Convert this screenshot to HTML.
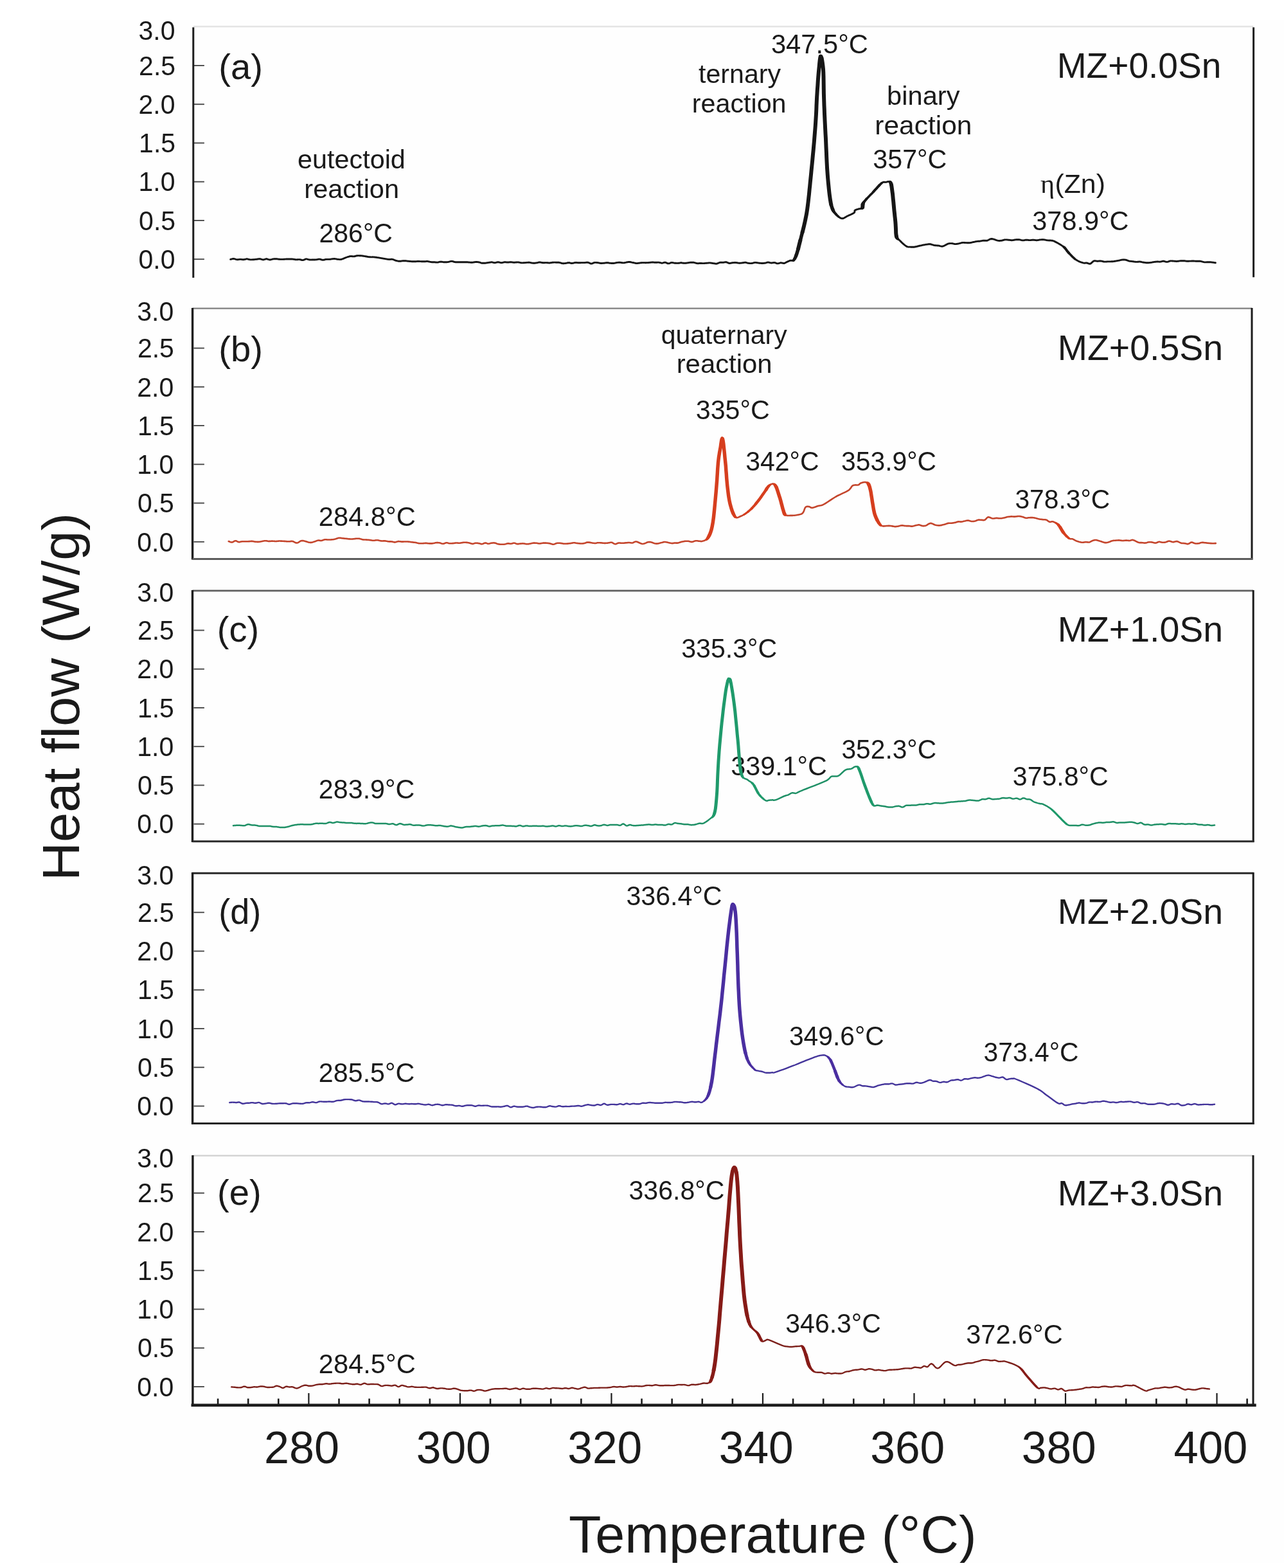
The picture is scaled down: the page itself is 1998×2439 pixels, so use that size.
<!DOCTYPE html>
<html><head><meta charset="utf-8"><title>DSC heat flow curves</title>
<style>html,body{margin:0;padding:0;background:#fff;}svg{display:block;}</style></head>
<body><svg width="1998" height="2439" viewBox="0 0 1998 2439">
<defs><clipPath id="cp"><rect x="62" y="0" width="1936" height="2431"/></clipPath></defs>
<rect width="1998" height="2439" fill="#fff"/>
<rect x="62" y="31" width="1936" height="2401" fill="#fefefe"/>
<g clip-path="url(#cp)">
<text transform="translate(215.44,417.90) scale(0.9550,1)" font-size="43" fill="#1a1a1a" font-family='"Liberation Sans", Arial, sans-serif'>0.0</text>
<line x1="301.4" y1="403.2" x2="317.9" y2="403.2" stroke="#4a4a4a" stroke-width="1.9"/>
<text transform="translate(216.08,357.65) scale(0.9550,1)" font-size="43" fill="#1a1a1a" font-family='"Liberation Sans", Arial, sans-serif'>0.5</text>
<line x1="301.4" y1="342.95" x2="317.9" y2="342.95" stroke="#4a4a4a" stroke-width="1.9"/>
<text transform="translate(215.44,297.40) scale(0.9550,1)" font-size="43" fill="#1a1a1a" font-family='"Liberation Sans", Arial, sans-serif'>1.0</text>
<line x1="301.4" y1="282.7" x2="317.9" y2="282.7" stroke="#4a4a4a" stroke-width="1.9"/>
<text transform="translate(216.08,237.15) scale(0.9550,1)" font-size="43" fill="#1a1a1a" font-family='"Liberation Sans", Arial, sans-serif'>1.5</text>
<line x1="301.4" y1="222.45" x2="317.9" y2="222.45" stroke="#4a4a4a" stroke-width="1.9"/>
<text transform="translate(215.44,176.90) scale(0.9550,1)" font-size="43" fill="#1a1a1a" font-family='"Liberation Sans", Arial, sans-serif'>2.0</text>
<line x1="301.4" y1="162.2" x2="317.9" y2="162.2" stroke="#4a4a4a" stroke-width="1.9"/>
<text transform="translate(216.08,116.65) scale(0.9550,1)" font-size="43" fill="#1a1a1a" font-family='"Liberation Sans", Arial, sans-serif'>2.5</text>
<line x1="301.4" y1="101.94999999999999" x2="317.9" y2="101.94999999999999" stroke="#4a4a4a" stroke-width="1.9"/>
<text transform="translate(215.44,61.50) scale(0.9550,1)" font-size="43" fill="#1a1a1a" font-family='"Liberation Sans", Arial, sans-serif'>3.0</text>
<text transform="translate(213.24,857.50) scale(0.9550,1)" font-size="43" fill="#1a1a1a" font-family='"Liberation Sans", Arial, sans-serif'>0.0</text>
<line x1="301.4" y1="842.8" x2="317.9" y2="842.8" stroke="#4a4a4a" stroke-width="1.9"/>
<text transform="translate(213.88,797.25) scale(0.9550,1)" font-size="43" fill="#1a1a1a" font-family='"Liberation Sans", Arial, sans-serif'>0.5</text>
<line x1="301.4" y1="782.55" x2="317.9" y2="782.55" stroke="#4a4a4a" stroke-width="1.9"/>
<text transform="translate(213.24,737.00) scale(0.9550,1)" font-size="43" fill="#1a1a1a" font-family='"Liberation Sans", Arial, sans-serif'>1.0</text>
<line x1="301.4" y1="722.3" x2="317.9" y2="722.3" stroke="#4a4a4a" stroke-width="1.9"/>
<text transform="translate(213.88,676.75) scale(0.9550,1)" font-size="43" fill="#1a1a1a" font-family='"Liberation Sans", Arial, sans-serif'>1.5</text>
<line x1="301.4" y1="662.05" x2="317.9" y2="662.05" stroke="#4a4a4a" stroke-width="1.9"/>
<text transform="translate(213.24,616.50) scale(0.9550,1)" font-size="43" fill="#1a1a1a" font-family='"Liberation Sans", Arial, sans-serif'>2.0</text>
<line x1="301.4" y1="601.8" x2="317.9" y2="601.8" stroke="#4a4a4a" stroke-width="1.9"/>
<text transform="translate(213.88,556.25) scale(0.9550,1)" font-size="43" fill="#1a1a1a" font-family='"Liberation Sans", Arial, sans-serif'>2.5</text>
<line x1="301.4" y1="541.55" x2="317.9" y2="541.55" stroke="#4a4a4a" stroke-width="1.9"/>
<text transform="translate(213.24,498.60) scale(0.9550,1)" font-size="43" fill="#1a1a1a" font-family='"Liberation Sans", Arial, sans-serif'>3.0</text>
<text transform="translate(213.24,1296.40) scale(0.9550,1)" font-size="43" fill="#1a1a1a" font-family='"Liberation Sans", Arial, sans-serif'>0.0</text>
<line x1="301.4" y1="1281.7" x2="317.9" y2="1281.7" stroke="#4a4a4a" stroke-width="1.9"/>
<text transform="translate(213.88,1236.15) scale(0.9550,1)" font-size="43" fill="#1a1a1a" font-family='"Liberation Sans", Arial, sans-serif'>0.5</text>
<line x1="301.4" y1="1221.45" x2="317.9" y2="1221.45" stroke="#4a4a4a" stroke-width="1.9"/>
<text transform="translate(213.24,1175.90) scale(0.9550,1)" font-size="43" fill="#1a1a1a" font-family='"Liberation Sans", Arial, sans-serif'>1.0</text>
<line x1="301.4" y1="1161.2" x2="317.9" y2="1161.2" stroke="#4a4a4a" stroke-width="1.9"/>
<text transform="translate(213.88,1115.65) scale(0.9550,1)" font-size="43" fill="#1a1a1a" font-family='"Liberation Sans", Arial, sans-serif'>1.5</text>
<line x1="301.4" y1="1100.95" x2="317.9" y2="1100.95" stroke="#4a4a4a" stroke-width="1.9"/>
<text transform="translate(213.24,1055.40) scale(0.9550,1)" font-size="43" fill="#1a1a1a" font-family='"Liberation Sans", Arial, sans-serif'>2.0</text>
<line x1="301.4" y1="1040.7" x2="317.9" y2="1040.7" stroke="#4a4a4a" stroke-width="1.9"/>
<text transform="translate(213.88,995.15) scale(0.9550,1)" font-size="43" fill="#1a1a1a" font-family='"Liberation Sans", Arial, sans-serif'>2.5</text>
<line x1="301.4" y1="980.45" x2="317.9" y2="980.45" stroke="#4a4a4a" stroke-width="1.9"/>
<text transform="translate(213.24,936.30) scale(0.9550,1)" font-size="43" fill="#1a1a1a" font-family='"Liberation Sans", Arial, sans-serif'>3.0</text>
<text transform="translate(213.24,1735.20) scale(0.9550,1)" font-size="43" fill="#1a1a1a" font-family='"Liberation Sans", Arial, sans-serif'>0.0</text>
<line x1="301.4" y1="1720.5" x2="317.9" y2="1720.5" stroke="#4a4a4a" stroke-width="1.9"/>
<text transform="translate(213.88,1674.95) scale(0.9550,1)" font-size="43" fill="#1a1a1a" font-family='"Liberation Sans", Arial, sans-serif'>0.5</text>
<line x1="301.4" y1="1660.25" x2="317.9" y2="1660.25" stroke="#4a4a4a" stroke-width="1.9"/>
<text transform="translate(213.24,1614.70) scale(0.9550,1)" font-size="43" fill="#1a1a1a" font-family='"Liberation Sans", Arial, sans-serif'>1.0</text>
<line x1="301.4" y1="1600.0" x2="317.9" y2="1600.0" stroke="#4a4a4a" stroke-width="1.9"/>
<text transform="translate(213.88,1554.45) scale(0.9550,1)" font-size="43" fill="#1a1a1a" font-family='"Liberation Sans", Arial, sans-serif'>1.5</text>
<line x1="301.4" y1="1539.75" x2="317.9" y2="1539.75" stroke="#4a4a4a" stroke-width="1.9"/>
<text transform="translate(213.24,1494.20) scale(0.9550,1)" font-size="43" fill="#1a1a1a" font-family='"Liberation Sans", Arial, sans-serif'>2.0</text>
<line x1="301.4" y1="1479.5" x2="317.9" y2="1479.5" stroke="#4a4a4a" stroke-width="1.9"/>
<text transform="translate(213.88,1433.95) scale(0.9550,1)" font-size="43" fill="#1a1a1a" font-family='"Liberation Sans", Arial, sans-serif'>2.5</text>
<line x1="301.4" y1="1419.25" x2="317.9" y2="1419.25" stroke="#4a4a4a" stroke-width="1.9"/>
<text transform="translate(213.24,1375.90) scale(0.9550,1)" font-size="43" fill="#1a1a1a" font-family='"Liberation Sans", Arial, sans-serif'>3.0</text>
<text transform="translate(213.24,2171.70) scale(0.9550,1)" font-size="43" fill="#1a1a1a" font-family='"Liberation Sans", Arial, sans-serif'>0.0</text>
<line x1="301.4" y1="2157.0" x2="317.9" y2="2157.0" stroke="#4a4a4a" stroke-width="1.9"/>
<text transform="translate(213.88,2111.45) scale(0.9550,1)" font-size="43" fill="#1a1a1a" font-family='"Liberation Sans", Arial, sans-serif'>0.5</text>
<line x1="301.4" y1="2096.75" x2="317.9" y2="2096.75" stroke="#4a4a4a" stroke-width="1.9"/>
<text transform="translate(213.24,2051.20) scale(0.9550,1)" font-size="43" fill="#1a1a1a" font-family='"Liberation Sans", Arial, sans-serif'>1.0</text>
<line x1="301.4" y1="2036.5" x2="317.9" y2="2036.5" stroke="#4a4a4a" stroke-width="1.9"/>
<text transform="translate(213.88,1990.95) scale(0.9550,1)" font-size="43" fill="#1a1a1a" font-family='"Liberation Sans", Arial, sans-serif'>1.5</text>
<line x1="301.4" y1="1976.25" x2="317.9" y2="1976.25" stroke="#4a4a4a" stroke-width="1.9"/>
<text transform="translate(213.24,1930.70) scale(0.9550,1)" font-size="43" fill="#1a1a1a" font-family='"Liberation Sans", Arial, sans-serif'>2.0</text>
<line x1="301.4" y1="1916.0" x2="317.9" y2="1916.0" stroke="#4a4a4a" stroke-width="1.9"/>
<text transform="translate(213.88,1870.45) scale(0.9550,1)" font-size="43" fill="#1a1a1a" font-family='"Liberation Sans", Arial, sans-serif'>2.5</text>
<line x1="301.4" y1="1855.75" x2="317.9" y2="1855.75" stroke="#4a4a4a" stroke-width="1.9"/>
<text transform="translate(213.24,1815.50) scale(0.9550,1)" font-size="43" fill="#1a1a1a" font-family='"Liberation Sans", Arial, sans-serif'>3.0</text>
<line x1="300.8" y1="41.2" x2="1950.3" y2="41.2" stroke="#e4e4e4" stroke-width="2.6"/>
<line x1="300.8" y1="42.6" x2="300.8" y2="432" stroke="#1c1c1c" stroke-width="3"/>
<line x1="1950.6" y1="42.6" x2="1950.6" y2="431.2" stroke="#1c1c1c" stroke-width="3"/>
<line x1="299.6" y1="479.7" x2="1948" y2="479.7" stroke="#8c8c8c" stroke-width="2.6"/>
<line x1="299.6" y1="479" x2="299.6" y2="870.5" stroke="#1c1c1c" stroke-width="3.4"/>
<line x1="1948" y1="479" x2="1948" y2="870.5" stroke="#1c1c1c" stroke-width="3"/>
<line x1="299.6" y1="869.6" x2="1949.5" y2="869.6" stroke="#5c5c5c" stroke-width="3"/>
<line x1="299.5" y1="918.9" x2="1950.2" y2="918.9" stroke="#606060" stroke-width="2.6"/>
<line x1="299.5" y1="918" x2="299.5" y2="1310" stroke="#1c1c1c" stroke-width="3.4"/>
<line x1="1950.2" y1="918" x2="1950.2" y2="1310" stroke="#1c1c1c" stroke-width="3"/>
<line x1="299.5" y1="1308.8" x2="1951.5" y2="1308.8" stroke="#2a2a2a" stroke-width="3"/>
<line x1="299.6" y1="1358.3" x2="1950.2" y2="1358.3" stroke="#2a2a2a" stroke-width="3"/>
<line x1="299.6" y1="1357" x2="299.6" y2="1749" stroke="#1c1c1c" stroke-width="3.4"/>
<line x1="1950.2" y1="1357" x2="1950.2" y2="1749" stroke="#1c1c1c" stroke-width="3"/>
<line x1="299.6" y1="1747.6" x2="1951.5" y2="1747.6" stroke="#222" stroke-width="3"/>
<line x1="299.9" y1="1797.7" x2="1950" y2="1797.7" stroke="#d0d0d0" stroke-width="2.2"/>
<line x1="299.9" y1="1797" x2="299.9" y2="2188" stroke="#1c1c1c" stroke-width="3.4"/>
<line x1="1950" y1="1797" x2="1950" y2="2188" stroke="#1c1c1c" stroke-width="3"/>
<line x1="297.5" y1="2185.8" x2="1954.7" y2="2185.8" stroke="#1c1c1c" stroke-width="4.4"/>
<line x1="339.08799999999997" y1="2184" x2="339.08799999999997" y2="2175.5" stroke="#1c1c1c" stroke-width="2.6"/>
<line x1="386.192" y1="2184" x2="386.192" y2="2175.5" stroke="#1c1c1c" stroke-width="2.6"/>
<line x1="433.296" y1="2184" x2="433.296" y2="2175.5" stroke="#1c1c1c" stroke-width="2.6"/>
<line x1="480.4" y1="2184" x2="480.4" y2="2167" stroke="#1c1c1c" stroke-width="2.2"/>
<line x1="527.504" y1="2184" x2="527.504" y2="2175.5" stroke="#1c1c1c" stroke-width="2.6"/>
<line x1="574.608" y1="2184" x2="574.608" y2="2175.5" stroke="#1c1c1c" stroke-width="2.6"/>
<line x1="621.712" y1="2184" x2="621.712" y2="2175.5" stroke="#1c1c1c" stroke-width="2.6"/>
<line x1="668.816" y1="2184" x2="668.816" y2="2175.5" stroke="#1c1c1c" stroke-width="2.6"/>
<line x1="715.92" y1="2184" x2="715.92" y2="2167" stroke="#1c1c1c" stroke-width="2.2"/>
<line x1="763.024" y1="2184" x2="763.024" y2="2175.5" stroke="#1c1c1c" stroke-width="2.6"/>
<line x1="810.1279999999999" y1="2184" x2="810.1279999999999" y2="2175.5" stroke="#1c1c1c" stroke-width="2.6"/>
<line x1="857.232" y1="2184" x2="857.232" y2="2175.5" stroke="#1c1c1c" stroke-width="2.6"/>
<line x1="904.336" y1="2184" x2="904.336" y2="2175.5" stroke="#1c1c1c" stroke-width="2.6"/>
<line x1="951.4399999999999" y1="2184" x2="951.4399999999999" y2="2167" stroke="#1c1c1c" stroke-width="2.2"/>
<line x1="998.544" y1="2184" x2="998.544" y2="2175.5" stroke="#1c1c1c" stroke-width="2.6"/>
<line x1="1045.6480000000001" y1="2184" x2="1045.6480000000001" y2="2175.5" stroke="#1c1c1c" stroke-width="2.6"/>
<line x1="1092.752" y1="2184" x2="1092.752" y2="2175.5" stroke="#1c1c1c" stroke-width="2.6"/>
<line x1="1139.856" y1="2184" x2="1139.856" y2="2175.5" stroke="#1c1c1c" stroke-width="2.6"/>
<line x1="1186.96" y1="2184" x2="1186.96" y2="2167" stroke="#1c1c1c" stroke-width="2.2"/>
<line x1="1234.0639999999999" y1="2184" x2="1234.0639999999999" y2="2175.5" stroke="#1c1c1c" stroke-width="2.6"/>
<line x1="1281.1680000000001" y1="2184" x2="1281.1680000000001" y2="2175.5" stroke="#1c1c1c" stroke-width="2.6"/>
<line x1="1328.272" y1="2184" x2="1328.272" y2="2175.5" stroke="#1c1c1c" stroke-width="2.6"/>
<line x1="1375.376" y1="2184" x2="1375.376" y2="2175.5" stroke="#1c1c1c" stroke-width="2.6"/>
<line x1="1422.48" y1="2184" x2="1422.48" y2="2167" stroke="#1c1c1c" stroke-width="2.2"/>
<line x1="1469.5839999999998" y1="2184" x2="1469.5839999999998" y2="2175.5" stroke="#1c1c1c" stroke-width="2.6"/>
<line x1="1516.688" y1="2184" x2="1516.688" y2="2175.5" stroke="#1c1c1c" stroke-width="2.6"/>
<line x1="1563.792" y1="2184" x2="1563.792" y2="2175.5" stroke="#1c1c1c" stroke-width="2.6"/>
<line x1="1610.8960000000002" y1="2184" x2="1610.8960000000002" y2="2175.5" stroke="#1c1c1c" stroke-width="2.6"/>
<line x1="1658.0" y1="2184" x2="1658.0" y2="2167" stroke="#1c1c1c" stroke-width="2.2"/>
<line x1="1705.1039999999998" y1="2184" x2="1705.1039999999998" y2="2175.5" stroke="#1c1c1c" stroke-width="2.6"/>
<line x1="1752.208" y1="2184" x2="1752.208" y2="2175.5" stroke="#1c1c1c" stroke-width="2.6"/>
<line x1="1799.312" y1="2184" x2="1799.312" y2="2175.5" stroke="#1c1c1c" stroke-width="2.6"/>
<line x1="1846.4160000000002" y1="2184" x2="1846.4160000000002" y2="2175.5" stroke="#1c1c1c" stroke-width="2.6"/>
<line x1="1893.52" y1="2184" x2="1893.52" y2="2167" stroke="#1c1c1c" stroke-width="2.2"/>
<line x1="1940.6239999999998" y1="2184" x2="1940.6239999999998" y2="2175.5" stroke="#1c1c1c" stroke-width="2.6"/>
<text transform="translate(411.11,2276.00) scale(1.0021,1)" font-size="70" fill="#1a1a1a" font-family='"Liberation Sans", Arial, sans-serif'>280</text>
<text transform="translate(647.75,2276.00) scale(0.9924,1)" font-size="70" fill="#1a1a1a" font-family='"Liberation Sans", Arial, sans-serif'>300</text>
<text transform="translate(883.27,2276.00) scale(0.9924,1)" font-size="70" fill="#1a1a1a" font-family='"Liberation Sans", Arial, sans-serif'>320</text>
<text transform="translate(1118.79,2276.00) scale(0.9924,1)" font-size="70" fill="#1a1a1a" font-family='"Liberation Sans", Arial, sans-serif'>340</text>
<text transform="translate(1354.31,2276.00) scale(0.9924,1)" font-size="70" fill="#1a1a1a" font-family='"Liberation Sans", Arial, sans-serif'>360</text>
<text transform="translate(1589.83,2276.00) scale(0.9924,1)" font-size="70" fill="#1a1a1a" font-family='"Liberation Sans", Arial, sans-serif'>380</text>
<text transform="translate(1826.45,2276.00) scale(0.9828,1)" font-size="70" fill="#1a1a1a" font-family='"Liberation Sans", Arial, sans-serif'>400</text>
<text transform="translate(885.01,2415.00) scale(1.0077,1)" font-size="82" fill="#1a1a1a" font-family='"Liberation Sans", Arial, sans-serif'>Temperature (°C)</text>
<g transform="translate(122.7,1363.5) rotate(-90)"><text transform="translate(-6.49,0) scale(1.0129,1)" font-size="82" fill="#1a1a1a" font-family='"Liberation Sans", Arial, sans-serif'>Heat flow (W/g)</text></g>
<text transform="translate(340.16,122.50) scale(1.0227,1)" font-size="55" fill="#1a1a1a" font-family='"Liberation Sans", Arial, sans-serif'>(a)</text>
<text transform="translate(340.16,561.50) scale(1.0227,1)" font-size="55" fill="#1a1a1a" font-family='"Liberation Sans", Arial, sans-serif'>(b)</text>
<text transform="translate(337.77,998.00) scale(1.0186,1)" font-size="55" fill="#1a1a1a" font-family='"Liberation Sans", Arial, sans-serif'>(c)</text>
<text transform="translate(340.26,1437.40) scale(0.9839,1)" font-size="55" fill="#1a1a1a" font-family='"Liberation Sans", Arial, sans-serif'>(d)</text>
<text transform="translate(338.07,1874.00) scale(1.0211,1)" font-size="55" fill="#1a1a1a" font-family='"Liberation Sans", Arial, sans-serif'>(e)</text>
<text transform="translate(1644.70,121.10) scale(1.0017,1)" font-size="55" fill="#1a1a1a" font-family='"Liberation Sans", Arial, sans-serif'>MZ+0.0Sn</text>
<text transform="translate(1645.87,559.60) scale(1.0074,1)" font-size="55" fill="#1a1a1a" font-family='"Liberation Sans", Arial, sans-serif'>MZ+0.5Sn</text>
<text transform="translate(1645.87,997.80) scale(1.0074,1)" font-size="55" fill="#1a1a1a" font-family='"Liberation Sans", Arial, sans-serif'>MZ+1.0Sn</text>
<text transform="translate(1645.87,1436.80) scale(1.0074,1)" font-size="55" fill="#1a1a1a" font-family='"Liberation Sans", Arial, sans-serif'>MZ+2.0Sn</text>
<text transform="translate(1645.87,1874.80) scale(1.0074,1)" font-size="55" fill="#1a1a1a" font-family='"Liberation Sans", Arial, sans-serif'>MZ+3.0Sn</text>
<text transform="translate(1199.90,82.70) scale(0.9692,1)" font-size="43" fill="#1a1a1a" font-family='"Liberation Sans", Arial, sans-serif'>347.5°C</text>
<text transform="translate(1087.10,128.70) scale(1.0274,1)" font-size="40" fill="#1a1a1a" font-family='"Liberation Sans", Arial, sans-serif'>ternary</text>
<text transform="translate(1076.72,174.70) scale(1.0323,1)" font-size="40" fill="#1a1a1a" font-family='"Liberation Sans", Arial, sans-serif'>reaction</text>
<text transform="translate(1380.10,162.50) scale(1.0409,1)" font-size="40" fill="#1a1a1a" font-family='"Liberation Sans", Arial, sans-serif'>binary</text>
<text transform="translate(1361.35,208.60) scale(1.0614,1)" font-size="40" fill="#1a1a1a" font-family='"Liberation Sans", Arial, sans-serif'>reaction</text>
<text transform="translate(1358.31,261.90) scale(0.9594,1)" font-size="43" fill="#1a1a1a" font-family='"Liberation Sans", Arial, sans-serif'>357°C</text>
<text transform="translate(463.11,262.00) scale(1.0337,1)" font-size="40" fill="#1a1a1a" font-family='"Liberation Sans", Arial, sans-serif'>eutectoid</text>
<text transform="translate(473.30,308.10) scale(1.0388,1)" font-size="40" fill="#1a1a1a" font-family='"Liberation Sans", Arial, sans-serif'>reaction</text>
<text transform="translate(496.48,376.70) scale(0.9546,1)" font-size="43" fill="#1a1a1a" font-family='"Liberation Sans", Arial, sans-serif'>286°C</text>
<text transform="translate(1606.30,357.70) scale(0.9639,1)" font-size="43" fill="#1a1a1a" font-family='"Liberation Sans", Arial, sans-serif'>378.9°C</text>
<text transform="translate(1028.72,534.90) scale(1.0248,1)" font-size="40" fill="#1a1a1a" font-family='"Liberation Sans", Arial, sans-serif'>quaternary</text>
<text transform="translate(1052.68,579.90) scale(1.0468,1)" font-size="40" fill="#1a1a1a" font-family='"Liberation Sans", Arial, sans-serif'>reaction</text>
<text transform="translate(1082.81,652.40) scale(0.9577,1)" font-size="43" fill="#1a1a1a" font-family='"Liberation Sans", Arial, sans-serif'>335°C</text>
<text transform="translate(1160.22,732.10) scale(0.9534,1)" font-size="43" fill="#1a1a1a" font-family='"Liberation Sans", Arial, sans-serif'>342°C</text>
<text transform="translate(1309.12,732.10) scale(0.9496,1)" font-size="43" fill="#1a1a1a" font-family='"Liberation Sans", Arial, sans-serif'>353.9°C</text>
<text transform="translate(495.85,817.50) scale(0.9682,1)" font-size="43" fill="#1a1a1a" font-family='"Liberation Sans", Arial, sans-serif'>284.8°C</text>
<text transform="translate(1579.42,790.80) scale(0.9489,1)" font-size="43" fill="#1a1a1a" font-family='"Liberation Sans", Arial, sans-serif'>378.3°C</text>
<text transform="translate(1060.22,1023.10) scale(0.9561,1)" font-size="43" fill="#1a1a1a" font-family='"Liberation Sans", Arial, sans-serif'>335.3°C</text>
<text transform="translate(1137.31,1206.30) scale(0.9600,1)" font-size="43" fill="#1a1a1a" font-family='"Liberation Sans", Arial, sans-serif'>339.1°C</text>
<text transform="translate(1309.43,1180.30) scale(0.9476,1)" font-size="43" fill="#1a1a1a" font-family='"Liberation Sans", Arial, sans-serif'>352.3°C</text>
<text transform="translate(495.87,1241.90) scale(0.9590,1)" font-size="43" fill="#1a1a1a" font-family='"Liberation Sans", Arial, sans-serif'>283.9°C</text>
<text transform="translate(1575.82,1222.30) scale(0.9548,1)" font-size="43" fill="#1a1a1a" font-family='"Liberation Sans", Arial, sans-serif'>375.8°C</text>
<text transform="translate(974.41,1408.20) scale(0.9574,1)" font-size="43" fill="#1a1a1a" font-family='"Liberation Sans", Arial, sans-serif'>336.4°C</text>
<text transform="translate(1227.92,1626.20) scale(0.9489,1)" font-size="43" fill="#1a1a1a" font-family='"Liberation Sans", Arial, sans-serif'>349.6°C</text>
<text transform="translate(495.87,1683.30) scale(0.9590,1)" font-size="43" fill="#1a1a1a" font-family='"Liberation Sans", Arial, sans-serif'>285.5°C</text>
<text transform="translate(1530.62,1651.00) scale(0.9489,1)" font-size="43" fill="#1a1a1a" font-family='"Liberation Sans", Arial, sans-serif'>373.4°C</text>
<text transform="translate(978.52,1865.90) scale(0.9554,1)" font-size="43" fill="#1a1a1a" font-family='"Liberation Sans", Arial, sans-serif'>336.8°C</text>
<text transform="translate(1222.32,2072.50) scale(0.9528,1)" font-size="43" fill="#1a1a1a" font-family='"Liberation Sans", Arial, sans-serif'>346.3°C</text>
<text transform="translate(495.85,2136.30) scale(0.9682,1)" font-size="43" fill="#1a1a1a" font-family='"Liberation Sans", Arial, sans-serif'>284.5°C</text>
<text transform="translate(1503.20,2089.70) scale(0.9659,1)" font-size="43" fill="#1a1a1a" font-family='"Liberation Sans", Arial, sans-serif'>372.6°C</text>
<text transform="translate(1619.04,300.10) scale(1.0302,1)" font-size="41" fill="#1a1a1a" font-family='"Liberation Serif", serif'>η</text>
<text transform="translate(1641.49,300.10) scale(1.0435,1)" font-size="41" fill="#1a1a1a" font-family='"Liberation Sans", Arial, sans-serif'>(Zn)</text>
<path d="M358.7,403.4 L359.3,403.3 L360.0,403.1 L360.9,402.9 L361.9,402.7 L362.9,402.5 L363.8,402.5 L364.6,402.6 L365.5,402.8 L366.3,403.1 L367.2,403.4 L368.0,403.6 L368.9,403.8 L369.7,403.8 L370.6,403.7 L371.4,403.6 L372.2,403.5 L373.1,403.4 L373.9,403.4 L374.8,403.4 L375.6,403.5 L376.5,403.6 L377.3,403.7 L378.2,403.8 L379.0,403.8 L379.9,403.7 L380.7,403.5 L381.6,403.3 L382.4,403.1 L383.3,402.9 L384.1,402.8 L385.0,402.9 L385.8,403.1 L386.6,403.3 L387.5,403.5 L388.3,403.7 L389.2,403.9 L390.0,403.9 L390.9,403.9 L391.7,403.9 L392.6,403.9 L393.4,403.8 L394.3,403.8 L395.1,403.7 L396.0,403.6 L396.8,403.5 L397.7,403.4 L398.5,403.4 L399.4,403.3 L400.2,403.2 L401.0,403.0 L401.9,402.9 L402.7,402.8 L403.6,402.7 L404.4,402.7 L405.3,402.8 L406.1,403.1 L407.0,403.4 L407.8,403.7 L408.7,403.9 L409.5,404.0 L410.4,403.9 L411.2,403.6 L412.1,403.3 L412.9,403.1 L413.7,402.8 L414.6,402.7 L415.4,402.8 L416.3,403.1 L417.1,403.4 L418.0,403.7 L418.8,403.9 L419.7,404.0 L420.5,404.0 L421.4,403.8 L422.2,403.6 L423.1,403.4 L423.9,403.2 L424.8,403.0 L425.6,402.9 L426.5,402.8 L427.3,402.8 L428.1,402.7 L429.0,402.7 L429.8,402.7 L430.7,402.8 L431.5,402.9 L432.4,403.0 L433.2,403.1 L434.1,403.2 L434.9,403.3 L435.8,403.4 L436.6,403.4 L437.5,403.4 L438.3,403.4 L439.1,403.4 L440.0,403.4 L440.9,403.4 L441.7,403.3 L442.6,403.2 L443.5,403.1 L444.3,403.1 L445.2,403.0 L446.1,403.0 L446.9,403.0 L447.8,403.0 L448.7,403.0 L449.5,403.0 L450.4,403.0 L451.3,403.0 L452.1,403.0 L453.0,403.0 L453.9,403.0 L454.7,403.0 L455.6,403.1 L456.5,403.2 L457.3,403.4 L458.2,403.5 L459.1,403.7 L459.9,403.8 L460.8,403.9 L461.7,403.9 L462.5,403.8 L463.4,403.7 L464.3,403.6 L465.1,403.6 L466.0,403.6 L466.9,403.7 L467.7,404.0 L468.6,404.2 L469.5,404.5 L470.3,404.6 L471.2,404.6 L472.1,404.5 L472.9,404.2 L473.8,403.8 L474.7,403.4 L475.5,403.0 L476.4,402.9 L477.3,402.9 L478.1,403.1 L479.0,403.3 L479.9,403.6 L480.7,403.8 L481.6,404.0 L482.5,404.0 L483.3,404.1 L484.2,404.1 L485.1,404.0 L485.9,404.0 L486.8,404.0 L487.7,404.0 L488.5,404.0 L489.4,404.0 L490.3,404.0 L491.1,403.9 L492.0,403.9 L492.9,403.8 L493.7,403.6 L494.6,403.4 L495.5,403.2 L496.3,403.1 L497.2,403.1 L498.1,403.2 L498.9,403.5 L499.8,403.8 L500.7,404.0 L501.5,404.3 L502.4,404.4 L503.3,404.3 L504.1,404.2 L505.0,404.0 L505.9,403.7 L506.7,403.5 L507.6,403.4 L508.4,403.4 L509.3,403.4 L510.1,403.4 L510.9,403.4 L511.8,403.4 L512.8,403.4 L513.9,403.3 L514.9,403.1 L516.1,402.9 L517.3,402.7 L518.6,402.6 L520.0,402.5 L521.5,402.6 L523.1,402.9 L524.8,403.2 L526.6,403.4 L528.3,403.6 L530.0,403.5 L531.7,403.2 L533.5,402.6 L535.3,401.9 L537.0,401.2 L538.6,400.5 L540.0,400.0 L541.2,399.6 L542.1,399.3 L543.0,399.1 L543.7,398.8 L544.5,398.7 L545.3,398.6 L546.2,398.5 L547.1,398.6 L548.0,398.7 L548.9,398.8 L549.8,398.9 L550.7,398.9 L551.5,398.8 L552.4,398.5 L553.2,398.3 L554.1,398.0 L555.0,397.8 L556.0,397.7 L557.1,397.6 L558.2,397.6 L559.4,397.7 L560.6,397.7 L561.8,397.8 L563.0,397.9 L564.2,398.0 L565.4,398.2 L566.6,398.4 L567.7,398.6 L568.9,398.8 L570.0,399.0 L571.0,399.2 L572.0,399.3 L573.0,399.5 L574.0,399.6 L574.9,399.7 L575.9,399.8 L576.9,399.9 L577.9,399.9 L578.9,399.9 L579.8,399.8 L580.8,399.9 L581.8,399.9 L582.8,400.0 L583.8,400.1 L584.8,400.2 L585.7,400.3 L586.7,400.5 L587.7,400.6 L588.7,400.8 L589.6,400.9 L590.6,401.1 L591.5,401.3 L592.5,401.4 L593.5,401.6 L594.4,401.8 L595.4,401.9 L596.3,402.1 L597.3,402.3 L598.3,402.4 L599.2,402.6 L600.2,402.8 L601.1,402.9 L602.1,403.1 L603.1,403.3 L604.0,403.4 L605.0,403.5 L605.9,403.5 L606.9,403.5 L607.9,403.4 L608.8,403.3 L609.8,403.3 L610.7,403.4 L611.7,403.6 L612.7,404.0 L613.6,404.4 L614.6,404.8 L615.6,405.2 L616.5,405.5 L617.4,405.7 L618.4,405.9 L619.3,406.1 L620.2,406.2 L621.2,406.3 L622.1,406.3 L623.0,406.3 L623.9,406.2 L624.9,406.0 L625.8,405.9 L626.7,405.8 L627.7,405.7 L628.6,405.7 L629.5,405.7 L630.5,405.8 L631.4,405.8 L632.3,405.9 L633.2,406.0 L634.2,406.1 L635.1,406.2 L636.0,406.3 L637.0,406.4 L637.9,406.5 L638.8,406.5 L639.8,406.6 L640.7,406.7 L641.6,406.7 L642.6,406.8 L643.5,406.8 L644.4,406.8 L645.4,406.8 L646.3,406.8 L647.2,406.7 L648.2,406.6 L649.1,406.5 L650.0,406.5 L650.9,406.5 L651.7,406.5 L652.6,406.5 L653.4,406.6 L654.2,406.6 L655.1,406.6 L655.9,406.7 L656.8,406.7 L657.6,406.8 L658.5,406.8 L659.3,406.8 L660.2,406.8 L661.0,406.8 L661.9,406.7 L662.7,406.6 L663.6,406.5 L664.4,406.5 L665.3,406.5 L666.1,406.6 L667.0,406.8 L667.8,407.0 L668.6,407.2 L669.5,407.4 L670.3,407.5 L671.2,407.6 L672.0,407.7 L672.9,407.7 L673.7,407.7 L674.6,407.7 L675.4,407.7 L676.3,407.8 L677.1,407.9 L678.0,408.0 L678.8,408.0 L679.7,408.1 L680.5,408.1 L681.4,408.0 L682.2,407.8 L683.0,407.6 L683.9,407.4 L684.7,407.3 L685.6,407.2 L686.5,407.2 L687.5,407.3 L688.4,407.4 L689.4,407.6 L690.4,407.7 L691.3,407.7 L692.3,407.7 L693.2,407.7 L694.2,407.7 L695.2,407.7 L696.1,407.6 L697.1,407.5 L698.0,407.3 L699.0,407.1 L699.9,406.8 L700.9,406.6 L701.8,406.4 L702.8,406.4 L703.8,406.5 L704.7,406.7 L705.7,407.0 L706.6,407.3 L707.6,407.5 L708.5,407.7 L709.5,407.8 L710.4,407.8 L711.4,407.8 L712.4,407.7 L713.3,407.7 L714.3,407.7 L715.2,407.7 L716.2,407.7 L717.2,407.8 L718.1,407.8 L719.1,407.8 L720.0,407.8 L720.9,407.8 L721.7,407.8 L722.5,407.7 L723.4,407.7 L724.2,407.7 L725.0,407.7 L725.8,407.7 L726.7,407.8 L727.5,407.8 L728.3,407.9 L729.2,408.0 L730.0,408.0 L730.8,408.1 L731.7,408.1 L732.5,408.2 L733.3,408.2 L734.2,408.2 L735.0,408.2 L735.8,408.1 L736.7,408.0 L737.5,407.8 L738.3,407.7 L739.2,407.6 L740.0,407.5 L740.8,407.5 L741.7,407.5 L742.5,407.5 L743.3,407.6 L744.2,407.7 L745.0,407.8 L745.8,408.0 L746.7,408.2 L747.5,408.5 L748.3,408.8 L749.2,409.1 L750.0,409.2 L750.8,409.3 L751.7,409.3 L752.5,409.3 L753.3,409.3 L754.2,409.2 L755.0,409.2 L755.8,409.1 L756.7,409.0 L757.5,408.9 L758.3,408.7 L759.2,408.6 L760.0,408.5 L760.8,408.4 L761.7,408.2 L762.5,408.1 L763.3,408.0 L764.2,407.9 L765.0,407.8 L765.8,407.9 L766.7,408.1 L767.5,408.3 L768.3,408.5 L769.2,408.6 L770.0,408.7 L770.8,408.6 L771.7,408.4 L772.5,408.2 L773.3,408.0 L774.2,407.8 L775.0,407.7 L775.8,407.8 L776.7,408.0 L777.5,408.2 L778.3,408.4 L779.2,408.6 L780.0,408.7 L780.8,408.6 L781.7,408.5 L782.5,408.3 L783.3,408.1 L784.2,407.9 L785.0,407.8 L785.8,407.7 L786.7,407.8 L787.5,407.9 L788.3,408.0 L789.2,408.0 L790.0,408.1 L790.8,408.0 L791.7,408.0 L792.5,407.9 L793.3,407.8 L794.2,407.8 L795.0,407.8 L795.8,407.8 L796.6,407.9 L797.4,408.0 L798.3,408.1 L799.1,408.2 L800.0,408.2 L800.9,408.2 L801.9,408.1 L802.9,408.0 L803.9,408.0 L804.9,407.9 L805.9,407.9 L806.9,408.0 L807.9,408.2 L808.9,408.4 L809.9,408.6 L810.9,408.8 L811.8,408.9 L812.8,408.9 L813.8,408.9 L814.8,408.8 L815.8,408.7 L816.8,408.6 L817.8,408.6 L818.7,408.5 L819.7,408.4 L820.7,408.4 L821.7,408.3 L822.7,408.3 L823.7,408.3 L824.7,408.4 L825.7,408.6 L826.7,408.8 L827.7,409.0 L828.7,409.1 L829.6,409.2 L830.5,409.2 L831.4,409.2 L832.2,409.2 L833.0,409.1 L833.9,409.0 L834.7,408.9 L835.6,408.8 L836.4,408.6 L837.2,408.4 L838.1,408.1 L839.0,408.0 L839.8,407.9 L840.6,408.0 L841.5,408.1 L842.3,408.3 L843.2,408.5 L844.0,408.7 L844.9,408.8 L845.8,408.8 L846.6,408.8 L847.5,408.7 L848.3,408.6 L849.2,408.6 L850.0,408.6 L850.8,408.6 L851.7,408.7 L852.5,408.8 L853.3,408.9 L854.2,409.0 L855.0,409.0 L855.8,408.9 L856.7,408.8 L857.5,408.7 L858.3,408.5 L859.2,408.3 L860.0,408.2 L860.8,408.2 L861.7,408.1 L862.5,408.1 L863.3,408.1 L864.2,408.1 L865.0,408.2 L865.8,408.2 L866.7,408.2 L867.5,408.2 L868.3,408.2 L869.2,408.2 L870.0,408.3 L870.8,408.5 L871.7,408.7 L872.5,409.0 L873.3,409.2 L874.2,409.5 L875.0,409.6 L875.8,409.7 L876.7,409.7 L877.5,409.7 L878.3,409.6 L879.2,409.6 L880.0,409.5 L880.8,409.4 L881.7,409.2 L882.5,409.0 L883.3,408.8 L884.2,408.7 L885.0,408.6 L885.8,408.7 L886.7,408.8 L887.5,409.1 L888.3,409.3 L889.2,409.5 L890.0,409.5 L890.8,409.4 L891.7,409.3 L892.5,409.1 L893.3,408.8 L894.2,408.6 L895.0,408.5 L895.8,408.5 L896.7,408.5 L897.5,408.5 L898.3,408.6 L899.2,408.7 L900.0,408.7 L900.8,408.7 L901.7,408.7 L902.5,408.7 L903.3,408.7 L904.2,408.6 L905.0,408.6 L905.8,408.6 L906.7,408.6 L907.5,408.6 L908.3,408.6 L909.2,408.6 L910.0,408.6 L910.8,408.5 L911.7,408.4 L912.5,408.3 L913.3,408.2 L914.2,408.2 L915.0,408.3 L915.8,408.5 L916.7,408.9 L917.5,409.3 L918.3,409.7 L919.2,410.0 L920.0,410.1 L920.8,410.0 L921.7,409.8 L922.5,409.4 L923.3,409.1 L924.2,408.7 L925.0,408.5 L925.8,408.4 L926.7,408.4 L927.5,408.4 L928.3,408.5 L929.2,408.5 L930.0,408.6 L930.8,408.7 L931.7,408.9 L932.5,409.1 L933.3,409.2 L934.2,409.4 L935.0,409.5 L935.8,409.5 L936.7,409.5 L937.5,409.4 L938.3,409.4 L939.2,409.3 L940.0,409.2 L940.8,409.1 L941.7,409.0 L942.5,408.9 L943.3,408.8 L944.2,408.7 L945.0,408.7 L945.8,408.7 L946.7,408.8 L947.5,409.0 L948.3,409.1 L949.2,409.3 L950.0,409.4 L950.8,409.4 L951.7,409.5 L952.5,409.5 L953.3,409.5 L954.2,409.5 L955.0,409.5 L955.8,409.4 L956.7,409.2 L957.5,409.0 L958.3,408.8 L959.2,408.6 L960.0,408.5 L960.8,408.4 L961.7,408.4 L962.5,408.3 L963.3,408.3 L964.2,408.3 L965.0,408.3 L965.8,408.4 L966.7,408.5 L967.5,408.7 L968.3,408.8 L969.2,408.9 L970.0,408.9 L970.8,408.9 L971.7,408.7 L972.5,408.6 L973.3,408.4 L974.2,408.2 L975.0,408.0 L975.8,407.9 L976.5,407.7 L977.2,407.6 L978.0,407.5 L978.9,407.4 L980.0,407.5 L981.4,407.7 L983.1,408.1 L985.0,408.5 L986.9,408.9 L988.6,409.3 L990.0,409.5 L991.1,409.6 L992.0,409.5 L992.8,409.4 L993.5,409.3 L994.2,409.2 L995.0,409.1 L995.8,409.0 L996.7,408.9 L997.5,408.8 L998.3,408.7 L999.2,408.6 L1000.0,408.6 L1000.8,408.6 L1001.7,408.6 L1002.5,408.6 L1003.3,408.6 L1004.2,408.7 L1005.0,408.7 L1005.8,408.6 L1006.7,408.6 L1007.5,408.6 L1008.3,408.6 L1009.2,408.5 L1010.0,408.5 L1010.8,408.4 L1011.7,408.3 L1012.5,408.2 L1013.3,408.1 L1014.2,408.0 L1015.0,408.0 L1015.8,408.0 L1016.7,408.0 L1017.5,408.1 L1018.3,408.2 L1019.2,408.2 L1020.0,408.3 L1020.8,408.3 L1021.7,408.2 L1022.5,408.2 L1023.3,408.1 L1024.2,408.1 L1025.0,408.1 L1025.8,408.3 L1026.7,408.5 L1027.5,408.7 L1028.3,408.9 L1029.2,409.1 L1030.0,409.2 L1030.8,409.1 L1031.7,408.9 L1032.5,408.7 L1033.3,408.4 L1034.2,408.3 L1035.0,408.2 L1035.8,408.4 L1036.7,408.7 L1037.5,409.1 L1038.3,409.5 L1039.2,409.8 L1040.0,409.9 L1040.8,409.8 L1041.7,409.6 L1042.5,409.3 L1043.3,408.9 L1044.2,408.6 L1045.0,408.5 L1045.8,408.5 L1046.7,408.6 L1047.5,408.7 L1048.3,408.9 L1049.2,409.1 L1050.0,409.2 L1050.8,409.3 L1051.7,409.3 L1052.5,409.4 L1053.3,409.4 L1054.2,409.4 L1055.0,409.4 L1055.8,409.3 L1056.7,409.2 L1057.5,409.1 L1058.3,408.9 L1059.2,408.8 L1060.0,408.8 L1060.8,408.8 L1061.7,409.0 L1062.5,409.1 L1063.3,409.2 L1064.2,409.3 L1065.0,409.4 L1065.8,409.4 L1066.7,409.3 L1067.5,409.2 L1068.3,409.1 L1069.2,409.0 L1070.0,408.9 L1070.8,408.8 L1071.7,408.6 L1072.5,408.5 L1073.3,408.4 L1074.2,408.3 L1075.0,408.3 L1075.8,408.3 L1076.7,408.2 L1077.5,408.2 L1078.3,408.3 L1079.2,408.3 L1080.0,408.4 L1080.8,408.6 L1081.7,408.8 L1082.5,409.0 L1083.3,409.3 L1084.2,409.5 L1085.0,409.6 L1085.8,409.7 L1086.7,409.7 L1087.5,409.6 L1088.3,409.5 L1089.2,409.5 L1090.0,409.5 L1090.8,409.5 L1091.7,409.5 L1092.5,409.6 L1093.3,409.6 L1094.2,409.6 L1095.0,409.6 L1095.8,409.6 L1096.7,409.5 L1097.5,409.4 L1098.3,409.4 L1099.2,409.3 L1100.0,409.2 L1100.8,409.1 L1101.7,409.1 L1102.5,409.0 L1103.3,408.9 L1104.2,408.9 L1105.0,408.9 L1105.8,409.0 L1106.7,409.1 L1107.5,409.2 L1108.3,409.3 L1109.2,409.5 L1110.0,409.6 L1110.8,409.7 L1111.7,409.9 L1112.5,410.0 L1113.3,410.1 L1114.2,410.2 L1115.0,410.2 L1115.8,410.0 L1116.7,409.7 L1117.5,409.3 L1118.3,409.0 L1119.2,408.7 L1120.0,408.4 L1120.8,408.3 L1121.7,408.3 L1122.5,408.3 L1123.3,408.3 L1124.2,408.4 L1125.0,408.3 L1125.8,408.2 L1126.7,408.1 L1127.5,407.9 L1128.3,407.8 L1129.2,407.7 L1130.0,407.7 L1130.8,407.9 L1131.7,408.3 L1132.5,408.6 L1133.3,409.0 L1134.2,409.3 L1135.0,409.5 L1135.8,409.5 L1136.7,409.4 L1137.5,409.2 L1138.3,409.0 L1139.2,408.8 L1140.0,408.7 L1140.8,408.6 L1141.7,408.6 L1142.5,408.5 L1143.3,408.5 L1144.2,408.5 L1145.0,408.5 L1145.8,408.6 L1146.7,408.7 L1147.5,408.8 L1148.3,409.0 L1149.2,409.1 L1150.0,409.2 L1150.8,409.2 L1151.7,409.2 L1152.5,409.1 L1153.3,409.1 L1154.2,409.0 L1155.0,408.9 L1155.8,408.8 L1156.7,408.7 L1157.5,408.5 L1158.3,408.4 L1159.2,408.3 L1160.0,408.3 L1160.8,408.4 L1161.7,408.6 L1162.5,408.8 L1163.3,409.1 L1164.2,409.3 L1165.0,409.4 L1165.8,409.5 L1166.7,409.6 L1167.5,409.6 L1168.3,409.6 L1169.2,409.6 L1170.0,409.5 L1170.8,409.4 L1171.7,409.2 L1172.5,408.9 L1173.3,408.7 L1174.2,408.5 L1175.0,408.4 L1175.8,408.4 L1176.7,408.5 L1177.5,408.6 L1178.3,408.7 L1179.2,408.9 L1180.0,409.0 L1180.8,409.1 L1181.7,409.2 L1182.5,409.3 L1183.3,409.4 L1184.2,409.4 L1185.0,409.5 L1185.8,409.5 L1186.7,409.5 L1187.5,409.5 L1188.3,409.4 L1189.2,409.3 L1190.0,409.2 L1190.8,409.1 L1191.7,408.8 L1192.5,408.6 L1193.3,408.3 L1194.2,408.1 L1195.0,408.0 L1195.8,408.1 L1196.7,408.2 L1197.5,408.5 L1198.3,408.7 L1199.2,408.9 L1200.0,409.0 L1200.8,409.0 L1201.7,408.9 L1202.5,408.7 L1203.3,408.6 L1204.2,408.5 L1205.0,408.5 L1205.8,408.6 L1206.7,408.9 L1207.5,409.2 L1208.3,409.6 L1209.2,409.8 L1210.0,409.9 L1210.8,409.9 L1211.7,409.7 L1212.5,409.4 L1213.3,409.2 L1214.2,408.9 L1215.0,408.8 L1215.8,408.9 L1216.7,409.0 L1217.5,409.2 L1218.3,409.4 L1219.2,409.5 L1220.0,409.5 L1220.8,409.3 L1221.7,408.9 L1222.5,408.5 L1223.4,408.0 L1224.2,407.6 L1225.1,407.2 L1225.9,406.8 L1226.8,406.4 L1227.6,406.1 L1228.4,405.7 L1229.3,405.4 L1230.1,405.2 L1231.0,405.1 L1231.8,405.2 L1232.7,405.4 L1233.5,405.5 L1234.4,405.2 L1235.2,404.5 L1236.0,403.3 L1236.9,401.8 L1237.8,400.0 L1238.6,397.9 L1239.5,395.6 L1240.3,393.1 L1241.1,390.4 L1241.9,387.5 L1242.7,384.4 L1243.5,381.1 L1244.4,377.6 L1245.3,374.0 L1246.3,370.1 L1247.4,365.8 L1248.6,361.3 L1249.7,356.9 L1250.8,352.6 L1251.7,348.7 L1252.5,345.2 L1253.2,341.9 L1253.8,338.8 L1254.4,335.8 L1255.0,332.8 L1255.5,329.7 L1256.0,326.6 L1256.4,323.6 L1256.8,320.6 L1257.2,317.5 L1257.6,314.2 L1258.0,310.7 L1258.4,306.8 L1258.9,302.7 L1259.3,298.4 L1259.7,294.0 L1260.2,289.6 L1260.6,285.3 L1261.0,281.2 L1261.4,277.4 L1261.8,273.5 L1262.2,269.4 L1262.6,265.0 L1263.1,260.0 L1263.7,254.3 L1264.3,248.0 L1264.9,241.3 L1265.6,234.4 L1266.2,227.6 L1266.8,221.0 L1267.3,214.6 L1267.8,208.3 L1268.3,202.0 L1268.8,195.7 L1269.2,189.5 L1269.6,183.2 L1270.0,176.9 L1270.3,170.6 L1270.5,164.3 L1270.8,158.1 L1271.1,151.8 L1271.5,145.5 L1271.9,139.0 L1272.4,132.3 L1272.8,125.5 L1273.3,119.0 L1273.8,113.0 L1274.3,107.7 L1274.8,102.8 L1275.2,98.0 L1275.7,93.7 L1276.2,90.2 L1276.7,87.9 L1277.2,87.0 L1277.8,87.9 L1278.5,90.2 L1279.2,93.7 L1279.9,98.0 L1280.5,102.8 L1281.0,107.7 L1281.3,113.0 L1281.5,119.0 L1281.6,125.5 L1281.7,132.3 L1281.8,139.0 L1281.9,145.5 L1282.1,151.8 L1282.3,158.1 L1282.5,164.3 L1282.8,170.6 L1283.0,176.9 L1283.3,183.2 L1283.6,189.4 L1283.9,195.5 L1284.2,201.5 L1284.5,207.7 L1284.9,214.2 L1285.2,221.0 L1285.5,228.4 L1285.9,236.4 L1286.2,244.6 L1286.6,252.8 L1287.0,260.7 L1287.5,268.0 L1288.0,274.9 L1288.6,281.6 L1289.2,287.9 L1289.8,293.9 L1290.4,299.5 L1291.0,304.4 L1291.6,308.7 L1292.2,312.4 L1292.7,315.5 L1293.3,318.4 L1294.0,320.9 L1294.8,323.4 L1295.7,325.6 L1296.6,327.6 L1297.6,329.2 L1298.7,330.7 L1299.9,332.1 L1301.1,333.5 L1302.4,334.9 L1303.9,336.3 L1305.4,337.5 L1306.9,338.6 L1308.5,339.4 L1310.0,339.8 L1311.5,339.8 L1312.9,339.3 L1314.3,338.6 L1315.8,337.7 L1317.3,336.8 L1318.8,336.0 L1320.5,335.2 L1322.4,334.4 L1324.4,333.5 L1326.2,332.6 L1327.8,331.8 L1329.0,331.0 L1329.7,330.3 L1329.9,329.6 L1329.9,328.9 L1329.9,328.3 L1329.9,327.7 L1330.3,327.2 L1331.0,326.7 L1331.9,326.3 L1332.9,326.0 L1333.9,325.6 L1335.0,325.3 L1336.0,325.0 L1337.0,324.8 L1338.0,324.7 L1339.0,324.6 L1340.0,324.4 L1340.9,324.1 L1341.7,323.4 L1342.2,322.4 L1342.3,321.3 L1342.4,319.9 L1342.5,318.3 L1343.1,316.5 L1344.2,314.5 L1346.0,312.2 L1348.4,309.4 L1351.2,306.5 L1354.0,303.6 L1356.9,300.7 L1359.4,298.0 L1361.7,295.4 L1364.1,292.9 L1366.3,290.3 L1368.5,288.0 L1370.4,286.1 L1372.1,284.6 L1373.5,283.7 L1374.5,283.2 L1375.4,283.2 L1376.2,283.2 L1377.0,283.4 L1378.0,283.4 L1379.2,283.2 L1380.5,282.8 L1381.9,282.5 L1383.3,282.4 L1384.5,282.7 L1385.5,283.6 L1386.3,285.1 L1386.8,286.9 L1387.3,289.2 L1387.7,291.9 L1388.1,294.8 L1388.5,298.0 L1389.0,301.6 L1389.4,305.7 L1389.8,310.0 L1390.3,314.5 L1390.7,319.0 L1391.1,323.4 L1391.5,327.7 L1392.0,332.1 L1392.4,336.4 L1392.9,340.7 L1393.3,344.8 L1393.6,348.7 L1393.8,352.4 L1394.0,356.0 L1394.1,359.4 L1394.2,362.5 L1394.5,365.3 L1394.9,367.7 L1395.5,369.5 L1396.1,370.6 L1396.9,371.5 L1397.8,372.2 L1398.8,372.9 L1400.0,374.0 L1401.4,375.4 L1403.1,377.1 L1405.0,378.8 L1406.8,380.4 L1408.6,381.8 L1410.1,382.9 L1411.4,383.6 L1412.5,383.9 L1413.5,384.1 L1414.5,384.1 L1415.4,384.1 L1416.4,384.1 L1417.5,384.2 L1418.6,384.3 L1419.6,384.3 L1420.7,384.3 L1421.8,384.3 L1422.8,384.2 L1423.8,384.0 L1424.9,383.8 L1425.9,383.6 L1426.9,383.3 L1428.0,383.0 L1429.0,382.8 L1430.0,382.5 L1431.1,382.3 L1432.1,382.1 L1433.1,381.9 L1434.2,381.7 L1435.2,381.4 L1436.2,381.2 L1437.3,381.0 L1438.3,380.8 L1439.3,380.6 L1440.4,380.4 L1441.4,380.3 L1442.4,380.1 L1443.5,380.0 L1444.5,379.8 L1445.5,379.8 L1446.6,379.7 L1447.6,379.8 L1448.7,380.0 L1449.7,380.3 L1450.8,380.6 L1451.9,381.0 L1453.0,381.3 L1454.1,381.6 L1455.1,381.7 L1456.2,381.8 L1457.3,381.9 L1458.4,382.0 L1459.5,382.0 L1460.5,382.1 L1461.6,382.3 L1462.6,382.6 L1463.7,382.9 L1464.7,383.1 L1465.8,383.2 L1467.0,383.1 L1468.3,382.7 L1469.7,382.0 L1471.2,381.2 L1472.7,380.4 L1474.1,379.7 L1475.3,379.2 L1476.4,378.9 L1477.4,378.7 L1478.2,378.6 L1479.1,378.6 L1479.9,378.6 L1480.8,378.6 L1481.8,378.7 L1482.7,378.9 L1483.6,379.1 L1484.5,379.3 L1485.5,379.5 L1486.4,379.6 L1487.3,379.6 L1488.2,379.5 L1489.2,379.4 L1490.1,379.2 L1491.0,379.1 L1491.9,378.9 L1492.8,378.7 L1493.8,378.4 L1494.7,378.2 L1495.6,377.9 L1496.5,377.7 L1497.5,377.5 L1498.4,377.4 L1499.3,377.4 L1500.2,377.5 L1501.2,377.5 L1502.1,377.6 L1503.0,377.6 L1503.9,377.6 L1504.8,377.7 L1505.8,377.7 L1506.7,377.7 L1507.6,377.7 L1508.5,377.7 L1509.4,377.6 L1510.4,377.5 L1511.3,377.3 L1512.2,377.1 L1513.1,376.9 L1514.0,376.7 L1515.0,376.5 L1515.9,376.3 L1516.8,376.1 L1517.7,375.9 L1518.6,375.7 L1519.5,375.6 L1520.5,375.4 L1521.4,375.4 L1522.3,375.3 L1523.2,375.2 L1524.1,375.2 L1525.1,375.1 L1526.0,374.9 L1526.9,374.8 L1527.8,374.6 L1528.7,374.4 L1529.7,374.3 L1530.6,374.2 L1531.5,374.2 L1532.4,374.2 L1533.3,374.3 L1534.2,374.4 L1535.1,374.3 L1536.1,374.2 L1537.1,373.8 L1538.2,373.3 L1539.3,372.7 L1540.4,372.1 L1541.7,371.7 L1543.0,371.5 L1544.5,371.7 L1546.2,372.1 L1547.9,372.7 L1549.7,373.3 L1551.3,373.8 L1552.7,374.2 L1553.9,374.4 L1554.9,374.5 L1555.7,374.5 L1556.6,374.4 L1557.4,374.3 L1558.2,374.2 L1559.2,374.1 L1560.1,373.8 L1561.0,373.5 L1562.0,373.3 L1562.9,373.0 L1563.8,372.9 L1564.7,372.9 L1565.6,372.9 L1566.6,372.9 L1567.5,373.0 L1568.4,373.1 L1569.3,373.2 L1570.2,373.3 L1571.2,373.4 L1572.1,373.5 L1573.0,373.6 L1573.9,373.7 L1574.8,373.7 L1575.8,373.6 L1576.7,373.5 L1577.6,373.3 L1578.5,373.2 L1579.4,373.0 L1580.4,372.9 L1581.3,372.8 L1582.2,372.8 L1583.1,372.7 L1584.0,372.7 L1585.0,372.7 L1585.9,372.8 L1586.8,372.9 L1587.7,373.1 L1588.7,373.4 L1589.6,373.6 L1590.5,373.8 L1591.4,373.9 L1592.3,373.9 L1593.3,373.8 L1594.2,373.6 L1595.1,373.4 L1596.0,373.3 L1596.9,373.2 L1597.9,373.2 L1598.8,373.3 L1599.7,373.4 L1600.6,373.5 L1601.5,373.6 L1602.5,373.6 L1603.4,373.6 L1604.3,373.5 L1605.2,373.4 L1606.1,373.3 L1607.1,373.3 L1608.0,373.3 L1608.9,373.3 L1609.8,373.4 L1610.7,373.5 L1611.7,373.6 L1612.6,373.7 L1613.5,373.7 L1614.4,373.6 L1615.3,373.5 L1616.3,373.4 L1617.2,373.2 L1618.1,373.0 L1619.0,372.9 L1620.0,372.9 L1620.9,372.8 L1621.8,372.8 L1622.8,372.8 L1623.7,372.8 L1624.6,372.9 L1625.5,373.0 L1626.4,373.2 L1627.4,373.4 L1628.3,373.6 L1629.2,373.7 L1630.1,373.9 L1631.1,373.9 L1632.0,374.0 L1632.9,374.0 L1633.8,374.0 L1634.7,374.0 L1635.7,374.1 L1636.5,374.2 L1637.2,374.3 L1637.9,374.3 L1638.7,374.6 L1639.8,374.9 L1641.2,375.6 L1643.1,376.6 L1645.4,377.8 L1647.9,379.2 L1650.5,380.8 L1652.9,382.4 L1655.0,383.9 L1656.7,385.4 L1658.1,387.0 L1659.3,388.6 L1660.5,390.3 L1661.8,391.9 L1663.3,393.6 L1665.0,395.4 L1666.8,397.3 L1668.7,399.2 L1670.6,401.0 L1672.5,402.7 L1674.4,404.1 L1676.3,405.3 L1678.3,406.3 L1680.2,407.1 L1682.1,407.8 L1683.9,408.3 L1685.4,408.8 L1686.6,409.1 L1687.7,409.2 L1688.5,409.1 L1689.3,409.0 L1690.1,408.9 L1691.0,409.0 L1691.9,409.2 L1692.8,409.5 L1693.7,409.9 L1694.7,410.2 L1695.6,410.3 L1696.5,410.2 L1697.4,409.8 L1698.3,409.0 L1699.3,408.2 L1700.2,407.3 L1701.1,406.5 L1702.0,406.0 L1702.9,405.8 L1703.8,405.8 L1704.8,405.9 L1705.7,406.0 L1706.6,406.1 L1707.5,406.2 L1708.4,406.2 L1709.4,406.1 L1710.3,406.0 L1711.2,406.0 L1712.1,405.9 L1713.0,406.0 L1714.0,406.1 L1714.9,406.3 L1715.8,406.5 L1716.7,406.8 L1717.7,407.0 L1718.6,407.1 L1719.5,407.1 L1720.4,407.1 L1721.3,407.1 L1722.3,407.0 L1723.2,406.9 L1724.1,406.9 L1725.0,406.9 L1725.9,406.9 L1726.9,406.9 L1727.8,406.9 L1728.7,406.9 L1729.6,406.8 L1730.5,406.8 L1731.5,406.7 L1732.4,406.6 L1733.3,406.5 L1734.2,406.3 L1735.2,406.2 L1736.1,406.1 L1737.0,405.9 L1737.9,405.8 L1738.8,405.6 L1739.8,405.4 L1740.7,405.3 L1741.6,405.1 L1742.5,404.8 L1743.4,404.6 L1744.4,404.4 L1745.3,404.2 L1746.2,404.1 L1747.1,404.0 L1748.0,404.0 L1749.0,404.0 L1749.9,404.0 L1750.8,404.1 L1751.7,404.2 L1752.7,404.5 L1753.6,404.8 L1754.5,405.1 L1755.4,405.5 L1756.3,405.8 L1757.3,406.1 L1758.2,406.2 L1759.1,406.4 L1760.0,406.4 L1761.0,406.5 L1761.9,406.6 L1762.8,406.7 L1763.7,406.8 L1764.6,407.0 L1765.6,407.1 L1766.5,407.2 L1767.4,407.4 L1768.3,407.4 L1769.3,407.4 L1770.2,407.3 L1771.1,407.2 L1772.0,407.1 L1772.9,407.0 L1773.9,407.1 L1774.8,407.2 L1775.7,407.3 L1776.7,407.6 L1777.6,407.8 L1778.5,408.0 L1779.4,408.2 L1780.3,408.3 L1781.2,408.4 L1782.0,408.5 L1782.9,408.6 L1783.7,408.7 L1784.6,408.7 L1785.5,408.7 L1786.3,408.7 L1787.2,408.7 L1788.0,408.6 L1788.9,408.6 L1789.8,408.5 L1790.6,408.4 L1791.5,408.3 L1792.4,408.1 L1793.2,407.9 L1794.1,407.8 L1795.0,407.6 L1795.8,407.5 L1796.7,407.4 L1797.6,407.3 L1798.4,407.2 L1799.3,407.1 L1800.2,407.0 L1801.0,407.0 L1801.9,407.0 L1802.7,407.1 L1803.6,407.1 L1804.5,407.2 L1805.3,407.1 L1806.2,407.0 L1807.1,406.8 L1807.9,406.6 L1808.8,406.4 L1809.7,406.2 L1810.5,406.2 L1811.4,406.3 L1812.3,406.6 L1813.1,406.9 L1814.0,407.1 L1814.8,407.4 L1815.7,407.4 L1816.6,407.3 L1817.4,407.1 L1818.3,406.8 L1819.2,406.5 L1820.0,406.2 L1820.9,406.0 L1821.8,405.9 L1822.6,405.9 L1823.5,405.9 L1824.3,406.0 L1825.2,406.0 L1826.0,406.1 L1826.9,406.1 L1827.7,406.2 L1828.6,406.3 L1829.4,406.4 L1830.3,406.5 L1831.2,406.5 L1832.0,406.4 L1832.9,406.3 L1833.7,406.2 L1834.6,406.1 L1835.4,405.9 L1836.3,405.9 L1837.1,405.8 L1838.0,405.7 L1838.9,405.7 L1839.7,405.7 L1840.6,405.6 L1841.4,405.7 L1842.3,405.7 L1843.1,405.8 L1844.0,405.9 L1844.8,406.0 L1845.7,406.1 L1846.5,406.2 L1847.4,406.2 L1848.3,406.2 L1849.1,406.2 L1850.0,406.2 L1850.8,406.1 L1851.7,406.1 L1852.5,406.1 L1853.4,406.1 L1854.2,406.0 L1855.0,406.0 L1855.9,406.0 L1856.8,406.0 L1857.7,406.0 L1858.7,406.1 L1859.6,406.1 L1860.6,406.2 L1861.6,406.2 L1862.6,406.3 L1863.5,406.3 L1864.5,406.3 L1865.5,406.3 L1866.4,406.3 L1867.4,406.3 L1868.3,406.4 L1869.3,406.6 L1870.3,406.9 L1871.2,407.2 L1872.2,407.4 L1873.1,407.7 L1874.1,407.9 L1875.1,407.9 L1876.0,407.9 L1877.0,407.9 L1877.9,407.8 L1878.9,407.7 L1879.9,407.7 L1880.8,407.7 L1881.8,407.8 L1882.8,407.8 L1883.7,407.8 L1884.7,407.9 L1885.6,408.0 L1886.7,408.1 L1887.8,408.2 L1888.9,408.4 L1889.9,408.6 L1890.8,408.7 L1891.4,408.8" fill="none" stroke="#161616" stroke-width="2.9" stroke-linejoin="round" stroke-linecap="round"/>
<path d="M1303.9,336.3 L1305.4,337.5 M1396.9,371.5 L1397.8,372.2" fill="none" stroke="#161616" stroke-width="3.0" stroke-linecap="round"/>
<path d="M1234.4,405.2 L1235.2,404.5 M1301.1,333.5 L1302.4,334.9 M1302.4,334.9 L1303.9,336.3 M1340.9,324.1 L1341.7,323.4 M1348.4,309.4 L1351.2,306.5 M1351.2,306.5 L1354.0,303.6 M1354.0,303.6 L1356.9,300.7 M1356.9,300.7 L1359.4,298.0 M1368.5,288.0 L1370.4,286.1 M1370.4,286.1 L1372.1,284.6 M1384.5,282.7 L1385.5,283.6 M1655.0,383.9 L1656.7,385.4 M1663.3,393.6 L1665.0,395.4 M1665.0,395.4 L1666.8,397.3 M1666.8,397.3 L1668.7,399.2 M1668.7,399.2 L1670.6,401.0 M1670.6,401.0 L1672.5,402.7" fill="none" stroke="#161616" stroke-width="3.5" stroke-linecap="round"/>
<path d="M1297.6,329.2 L1298.7,330.7 M1298.7,330.7 L1299.9,332.1 M1299.9,332.1 L1301.1,333.5 M1344.2,314.5 L1346.0,312.2 M1346.0,312.2 L1348.4,309.4 M1359.4,298.0 L1361.7,295.4 M1361.7,295.4 L1364.1,292.9 M1364.1,292.9 L1366.3,290.3 M1366.3,290.3 L1368.5,288.0 M1396.1,370.6 L1396.9,371.5 M1656.7,385.4 L1658.1,387.0 M1658.1,387.0 L1659.3,388.6 M1659.3,388.6 L1660.5,390.3 M1660.5,390.3 L1661.8,391.9 M1661.8,391.9 L1663.3,393.6" fill="none" stroke="#161616" stroke-width="4.0" stroke-linecap="round"/>
<path d="M1235.2,404.5 L1236.0,403.3 M1236.0,403.3 L1236.9,401.8 M1276.7,87.9 L1277.2,87.0 M1277.2,87.0 L1277.8,87.9 M1296.6,327.6 L1297.6,329.2 M1343.1,316.5 L1344.2,314.5 M1395.5,369.5 L1396.1,370.6" fill="none" stroke="#161616" stroke-width="4.5" stroke-linecap="round"/>
<path d="M1236.9,401.8 L1237.8,400.0 M1237.8,400.0 L1238.6,397.9 M1295.7,325.6 L1296.6,327.6 M1341.7,323.4 L1342.2,322.4 M1385.5,283.6 L1386.3,285.1" fill="none" stroke="#161616" stroke-width="5.0" stroke-linecap="round"/>
<path d="M1238.6,397.9 L1239.5,395.6 M1239.5,395.6 L1240.3,393.1 M1240.3,393.1 L1241.1,390.4 M1241.1,390.4 L1241.9,387.5 M1245.3,374.0 L1246.3,370.1 M1246.3,370.1 L1247.4,365.8 M1247.4,365.8 L1248.6,361.3 M1277.8,87.9 L1278.5,90.2 M1293.3,318.4 L1294.0,320.9 M1294.0,320.9 L1294.8,323.4 M1294.8,323.4 L1295.7,325.6 M1342.5,318.3 L1343.1,316.5 M1386.3,285.1 L1386.8,286.9 M1394.9,367.7 L1395.5,369.5" fill="none" stroke="#161616" stroke-width="5.5" stroke-linecap="round"/>
<path d="M1241.9,387.5 L1242.7,384.4 M1242.7,384.4 L1243.5,381.1 M1243.5,381.1 L1244.4,377.6 M1244.4,377.6 L1245.3,374.0 M1248.6,361.3 L1249.7,356.9 M1249.7,356.9 L1250.8,352.6 M1250.8,352.6 L1251.7,348.7 M1251.7,348.7 L1252.5,345.2 M1252.5,345.2 L1253.2,341.9 M1253.2,341.9 L1253.8,338.8 M1253.8,338.8 L1254.4,335.8 M1254.4,335.8 L1255.0,332.8 M1255.0,332.8 L1255.5,329.7 M1255.5,329.7 L1256.0,326.6 M1256.0,326.6 L1256.4,323.6 M1256.4,323.6 L1256.8,320.6 M1256.8,320.6 L1257.2,317.5 M1257.2,317.5 L1257.6,314.2 M1257.6,314.2 L1258.0,310.7 M1258.0,310.7 L1258.4,306.8 M1258.4,306.8 L1258.9,302.7 M1258.9,302.7 L1259.3,298.4 M1259.3,298.4 L1259.7,294.0 M1259.7,294.0 L1260.2,289.6 M1260.2,289.6 L1260.6,285.3 M1260.6,285.3 L1261.0,281.2 M1261.0,281.2 L1261.4,277.4 M1261.4,277.4 L1261.8,273.5 M1261.8,273.5 L1262.2,269.4 M1262.2,269.4 L1262.6,265.0 M1262.6,265.0 L1263.1,260.0 M1263.1,260.0 L1263.7,254.3 M1263.7,254.3 L1264.3,248.0 M1264.3,248.0 L1264.9,241.3 M1264.9,241.3 L1265.6,234.4 M1265.6,234.4 L1266.2,227.6 M1266.2,227.6 L1266.8,221.0 M1266.8,221.0 L1267.3,214.6 M1267.3,214.6 L1267.8,208.3 M1267.8,208.3 L1268.3,202.0 M1268.3,202.0 L1268.8,195.7 M1268.8,195.7 L1269.2,189.5 M1269.2,189.5 L1269.6,183.2 M1269.6,183.2 L1270.0,176.9 M1270.0,176.9 L1270.3,170.6 M1270.3,170.6 L1270.5,164.3 M1270.5,164.3 L1270.8,158.1 M1270.8,158.1 L1271.1,151.8 M1271.1,151.8 L1271.5,145.5 M1271.5,145.5 L1271.9,139.0 M1271.9,139.0 L1272.4,132.3 M1272.4,132.3 L1272.8,125.5 M1272.8,125.5 L1273.3,119.0 M1273.3,119.0 L1273.8,113.0 M1273.8,113.0 L1274.3,107.7 M1274.3,107.7 L1274.8,102.8 M1274.8,102.8 L1275.2,98.0 M1275.2,98.0 L1275.7,93.7 M1275.7,93.7 L1276.2,90.2 M1276.2,90.2 L1276.7,87.9 M1278.5,90.2 L1279.2,93.7 M1279.2,93.7 L1279.9,98.0 M1279.9,98.0 L1280.5,102.8 M1280.5,102.8 L1281.0,107.7 M1281.0,107.7 L1281.3,113.0 M1281.3,113.0 L1281.5,119.0 M1281.5,119.0 L1281.6,125.5 M1281.6,125.5 L1281.7,132.3 M1281.7,132.3 L1281.8,139.0 M1281.8,139.0 L1281.9,145.5 M1281.9,145.5 L1282.1,151.8 M1282.1,151.8 L1282.3,158.1 M1282.3,158.1 L1282.5,164.3 M1282.5,164.3 L1282.8,170.6 M1282.8,170.6 L1283.0,176.9 M1283.0,176.9 L1283.3,183.2 M1283.3,183.2 L1283.6,189.4 M1283.6,189.4 L1283.9,195.5 M1283.9,195.5 L1284.2,201.5 M1284.2,201.5 L1284.5,207.7 M1284.5,207.7 L1284.9,214.2 M1284.9,214.2 L1285.2,221.0 M1285.2,221.0 L1285.5,228.4 M1285.5,228.4 L1285.9,236.4 M1285.9,236.4 L1286.2,244.6 M1286.2,244.6 L1286.6,252.8 M1286.6,252.8 L1287.0,260.7 M1287.0,260.7 L1287.5,268.0 M1287.5,268.0 L1288.0,274.9 M1288.0,274.9 L1288.6,281.6 M1288.6,281.6 L1289.2,287.9 M1289.2,287.9 L1289.8,293.9 M1289.8,293.9 L1290.4,299.5 M1290.4,299.5 L1291.0,304.4 M1291.0,304.4 L1291.6,308.7 M1291.6,308.7 L1292.2,312.4 M1292.2,312.4 L1292.7,315.5 M1292.7,315.5 L1293.3,318.4 M1342.2,322.4 L1342.3,321.3 M1342.3,321.3 L1342.4,319.9 M1342.4,319.9 L1342.5,318.3 M1386.8,286.9 L1387.3,289.2 M1387.3,289.2 L1387.7,291.9 M1387.7,291.9 L1388.1,294.8 M1388.1,294.8 L1388.5,298.0 M1388.5,298.0 L1389.0,301.6 M1389.0,301.6 L1389.4,305.7 M1389.4,305.7 L1389.8,310.0 M1389.8,310.0 L1390.3,314.5 M1390.3,314.5 L1390.7,319.0 M1390.7,319.0 L1391.1,323.4 M1391.1,323.4 L1391.5,327.7 M1391.5,327.7 L1392.0,332.1 M1392.0,332.1 L1392.4,336.4 M1392.4,336.4 L1392.9,340.7 M1392.9,340.7 L1393.3,344.8 M1393.3,344.8 L1393.6,348.7 M1393.6,348.7 L1393.8,352.4 M1393.8,352.4 L1394.0,356.0 M1394.0,356.0 L1394.1,359.4 M1394.1,359.4 L1394.2,362.5 M1394.2,362.5 L1394.5,365.3 M1394.5,365.3 L1394.9,367.7" fill="none" stroke="#161616" stroke-width="6.0" stroke-linecap="round"/>
<path d="M355.8,842.0 L356.4,842.2 L357.2,842.5 L358.1,842.9 L359.1,843.2 L360.1,843.4 L361.0,843.5 L361.9,843.3 L362.8,842.8 L363.6,842.3 L364.5,841.8 L365.4,841.4 L366.3,841.2 L367.1,841.3 L368.0,841.6 L368.9,842.1 L369.8,842.5 L370.6,842.9 L371.5,843.1 L372.4,843.1 L373.2,843.0 L374.1,842.8 L375.0,842.6 L375.9,842.4 L376.7,842.3 L377.6,842.2 L378.5,842.2 L379.3,842.2 L380.2,842.2 L381.1,842.2 L382.0,842.2 L382.8,842.2 L383.7,842.2 L384.6,842.2 L385.4,842.2 L386.3,842.2 L387.2,842.1 L388.1,842.1 L388.9,842.0 L389.8,842.0 L390.7,841.9 L391.5,841.9 L392.4,841.9 L393.3,842.0 L394.2,842.1 L395.0,842.3 L395.9,842.5 L396.8,842.6 L397.7,842.7 L398.5,842.8 L399.4,842.8 L400.3,842.9 L401.1,842.9 L402.0,842.9 L402.9,842.8 L403.8,842.7 L404.6,842.6 L405.5,842.4 L406.4,842.2 L407.2,842.1 L408.1,841.9 L409.0,841.8 L409.9,841.6 L410.7,841.4 L411.6,841.3 L412.5,841.2 L413.3,841.2 L414.2,841.2 L415.1,841.4 L416.0,841.5 L416.8,841.7 L417.7,841.9 L418.6,841.9 L419.5,841.9 L420.3,841.9 L421.2,841.8 L422.1,841.7 L422.9,841.6 L423.8,841.6 L424.7,841.7 L425.6,841.7 L426.4,841.8 L427.3,841.9 L428.2,842.0 L429.0,842.0 L429.9,842.0 L430.8,841.9 L431.7,841.8 L432.5,841.7 L433.4,841.6 L434.3,841.5 L435.1,841.5 L436.0,841.5 L436.9,841.6 L437.8,841.6 L438.6,841.6 L439.5,841.7 L440.4,841.7 L441.2,841.8 L442.1,841.9 L443.0,841.9 L443.9,842.0 L444.7,842.0 L445.6,842.1 L446.5,842.2 L447.4,842.2 L448.2,842.3 L449.1,842.3 L450.0,842.3 L450.8,842.3 L451.7,842.1 L452.5,842.0 L453.3,841.9 L454.2,841.9 L455.2,842.0 L456.2,842.3 L457.3,842.8 L458.4,843.4 L459.6,844.0 L460.8,844.4 L462.0,844.5 L463.2,844.2 L464.5,843.6 L465.8,842.8 L467.1,841.9 L468.5,841.3 L470.0,841.0 L471.6,841.1 L473.4,841.5 L475.2,842.0 L477.0,842.6 L478.6,843.1 L480.0,843.5 L481.1,843.7 L482.0,843.8 L482.8,843.9 L483.5,843.9 L484.2,843.9 L485.0,843.8 L485.8,843.6 L486.7,843.4 L487.5,843.1 L488.3,842.8 L489.2,842.5 L490.0,842.3 L490.8,842.0 L491.7,841.6 L492.5,841.3 L493.3,840.9 L494.2,840.7 L495.0,840.5 L495.8,840.5 L496.7,840.6 L497.5,840.8 L498.3,840.9 L499.2,841.0 L500.0,841.0 L500.8,840.8 L501.7,840.6 L502.5,840.2 L503.3,839.9 L504.2,839.6 L505.0,839.4 L505.8,839.3 L506.6,839.3 L507.5,839.3 L508.3,839.4 L509.1,839.5 L510.0,839.5 L510.9,839.5 L511.9,839.5 L512.8,839.5 L513.8,839.5 L514.8,839.5 L515.7,839.4 L516.7,839.3 L517.6,839.2 L518.6,839.1 L519.6,838.9 L520.5,838.7 L521.5,838.5 L522.4,838.3 L523.4,837.9 L524.3,837.6 L525.3,837.2 L526.2,837.0 L527.2,836.8 L528.2,836.8 L529.2,836.8 L530.2,836.9 L531.1,837.0 L532.1,837.2 L533.1,837.3 L534.1,837.4 L535.1,837.5 L536.1,837.6 L537.1,837.7 L538.1,837.8 L539.1,837.9 L540.1,838.0 L541.1,838.1 L542.1,838.2 L543.1,838.4 L544.1,838.4 L545.0,838.5 L545.9,838.5 L546.7,838.5 L547.6,838.5 L548.4,838.5 L549.2,838.4 L550.0,838.3 L550.8,838.2 L551.7,838.1 L552.5,838.0 L553.3,837.9 L554.2,837.8 L555.0,837.7 L555.8,837.7 L556.7,837.7 L557.5,837.7 L558.3,837.8 L559.2,837.9 L560.0,838.0 L560.8,838.2 L561.7,838.4 L562.5,838.7 L563.3,839.0 L564.2,839.2 L565.0,839.4 L565.8,839.5 L566.7,839.5 L567.5,839.5 L568.3,839.5 L569.2,839.5 L570.0,839.6 L570.8,839.6 L571.6,839.7 L572.4,839.7 L573.3,839.8 L574.1,839.9 L575.0,840.0 L575.9,840.1 L576.9,840.3 L578.0,840.4 L579.0,840.6 L580.0,840.7 L581.0,840.8 L582.1,840.7 L583.1,840.6 L584.1,840.4 L585.1,840.3 L586.1,840.2 L587.1,840.2 L588.1,840.3 L589.1,840.5 L590.1,840.8 L591.1,841.0 L592.1,841.3 L593.2,841.4 L594.2,841.5 L595.2,841.5 L596.2,841.4 L597.3,841.4 L598.2,841.4 L599.2,841.4 L600.1,841.5 L601.0,841.7 L601.8,841.8 L602.7,842.0 L603.5,842.2 L604.3,842.3 L605.2,842.4 L606.0,842.4 L606.9,842.4 L607.8,842.4 L608.6,842.4 L609.5,842.5 L610.3,842.6 L611.2,842.8 L612.0,843.1 L612.9,843.3 L613.7,843.4 L614.6,843.4 L615.5,843.3 L616.3,843.1 L617.2,842.8 L618.0,842.5 L618.9,842.3 L619.7,842.1 L620.6,842.1 L621.4,842.2 L622.3,842.3 L623.2,842.4 L624.0,842.5 L624.9,842.6 L625.7,842.6 L626.6,842.6 L627.4,842.6 L628.3,842.5 L629.1,842.5 L630.0,842.5 L630.9,842.5 L631.8,842.5 L632.7,842.5 L633.6,842.5 L634.5,842.5 L635.4,842.6 L636.3,842.7 L637.2,842.8 L638.2,842.9 L639.1,843.1 L640.0,843.2 L640.9,843.3 L641.8,843.4 L642.7,843.5 L643.6,843.6 L644.5,843.7 L645.4,843.8 L646.3,843.9 L647.2,844.1 L648.1,844.3 L649.0,844.6 L649.9,844.8 L650.8,845.0 L651.7,845.1 L652.6,845.2 L653.5,845.3 L654.5,845.3 L655.4,845.3 L656.3,845.3 L657.2,845.2 L658.1,845.2 L659.0,845.1 L659.9,845.0 L660.8,845.0 L661.7,844.9 L662.6,844.9 L663.5,844.9 L664.4,845.0 L665.3,845.1 L666.2,845.2 L667.1,845.3 L667.9,845.4 L668.8,845.4 L669.7,845.4 L670.6,845.4 L671.5,845.4 L672.4,845.4 L673.3,845.3 L674.2,845.1 L675.1,844.9 L676.0,844.7 L676.8,844.5 L677.7,844.3 L678.6,844.2 L679.5,844.1 L680.4,844.1 L681.3,844.1 L682.2,844.2 L683.1,844.3 L684.0,844.4 L684.9,844.6 L685.8,844.9 L686.6,845.2 L687.5,845.5 L688.4,845.7 L689.3,845.8 L690.2,845.7 L691.1,845.4 L692.0,845.1 L692.9,844.7 L693.8,844.4 L694.7,844.3 L695.6,844.3 L696.5,844.5 L697.4,844.7 L698.2,845.0 L699.1,845.2 L700.0,845.3 L700.9,845.3 L701.7,845.3 L702.5,845.3 L703.3,845.2 L704.2,845.1 L705.0,845.1 L705.8,845.0 L706.7,844.9 L707.5,844.7 L708.3,844.6 L709.2,844.5 L710.0,844.5 L710.8,844.5 L711.7,844.5 L712.5,844.6 L713.3,844.7 L714.2,844.7 L715.0,844.7 L715.8,844.7 L716.7,844.5 L717.5,844.4 L718.3,844.2 L719.2,844.1 L720.0,844.0 L720.8,843.9 L721.7,843.8 L722.5,843.8 L723.3,843.8 L724.2,843.8 L725.0,843.8 L725.8,843.9 L726.7,843.9 L727.5,844.0 L728.3,844.2 L729.2,844.3 L730.0,844.5 L730.8,844.7 L731.7,845.0 L732.5,845.3 L733.3,845.6 L734.2,845.8 L735.0,845.9 L735.8,845.9 L736.7,845.7 L737.5,845.4 L738.3,845.1 L739.2,844.9 L740.0,844.8 L740.8,844.8 L741.7,844.8 L742.5,844.8 L743.3,844.9 L744.2,845.0 L745.0,845.2 L745.8,845.3 L746.7,845.6 L747.5,845.8 L748.3,846.1 L749.2,846.2 L750.0,846.3 L750.8,846.1 L751.7,845.8 L752.5,845.4 L753.3,845.0 L754.2,844.7 L755.0,844.5 L755.8,844.6 L756.7,844.8 L757.5,845.1 L758.3,845.4 L759.2,845.7 L760.0,845.8 L760.8,845.7 L761.7,845.5 L762.5,845.3 L763.3,845.1 L764.2,844.8 L765.0,844.7 L765.8,844.6 L766.7,844.5 L767.5,844.5 L768.3,844.4 L769.2,844.5 L770.0,844.6 L770.8,844.7 L771.7,845.0 L772.5,845.4 L773.3,845.7 L774.2,846.0 L775.0,846.3 L775.8,846.4 L776.7,846.5 L777.5,846.6 L778.3,846.7 L779.2,846.7 L780.0,846.7 L780.8,846.7 L781.7,846.8 L782.5,846.8 L783.3,846.7 L784.2,846.7 L785.0,846.6 L785.8,846.4 L786.7,846.2 L787.5,846.0 L788.3,845.7 L789.2,845.5 L790.0,845.4 L790.8,845.4 L791.7,845.4 L792.5,845.5 L793.3,845.7 L794.2,845.7 L795.0,845.7 L795.8,845.6 L796.7,845.4 L797.5,845.2 L798.3,844.9 L799.2,844.8 L800.0,844.7 L800.8,844.8 L801.7,845.1 L802.5,845.4 L803.3,845.7 L804.2,846.0 L805.0,846.1 L805.8,846.1 L806.7,846.1 L807.5,846.0 L808.3,845.8 L809.2,845.7 L810.0,845.6 L810.8,845.6 L811.7,845.5 L812.5,845.5 L813.3,845.4 L814.2,845.5 L815.0,845.5 L815.8,845.6 L816.7,845.7 L817.5,845.9 L818.3,846.1 L819.2,846.2 L820.0,846.3 L820.8,846.3 L821.7,846.2 L822.5,846.1 L823.3,846.0 L824.2,845.8 L825.0,845.7 L825.8,845.5 L826.7,845.3 L827.5,845.1 L828.3,844.9 L829.2,844.7 L830.0,844.6 L830.8,844.6 L831.7,844.6 L832.5,844.6 L833.3,844.7 L834.2,844.8 L835.0,844.8 L835.8,844.9 L836.7,845.1 L837.5,845.2 L838.3,845.4 L839.1,845.5 L840.0,845.5 L840.9,845.4 L841.7,845.3 L842.6,845.1 L843.5,844.9 L844.4,844.7 L845.3,844.6 L846.2,844.6 L847.1,844.6 L848.0,844.6 L848.9,844.6 L849.7,844.6 L850.6,844.7 L851.5,844.8 L852.4,844.9 L853.3,845.0 L854.2,845.1 L855.1,845.3 L855.9,845.4 L856.8,845.7 L857.7,846.0 L858.6,846.3 L859.5,846.6 L860.4,846.7 L861.3,846.8 L862.1,846.6 L863.0,846.3 L863.9,845.9 L864.8,845.5 L865.7,845.1 L866.6,844.9 L867.5,844.7 L868.3,844.7 L869.2,844.7 L870.1,844.7 L871.0,844.8 L871.9,844.9 L872.8,845.0 L873.7,845.1 L874.6,845.3 L875.4,845.4 L876.3,845.6 L877.2,845.7 L878.1,845.7 L879.0,845.8 L879.9,845.7 L880.8,845.7 L881.6,845.7 L882.5,845.6 L883.4,845.6 L884.3,845.5 L885.2,845.4 L886.1,845.3 L887.0,845.2 L887.8,845.1 L888.7,845.0 L889.6,844.8 L890.5,844.6 L891.4,844.5 L892.3,844.3 L893.2,844.3 L894.0,844.3 L894.9,844.4 L895.8,844.6 L896.7,844.7 L897.6,844.9 L898.5,845.0 L899.4,845.1 L900.2,845.2 L901.1,845.3 L902.0,845.4 L902.9,845.5 L903.8,845.5 L904.7,845.5 L905.5,845.5 L906.4,845.5 L907.3,845.4 L908.2,845.3 L909.1,845.1 L910.0,844.9 L910.9,844.5 L911.8,844.2 L912.7,843.8 L913.8,843.6 L915.0,843.5 L916.5,843.6 L918.2,843.9 L920.0,844.2 L921.9,844.6 L923.6,844.8 L925.0,845.0 L926.2,845.0 L927.1,844.9 L928.0,844.7 L928.7,844.5 L929.5,844.3 L930.4,844.2 L931.3,844.2 L932.2,844.2 L933.0,844.3 L933.9,844.3 L934.8,844.4 L935.7,844.4 L936.6,844.5 L937.5,844.6 L938.4,844.7 L939.3,844.8 L940.2,844.9 L941.1,844.9 L942.0,844.9 L942.9,844.8 L943.8,844.8 L944.7,844.7 L945.6,844.6 L946.5,844.5 L947.3,844.3 L948.2,844.2 L949.1,844.0 L950.0,843.8 L950.9,843.8 L951.8,843.8 L952.7,844.1 L953.6,844.6 L954.5,845.1 L955.4,845.6 L956.3,846.0 L957.2,846.2 L958.1,846.2 L959.0,845.9 L959.9,845.5 L960.8,845.1 L961.7,844.8 L962.5,844.6 L963.4,844.5 L964.3,844.5 L965.2,844.6 L966.1,844.7 L967.0,844.8 L967.9,844.8 L968.8,844.8 L969.7,844.7 L970.6,844.7 L971.5,844.6 L972.4,844.5 L973.3,844.4 L974.2,844.4 L975.1,844.3 L976.0,844.2 L976.8,844.1 L977.7,844.0 L978.6,844.0 L979.5,844.0 L980.4,844.2 L981.3,844.3 L982.2,844.5 L983.1,844.5 L984.0,844.5 L984.9,844.2 L985.8,843.8 L986.7,843.3 L987.7,842.9 L988.8,842.5 L990.0,842.5 L991.4,842.8 L993.0,843.5 L994.8,844.3 L996.5,845.1 L998.3,845.7 L1000.0,846.0 L1001.7,845.8 L1003.3,845.3 L1005.0,844.6 L1006.7,843.8 L1008.3,843.3 L1010.0,843.0 L1011.7,843.1 L1013.5,843.5 L1015.3,844.1 L1017.0,844.7 L1018.6,845.2 L1020.0,845.5 L1021.1,845.6 L1022.0,845.6 L1022.8,845.6 L1023.5,845.5 L1024.2,845.4 L1025.0,845.2 L1025.8,845.0 L1026.7,844.8 L1027.5,844.6 L1028.3,844.3 L1029.2,844.1 L1030.0,843.9 L1030.8,843.7 L1031.5,843.5 L1032.2,843.2 L1033.0,843.1 L1033.9,843.0 L1035.0,843.0 L1036.4,843.2 L1038.1,843.5 L1040.0,844.0 L1041.9,844.4 L1043.6,844.8 L1045.0,845.0 L1046.1,845.1 L1047.0,845.0 L1047.8,844.9 L1048.5,844.7 L1049.2,844.6 L1050.0,844.5 L1050.8,844.5 L1051.7,844.6 L1052.5,844.6 L1053.3,844.6 L1054.2,844.6 L1055.0,844.5 L1055.8,844.4 L1056.6,844.1 L1057.5,843.8 L1058.3,843.5 L1059.1,843.2 L1060.0,843.0 L1060.9,842.8 L1061.8,842.6 L1062.8,842.4 L1063.7,842.2 L1064.6,842.0 L1065.6,841.9 L1066.5,841.8 L1067.4,841.8 L1068.4,841.7 L1069.3,841.7 L1070.2,841.7 L1071.2,841.8 L1072.1,842.0 L1073.0,842.2 L1074.0,842.5 L1074.9,842.7 L1075.8,842.9 L1076.8,842.9 L1077.7,842.8 L1078.6,842.5 L1079.5,842.1 L1080.5,841.7 L1081.4,841.4 L1082.3,841.2 L1083.3,841.2 L1084.2,841.2 L1085.1,841.3 L1086.1,841.5 L1087.0,841.6 L1087.9,841.7 L1088.8,841.8 L1089.7,841.9 L1090.5,842.0 L1091.4,842.1 L1092.4,841.9 L1093.5,841.6 L1094.8,841.2 L1096.2,840.7 L1097.7,840.1 L1099.2,839.2 L1100.7,837.8 L1102.1,835.8 L1103.4,833.4 L1104.7,830.7 L1105.9,827.5 L1107.1,823.7 L1108.2,818.8 L1109.3,812.8 L1110.4,804.9 L1111.4,795.4 L1112.4,784.8 L1113.4,774.1 L1114.3,763.9 L1115.0,755.2 L1115.6,747.8 L1116.0,741.2 L1116.4,735.1 L1116.7,729.6 L1117.1,724.4 L1117.5,719.5 L1118.0,715.0 L1118.5,710.9 L1119.1,707.3 L1119.6,703.9 L1120.2,700.7 L1120.8,697.6 L1121.4,694.1 L1121.9,690.1 L1122.5,686.4 L1123.1,683.4 L1123.8,681.9 L1124.4,682.5 L1125.1,685.7 L1125.9,691.0 L1126.6,697.8 L1127.4,705.3 L1128.1,712.8 L1128.8,719.5 L1129.4,725.6 L1129.8,731.7 L1130.3,737.8 L1130.7,743.8 L1131.2,749.5 L1131.7,755.0 L1132.3,760.2 L1132.9,765.2 L1133.5,770.0 L1134.2,774.6 L1135.0,779.0 L1135.9,783.2 L1137.0,787.3 L1138.2,791.4 L1139.5,795.3 L1140.9,798.7 L1142.4,801.6 L1143.8,803.7 L1145.3,804.8 L1146.8,805.2 L1148.3,804.9 L1149.9,804.2 L1151.4,803.5 L1153.0,802.8 L1154.5,802.2 L1156.1,801.4 L1157.6,800.5 L1159.2,799.5 L1160.8,798.4 L1162.3,797.3 L1163.8,796.1 L1165.4,794.8 L1166.9,793.5 L1168.4,792.1 L1170.0,790.6 L1171.5,789.0 L1173.0,787.3 L1174.6,785.6 L1176.1,783.7 L1177.6,781.8 L1179.2,779.9 L1180.7,777.9 L1182.3,775.8 L1183.9,773.6 L1185.5,771.3 L1187.0,769.1 L1188.5,767.0 L1189.9,765.0 L1191.1,763.2 L1192.3,761.4 L1193.3,759.8 L1194.3,758.3 L1195.4,756.9 L1196.4,755.8 L1197.5,754.8 L1198.6,754.0 L1199.7,753.4 L1200.8,752.9 L1201.8,752.6 L1202.8,752.6 L1203.7,752.8 L1204.5,753.2 L1205.3,753.8 L1206.0,754.6 L1206.7,755.6 L1207.4,756.7 L1208.1,758.0 L1208.7,759.6 L1209.3,761.3 L1209.9,763.1 L1210.5,765.0 L1211.1,766.9 L1211.7,768.8 L1212.3,770.7 L1212.9,772.6 L1213.6,774.6 L1214.2,776.7 L1214.8,778.8 L1215.4,781.1 L1216.0,783.5 L1216.7,786.0 L1217.3,788.4 L1217.9,790.7 L1218.5,792.7 L1219.1,794.5 L1219.5,796.2 L1220.0,797.7 L1220.6,799.0 L1221.3,800.1 L1222.2,801.0 L1223.4,801.6 L1224.9,801.9 L1226.5,802.0 L1228.1,802.0 L1229.8,801.9 L1231.4,801.9 L1232.9,801.9 L1234.5,801.8 L1236.1,801.7 L1237.6,801.5 L1239.1,801.3 L1240.6,801.0 L1242.1,800.7 L1243.6,800.4 L1245.0,800.1 L1246.4,799.7 L1247.7,799.1 L1248.9,798.2 L1249.9,796.9 L1250.7,795.3 L1251.4,793.5 L1252.0,791.7 L1252.7,790.1 L1253.5,789.0 L1254.4,788.3 L1255.3,788.0 L1256.3,787.9 L1257.2,787.9 L1258.1,788.0 L1259.0,788.1 L1259.8,788.3 L1260.4,788.7 L1261.1,789.1 L1261.8,789.5 L1262.6,789.8 L1263.6,789.9 L1264.9,789.7 L1266.4,789.3 L1268.0,788.8 L1269.6,788.2 L1271.3,787.6 L1272.9,787.1 L1274.3,786.8 L1275.6,786.5 L1276.9,786.3 L1278.3,786.0 L1280.0,785.4 L1282.1,784.4 L1284.7,782.9 L1287.6,781.0 L1290.8,778.9 L1294.2,776.6 L1297.5,774.5 L1300.8,772.5 L1304.1,770.7 L1307.6,769.1 L1311.1,767.4 L1314.5,765.9 L1317.5,764.4 L1320.0,762.9 L1321.9,761.4 L1323.2,759.9 L1324.2,758.5 L1325.0,757.2 L1325.9,756.1 L1327.0,755.2 L1328.4,754.7 L1329.9,754.5 L1331.5,754.4 L1333.1,754.5 L1334.4,754.5 L1335.6,754.3 L1336.4,754.0 L1337.0,753.5 L1337.4,753.0 L1337.8,752.6 L1338.3,752.1 L1339.0,751.7 L1340.0,751.3 L1341.1,750.9 L1342.3,750.5 L1343.6,750.2 L1344.8,750.0 L1345.9,750.0 L1346.9,750.1 L1347.8,750.3 L1348.7,750.6 L1349.6,751.0 L1350.4,751.7 L1351.1,752.6 L1351.8,753.7 L1352.4,755.1 L1353.0,756.6 L1353.5,758.4 L1354.0,760.5 L1354.6,762.9 L1355.2,765.8 L1355.7,769.2 L1356.3,772.9 L1356.9,776.6 L1357.4,780.3 L1358.0,783.7 L1358.5,786.8 L1359.0,789.9 L1359.5,792.8 L1360.1,795.6 L1360.7,798.4 L1361.5,801.0 L1362.5,803.6 L1363.6,806.2 L1364.8,808.8 L1366.1,811.1 L1367.3,813.1 L1368.4,814.8 L1369.4,816.0 L1370.2,816.8 L1371.0,817.4 L1371.8,817.7 L1372.7,818.0 L1373.6,818.2 L1374.6,818.4 L1375.6,818.4 L1376.7,818.3 L1377.8,818.2 L1378.9,818.0 L1379.9,818.0 L1381.0,818.0 L1382.0,817.9 L1383.1,817.9 L1384.2,817.9 L1385.2,818.0 L1386.3,818.0 L1387.3,818.2 L1388.4,818.4 L1389.5,818.6 L1390.6,818.8 L1391.6,819.0 L1392.6,819.1 L1393.6,819.1 L1394.5,819.0 L1395.3,818.9 L1396.2,818.8 L1397.1,818.7 L1398.0,818.5 L1398.9,818.3 L1399.8,818.1 L1400.7,817.8 L1401.6,817.6 L1402.5,817.4 L1403.4,817.4 L1404.3,817.4 L1405.1,817.4 L1406.0,817.6 L1406.9,817.7 L1407.8,817.9 L1408.7,818.0 L1409.6,818.0 L1410.5,818.1 L1411.4,818.1 L1412.3,818.1 L1413.2,818.1 L1414.1,818.1 L1415.0,818.2 L1415.9,818.3 L1416.8,818.5 L1417.7,818.6 L1418.6,818.6 L1419.5,818.6 L1420.4,818.5 L1421.3,818.3 L1422.2,818.0 L1423.1,817.8 L1424.0,817.5 L1424.9,817.3 L1425.8,817.1 L1426.7,816.9 L1427.6,816.7 L1428.5,816.5 L1429.3,816.4 L1430.2,816.4 L1431.1,816.6 L1432.0,816.9 L1432.9,817.2 L1433.8,817.6 L1434.7,817.9 L1435.6,818.0 L1436.5,818.1 L1437.4,818.1 L1438.2,818.0 L1439.1,817.9 L1440.0,817.7 L1441.0,817.4 L1442.1,816.9 L1443.2,816.2 L1444.3,815.4 L1445.5,814.7 L1446.7,814.2 L1447.9,813.9 L1449.1,814.0 L1450.3,814.4 L1451.5,814.9 L1452.7,815.5 L1453.8,816.1 L1455.0,816.5 L1456.1,816.8 L1457.3,817.0 L1458.4,817.2 L1459.5,817.3 L1460.6,817.4 L1461.7,817.4 L1462.8,817.3 L1464.0,817.1 L1465.1,816.9 L1466.3,816.6 L1467.4,816.3 L1468.6,816.0 L1469.8,815.7 L1471.0,815.3 L1472.2,814.9 L1473.3,814.5 L1474.4,814.1 L1475.5,813.9 L1476.5,813.8 L1477.4,813.7 L1478.2,813.7 L1479.0,813.7 L1479.8,813.7 L1480.7,813.7 L1481.5,813.6 L1482.4,813.5 L1483.3,813.4 L1484.1,813.2 L1485.0,813.0 L1485.9,812.9 L1486.7,812.7 L1487.6,812.4 L1488.5,812.1 L1489.3,811.9 L1490.2,811.6 L1491.0,811.5 L1491.9,811.4 L1492.8,811.5 L1493.6,811.5 L1494.5,811.6 L1495.4,811.6 L1496.2,811.6 L1497.1,811.4 L1498.0,811.2 L1498.8,811.0 L1499.7,810.8 L1500.6,810.6 L1501.4,810.4 L1502.3,810.2 L1503.1,810.0 L1504.0,809.8 L1504.9,809.7 L1505.7,809.6 L1506.6,809.6 L1507.5,809.7 L1508.3,809.9 L1509.2,810.2 L1510.1,810.5 L1510.9,810.7 L1511.8,810.9 L1512.6,811.0 L1513.5,811.0 L1514.4,811.0 L1515.2,810.9 L1516.1,810.8 L1517.0,810.6 L1517.8,810.4 L1518.7,810.0 L1519.5,809.6 L1520.4,809.2 L1521.3,808.9 L1522.1,808.7 L1523.0,808.6 L1523.9,808.6 L1524.7,808.7 L1525.6,808.8 L1526.5,808.8 L1527.3,808.9 L1528.2,808.9 L1529.0,809.0 L1529.9,809.1 L1530.8,809.1 L1531.6,809.0 L1532.5,808.7 L1533.3,808.1 L1534.2,807.3 L1535.0,806.4 L1535.8,805.5 L1536.7,804.8 L1537.7,804.4 L1538.8,804.4 L1539.9,804.7 L1541.1,805.2 L1542.3,805.8 L1543.5,806.2 L1544.6,806.5 L1545.6,806.5 L1546.6,806.5 L1547.6,806.3 L1548.5,806.1 L1549.4,806.0 L1550.4,805.9 L1551.3,805.9 L1552.3,806.0 L1553.2,806.1 L1554.2,806.2 L1555.2,806.3 L1556.1,806.3 L1557.1,806.2 L1558.1,806.2 L1559.0,806.1 L1560.0,805.9 L1560.9,805.8 L1561.9,805.6 L1562.9,805.4 L1563.8,805.1 L1564.8,804.9 L1565.7,804.6 L1566.7,804.3 L1567.7,804.1 L1568.6,803.9 L1569.6,803.8 L1570.6,803.7 L1571.5,803.6 L1572.5,803.5 L1573.4,803.4 L1574.4,803.4 L1575.3,803.5 L1576.3,803.5 L1577.3,803.6 L1578.2,803.6 L1579.2,803.6 L1580.2,803.5 L1581.2,803.4 L1582.2,803.2 L1583.2,803.1 L1584.2,803.0 L1585.2,803.0 L1586.2,803.0 L1587.2,803.1 L1588.2,803.3 L1589.2,803.5 L1590.2,803.7 L1591.1,803.9 L1592.0,804.2 L1592.9,804.5 L1593.7,804.9 L1594.6,805.2 L1595.4,805.5 L1596.3,805.7 L1597.1,805.8 L1598.0,805.7 L1598.9,805.6 L1599.7,805.4 L1600.6,805.3 L1601.4,805.2 L1602.3,805.2 L1603.2,805.1 L1604.0,805.1 L1604.9,805.1 L1605.8,805.1 L1606.6,805.1 L1607.5,805.2 L1608.3,805.3 L1609.2,805.5 L1610.1,805.6 L1610.9,805.8 L1611.8,806.0 L1612.7,806.2 L1613.6,806.5 L1614.5,806.7 L1615.4,807.0 L1616.3,807.2 L1617.2,807.4 L1618.1,807.6 L1619.0,807.7 L1619.9,807.8 L1620.8,807.9 L1621.7,808.0 L1622.6,808.1 L1623.5,808.2 L1624.4,808.2 L1625.3,808.2 L1626.2,808.2 L1627.1,808.4 L1628.0,808.6 L1628.9,809.0 L1629.8,809.6 L1630.7,810.3 L1631.6,810.9 L1632.5,811.5 L1633.4,811.9 L1634.3,811.9 L1635.1,811.8 L1635.9,811.6 L1636.8,811.3 L1637.7,811.3 L1638.8,811.5 L1640.0,812.0 L1641.4,812.6 L1642.8,813.3 L1644.2,814.2 L1645.7,815.3 L1647.1,816.7 L1648.5,818.4 L1649.9,820.5 L1651.2,822.8 L1652.6,825.1 L1654.0,827.3 L1655.4,829.2 L1656.8,830.9 L1658.3,832.6 L1659.7,834.1 L1661.2,835.4 L1662.5,836.6 L1663.7,837.5 L1664.7,838.0 L1665.7,838.3 L1666.5,838.3 L1667.3,838.2 L1668.0,838.2 L1668.9,838.3 L1669.7,838.7 L1670.6,839.1 L1671.5,839.6 L1672.3,840.1 L1673.2,840.6 L1674.1,841.0 L1674.9,841.4 L1675.8,841.7 L1676.6,842.0 L1677.5,842.3 L1678.4,842.6 L1679.2,842.9 L1680.1,843.1 L1680.9,843.3 L1681.8,843.4 L1682.7,843.6 L1683.5,843.7 L1684.4,843.7 L1685.3,843.7 L1686.1,843.6 L1687.0,843.5 L1687.9,843.3 L1688.7,843.2 L1689.6,843.1 L1690.5,843.2 L1691.3,843.3 L1692.2,843.4 L1693.1,843.5 L1693.9,843.5 L1694.8,843.5 L1695.7,843.2 L1696.5,842.8 L1697.4,842.3 L1698.3,841.9 L1699.1,841.4 L1700.0,841.1 L1700.8,840.8 L1701.7,840.5 L1702.5,840.3 L1703.3,840.1 L1704.2,840.0 L1705.2,840.0 L1706.3,840.1 L1707.5,840.4 L1708.7,840.8 L1710.0,841.2 L1711.2,841.6 L1712.5,841.9 L1713.7,842.3 L1714.9,842.8 L1716.2,843.2 L1717.4,843.6 L1718.6,843.9 L1719.7,844.1 L1720.7,844.1 L1721.7,844.1 L1722.6,843.9 L1723.5,843.7 L1724.3,843.5 L1725.2,843.2 L1726.2,843.0 L1727.1,842.6 L1728.0,842.2 L1728.9,841.8 L1729.8,841.5 L1730.8,841.2 L1731.7,841.0 L1732.6,840.9 L1733.5,840.8 L1734.5,840.7 L1735.4,840.7 L1736.3,840.6 L1737.2,840.5 L1738.1,840.5 L1739.0,840.5 L1739.9,840.4 L1740.8,840.4 L1741.7,840.4 L1742.6,840.5 L1743.5,840.6 L1744.4,840.8 L1745.3,840.9 L1746.2,841.0 L1747.1,841.0 L1748.0,841.0 L1748.9,840.9 L1749.8,840.8 L1750.6,840.7 L1751.5,840.6 L1752.4,840.6 L1753.3,840.6 L1754.2,840.7 L1755.1,840.8 L1756.0,840.9 L1756.9,841.0 L1757.8,841.0 L1758.7,840.8 L1759.5,840.6 L1760.3,840.3 L1761.2,840.0 L1762.1,839.9 L1763.2,840.0 L1764.4,840.4 L1765.9,841.0 L1767.4,841.8 L1768.8,842.5 L1770.3,843.2 L1771.5,843.7 L1772.6,844.0 L1773.5,844.1 L1774.4,844.1 L1775.2,844.1 L1776.0,844.1 L1776.8,844.1 L1777.7,844.2 L1778.6,844.3 L1779.5,844.5 L1780.4,844.5 L1781.3,844.6 L1782.2,844.5 L1783.1,844.4 L1784.0,844.2 L1784.9,843.9 L1785.7,843.6 L1786.6,843.4 L1787.5,843.2 L1788.4,843.2 L1789.3,843.2 L1790.2,843.2 L1791.1,843.3 L1792.0,843.4 L1792.9,843.5 L1793.8,843.7 L1794.7,843.9 L1795.5,844.2 L1796.4,844.4 L1797.3,844.5 L1798.2,844.6 L1799.1,844.4 L1800.0,844.1 L1800.9,843.7 L1801.8,843.3 L1802.7,843.0 L1803.6,842.8 L1804.4,842.8 L1805.3,843.0 L1806.2,843.2 L1807.1,843.4 L1808.0,843.6 L1808.9,843.7 L1809.8,843.7 L1810.6,843.7 L1811.5,843.7 L1812.3,843.6 L1813.2,843.5 L1814.1,843.3 L1814.9,843.1 L1815.7,842.7 L1816.6,842.3 L1817.4,842.0 L1818.3,841.7 L1819.2,841.6 L1820.2,841.7 L1821.2,842.0 L1822.2,842.3 L1823.3,842.7 L1824.4,843.0 L1825.4,843.1 L1826.5,843.1 L1827.5,842.8 L1828.5,842.5 L1829.6,842.3 L1830.6,842.1 L1831.7,842.1 L1832.7,842.4 L1833.8,842.8 L1834.8,843.3 L1835.9,843.9 L1836.9,844.3 L1837.9,844.7 L1838.8,844.9 L1839.8,845.0 L1840.6,845.0 L1841.5,845.0 L1842.4,845.1 L1843.3,845.2 L1844.2,845.3 L1845.1,845.6 L1846.0,845.8 L1846.9,846.0 L1847.8,846.1 L1848.7,846.1 L1849.6,845.8 L1850.5,845.3 L1851.4,844.8 L1852.3,844.2 L1853.2,843.7 L1854.1,843.5 L1855.0,843.6 L1855.9,843.9 L1856.8,844.3 L1857.7,844.7 L1858.6,845.1 L1859.5,845.3 L1860.4,845.5 L1861.3,845.5 L1862.2,845.5 L1863.1,845.5 L1864.0,845.4 L1864.8,845.3 L1865.7,845.2 L1866.6,844.9 L1867.5,844.6 L1868.4,844.3 L1869.3,844.1 L1870.2,843.9 L1871.1,843.9 L1872.0,843.9 L1872.9,844.0 L1873.8,844.1 L1874.7,844.2 L1875.6,844.3 L1876.5,844.4 L1877.4,844.5 L1878.3,844.6 L1879.2,844.7 L1880.1,844.8 L1881.0,844.9 L1881.9,845.0 L1882.8,845.0 L1883.7,845.1 L1884.6,845.1 L1885.5,845.2 L1886.4,845.2 L1887.4,845.2 L1888.4,845.2 L1889.4,845.2 L1890.4,845.1 L1891.2,845.1 L1891.8,845.1" fill="none" stroke="#c4452c" stroke-width="2.6" stroke-linejoin="round" stroke-linecap="round"/>
<path d="M1143.8,803.7 L1145.3,804.8 M1157.6,800.5 L1159.2,799.5 M1159.2,799.5 L1160.8,798.4 M1160.8,798.4 L1162.3,797.3 M1162.3,797.3 L1163.8,796.1 M1197.5,754.8 L1198.6,754.0 M1370.2,816.8 L1371.0,817.4 M1642.8,813.3 L1644.2,814.2 M1644.2,814.2 L1645.7,815.3 M1662.5,836.6 L1663.7,837.5" fill="none" stroke="#d63e1e" stroke-width="3.0" stroke-linecap="round"/>
<path d="M1099.2,839.2 L1100.7,837.8 M1123.8,681.9 L1124.4,682.5 M1163.8,796.1 L1165.4,794.8 M1165.4,794.8 L1166.9,793.5 M1166.9,793.5 L1168.4,792.1 M1168.4,792.1 L1170.0,790.6 M1196.4,755.8 L1197.5,754.8 M1204.5,753.2 L1205.3,753.8 M1221.3,800.1 L1222.2,801.0 M1349.6,751.0 L1350.4,751.7 M1369.4,816.0 L1370.2,816.8 M1645.7,815.3 L1647.1,816.7 M1659.7,834.1 L1661.2,835.4 M1661.2,835.4 L1662.5,836.6" fill="none" stroke="#d63e1e" stroke-width="3.5" stroke-linecap="round"/>
<path d="M1170.0,790.6 L1171.5,789.0 M1171.5,789.0 L1173.0,787.3 M1173.0,787.3 L1174.6,785.6 M1174.6,785.6 L1176.1,783.7 M1195.4,756.9 L1196.4,755.8 M1205.3,753.8 L1206.0,754.6 M1655.4,829.2 L1656.8,830.9 M1656.8,830.9 L1658.3,832.6 M1658.3,832.6 L1659.7,834.1" fill="none" stroke="#d63e1e" stroke-width="4.0" stroke-linecap="round"/>
<path d="M1100.7,837.8 L1102.1,835.8 M1142.4,801.6 L1143.8,803.7 M1176.1,783.7 L1177.6,781.8 M1177.6,781.8 L1179.2,779.9 M1179.2,779.9 L1180.7,777.9 M1180.7,777.9 L1182.3,775.8 M1182.3,775.8 L1183.9,773.6 M1183.9,773.6 L1185.5,771.3 M1185.5,771.3 L1187.0,769.1 M1187.0,769.1 L1188.5,767.0 M1188.5,767.0 L1189.9,765.0 M1189.9,765.0 L1191.1,763.2 M1191.1,763.2 L1192.3,761.4 M1193.3,759.8 L1194.3,758.3 M1194.3,758.3 L1195.4,756.9 M1206.0,754.6 L1206.7,755.6 M1350.4,751.7 L1351.1,752.6 M1367.3,813.1 L1368.4,814.8 M1368.4,814.8 L1369.4,816.0 M1647.1,816.7 L1648.5,818.4 M1648.5,818.4 L1649.9,820.5 M1654.0,827.3 L1655.4,829.2" fill="none" stroke="#d63e1e" stroke-width="4.5" stroke-linecap="round"/>
<path d="M1102.1,835.8 L1103.4,833.4 M1140.9,798.7 L1142.4,801.6 M1192.3,761.4 L1193.3,759.8 M1206.7,755.6 L1207.4,756.7 M1207.4,756.7 L1208.1,758.0 M1220.6,799.0 L1221.3,800.1 M1351.1,752.6 L1351.8,753.7 M1364.8,808.8 L1366.1,811.1 M1366.1,811.1 L1367.3,813.1 M1649.9,820.5 L1651.2,822.8 M1651.2,822.8 L1652.6,825.1 M1652.6,825.1 L1654.0,827.3" fill="none" stroke="#d63e1e" stroke-width="5.0" stroke-linecap="round"/>
<path d="M1103.4,833.4 L1104.7,830.7 M1104.7,830.7 L1105.9,827.5 M1105.9,827.5 L1107.1,823.7 M1107.1,823.7 L1108.2,818.8 M1108.2,818.8 L1109.3,812.8 M1109.3,812.8 L1110.4,804.9 M1110.4,804.9 L1111.4,795.4 M1111.4,795.4 L1112.4,784.8 M1112.4,784.8 L1113.4,774.1 M1113.4,774.1 L1114.3,763.9 M1114.3,763.9 L1115.0,755.2 M1115.0,755.2 L1115.6,747.8 M1115.6,747.8 L1116.0,741.2 M1116.0,741.2 L1116.4,735.1 M1116.4,735.1 L1116.7,729.6 M1116.7,729.6 L1117.1,724.4 M1117.1,724.4 L1117.5,719.5 M1117.5,719.5 L1118.0,715.0 M1118.0,715.0 L1118.5,710.9 M1118.5,710.9 L1119.1,707.3 M1119.1,707.3 L1119.6,703.9 M1119.6,703.9 L1120.2,700.7 M1120.2,700.7 L1120.8,697.6 M1120.8,697.6 L1121.4,694.1 M1121.4,694.1 L1121.9,690.1 M1121.9,690.1 L1122.5,686.4 M1122.5,686.4 L1123.1,683.4 M1123.1,683.4 L1123.8,681.9 M1124.4,682.5 L1125.1,685.7 M1125.1,685.7 L1125.9,691.0 M1125.9,691.0 L1126.6,697.8 M1126.6,697.8 L1127.4,705.3 M1127.4,705.3 L1128.1,712.8 M1128.1,712.8 L1128.8,719.5 M1128.8,719.5 L1129.4,725.6 M1129.4,725.6 L1129.8,731.7 M1129.8,731.7 L1130.3,737.8 M1130.3,737.8 L1130.7,743.8 M1130.7,743.8 L1131.2,749.5 M1131.2,749.5 L1131.7,755.0 M1131.7,755.0 L1132.3,760.2 M1132.3,760.2 L1132.9,765.2 M1132.9,765.2 L1133.5,770.0 M1133.5,770.0 L1134.2,774.6 M1134.2,774.6 L1135.0,779.0 M1135.0,779.0 L1135.9,783.2 M1135.9,783.2 L1137.0,787.3 M1137.0,787.3 L1138.2,791.4 M1138.2,791.4 L1139.5,795.3 M1139.5,795.3 L1140.9,798.7 M1208.1,758.0 L1208.7,759.6 M1208.7,759.6 L1209.3,761.3 M1209.3,761.3 L1209.9,763.1 M1209.9,763.1 L1210.5,765.0 M1210.5,765.0 L1211.1,766.9 M1211.1,766.9 L1211.7,768.8 M1211.7,768.8 L1212.3,770.7 M1212.3,770.7 L1212.9,772.6 M1212.9,772.6 L1213.6,774.6 M1213.6,774.6 L1214.2,776.7 M1214.2,776.7 L1214.8,778.8 M1214.8,778.8 L1215.4,781.1 M1215.4,781.1 L1216.0,783.5 M1216.0,783.5 L1216.7,786.0 M1216.7,786.0 L1217.3,788.4 M1217.3,788.4 L1217.9,790.7 M1217.9,790.7 L1218.5,792.7 M1218.5,792.7 L1219.1,794.5 M1219.1,794.5 L1219.5,796.2 M1219.5,796.2 L1220.0,797.7 M1220.0,797.7 L1220.6,799.0 M1351.8,753.7 L1352.4,755.1 M1352.4,755.1 L1353.0,756.6 M1353.0,756.6 L1353.5,758.4 M1353.5,758.4 L1354.0,760.5 M1354.0,760.5 L1354.6,762.9 M1354.6,762.9 L1355.2,765.8 M1355.2,765.8 L1355.7,769.2 M1355.7,769.2 L1356.3,772.9 M1356.3,772.9 L1356.9,776.6 M1356.9,776.6 L1357.4,780.3 M1357.4,780.3 L1358.0,783.7 M1358.0,783.7 L1358.5,786.8 M1358.5,786.8 L1359.0,789.9 M1359.0,789.9 L1359.5,792.8 M1359.5,792.8 L1360.1,795.6 M1360.1,795.6 L1360.7,798.4 M1360.7,798.4 L1361.5,801.0 M1361.5,801.0 L1362.5,803.6 M1362.5,803.6 L1363.6,806.2 M1363.6,806.2 L1364.8,808.8" fill="none" stroke="#d63e1e" stroke-width="5.5" stroke-linecap="round"/>
<path d="M363.0,1284.3 L363.6,1284.2 L364.5,1284.1 L365.5,1284.0 L366.6,1283.9 L367.7,1283.8 L368.8,1283.7 L369.7,1283.7 L370.7,1283.7 L371.6,1283.7 L372.6,1283.8 L373.6,1283.8 L374.5,1283.9 L375.5,1283.9 L376.5,1284.1 L377.4,1284.2 L378.4,1284.3 L379.3,1284.3 L380.3,1284.2 L381.3,1284.0 L382.2,1283.7 L383.2,1283.2 L384.1,1282.8 L385.1,1282.5 L386.1,1282.3 L387.0,1282.3 L388.0,1282.5 L389.0,1282.7 L389.9,1283.0 L390.9,1283.2 L391.8,1283.4 L392.8,1283.5 L393.8,1283.5 L394.7,1283.5 L395.7,1283.5 L396.6,1283.6 L397.6,1283.7 L398.5,1283.9 L399.5,1284.1 L400.4,1284.3 L401.3,1284.6 L402.3,1284.8 L403.2,1284.9 L404.1,1285.0 L405.1,1285.0 L406.0,1285.0 L406.9,1285.0 L407.9,1285.0 L408.8,1285.0 L409.7,1285.0 L410.7,1284.9 L411.6,1284.9 L412.5,1284.9 L413.5,1284.9 L414.4,1284.9 L415.3,1284.9 L416.3,1284.9 L417.2,1284.9 L418.2,1284.9 L419.1,1284.9 L420.0,1285.0 L420.9,1285.1 L421.8,1285.3 L422.6,1285.5 L423.5,1285.7 L424.3,1285.8 L425.2,1286.0 L426.1,1286.0 L426.9,1286.1 L427.8,1286.1 L428.7,1286.1 L429.5,1286.1 L430.4,1286.1 L431.3,1286.2 L432.1,1286.4 L433.0,1286.5 L433.9,1286.6 L434.7,1286.8 L435.6,1286.9 L436.4,1287.0 L437.3,1287.0 L438.1,1287.1 L438.9,1287.1 L439.8,1287.1 L440.8,1287.1 L441.9,1287.0 L443.0,1286.9 L444.2,1286.7 L445.5,1286.5 L446.7,1286.3 L447.9,1286.0 L449.1,1285.7 L450.3,1285.4 L451.4,1285.0 L452.6,1284.6 L453.8,1284.3 L455.0,1284.0 L456.2,1283.7 L457.4,1283.5 L458.6,1283.3 L459.9,1283.1 L461.1,1282.9 L462.3,1282.7 L463.5,1282.6 L464.8,1282.5 L466.1,1282.4 L467.3,1282.3 L468.5,1282.2 L469.6,1282.2 L470.6,1282.2 L471.5,1282.3 L472.4,1282.4 L473.2,1282.5 L474.0,1282.6 L474.9,1282.6 L475.8,1282.6 L476.6,1282.6 L477.5,1282.6 L478.4,1282.5 L479.3,1282.5 L480.2,1282.4 L481.0,1282.4 L481.9,1282.4 L482.8,1282.4 L483.7,1282.4 L484.6,1282.3 L485.5,1282.2 L486.3,1282.0 L487.2,1281.8 L488.1,1281.5 L489.0,1281.3 L489.9,1281.1 L490.7,1280.9 L491.6,1280.8 L492.5,1280.8 L493.4,1280.8 L494.3,1280.8 L495.1,1280.9 L496.0,1280.9 L496.9,1280.8 L497.8,1280.8 L498.6,1280.8 L499.5,1280.8 L500.4,1280.8 L501.3,1280.8 L502.2,1280.8 L503.2,1280.9 L504.1,1281.0 L505.1,1281.0 L506.1,1281.0 L507.1,1280.9 L508.0,1280.7 L509.0,1280.3 L509.9,1279.9 L510.9,1279.5 L511.8,1279.2 L512.8,1279.0 L513.8,1279.0 L514.7,1279.2 L515.7,1279.4 L516.6,1279.7 L517.6,1279.9 L518.5,1279.9 L519.5,1279.8 L520.5,1279.5 L521.5,1279.2 L522.4,1278.9 L523.4,1278.6 L524.3,1278.5 L525.2,1278.5 L526.1,1278.6 L526.9,1278.8 L527.8,1278.9 L528.7,1279.1 L529.5,1279.2 L530.4,1279.3 L531.3,1279.3 L532.1,1279.4 L533.0,1279.4 L533.9,1279.5 L534.8,1279.5 L535.6,1279.6 L536.5,1279.7 L537.3,1279.8 L538.2,1279.9 L539.1,1279.9 L540.0,1280.0 L541.0,1280.0 L542.0,1280.0 L543.1,1280.0 L544.2,1280.0 L545.2,1280.0 L546.3,1280.0 L547.3,1280.1 L548.4,1280.2 L549.4,1280.4 L550.5,1280.6 L551.5,1280.7 L552.6,1280.8 L553.7,1280.8 L554.7,1280.9 L555.8,1280.8 L556.9,1280.8 L557.9,1280.8 L558.9,1280.8 L559.8,1280.8 L560.7,1280.9 L561.5,1280.9 L562.3,1281.0 L563.1,1281.0 L563.9,1281.0 L564.8,1281.1 L565.6,1281.2 L566.4,1281.2 L567.3,1281.3 L568.1,1281.3 L569.0,1281.3 L569.8,1281.1 L570.6,1280.9 L571.5,1280.7 L572.3,1280.5 L573.1,1280.2 L574.0,1280.1 L574.8,1279.9 L575.6,1279.7 L576.5,1279.6 L577.3,1279.4 L578.1,1279.4 L579.0,1279.4 L579.9,1279.6 L580.7,1279.8 L581.6,1280.1 L582.5,1280.5 L583.4,1280.8 L584.2,1281.0 L585.1,1281.1 L586.0,1281.1 L586.9,1281.0 L587.8,1281.0 L588.6,1280.9 L589.5,1280.9 L590.4,1280.9 L591.2,1280.9 L592.1,1281.0 L593.0,1281.0 L593.9,1281.0 L594.8,1281.0 L595.6,1281.0 L596.5,1281.0 L597.4,1280.9 L598.2,1280.9 L599.1,1280.9 L600.0,1281.0 L600.9,1281.1 L601.8,1281.3 L602.8,1281.5 L603.7,1281.7 L604.7,1281.9 L605.6,1282.0 L606.5,1281.9 L607.5,1281.8 L608.4,1281.6 L609.3,1281.4 L610.3,1281.3 L611.2,1281.3 L612.1,1281.5 L613.1,1281.9 L614.0,1282.4 L614.9,1282.8 L615.9,1283.1 L616.8,1283.2 L617.7,1283.1 L618.7,1282.7 L619.6,1282.2 L620.5,1281.7 L621.5,1281.3 L622.4,1281.1 L623.3,1281.2 L624.3,1281.5 L625.2,1281.8 L626.2,1282.2 L627.1,1282.6 L628.0,1282.8 L628.9,1282.9 L629.7,1282.9 L630.6,1282.9 L631.4,1282.8 L632.3,1282.8 L633.1,1282.7 L634.0,1282.7 L634.8,1282.6 L635.7,1282.4 L636.5,1282.3 L637.4,1282.3 L638.2,1282.3 L639.1,1282.5 L639.9,1282.7 L640.8,1283.0 L641.6,1283.4 L642.5,1283.6 L643.3,1283.8 L644.2,1283.8 L645.0,1283.8 L645.9,1283.7 L646.7,1283.5 L647.6,1283.5 L648.4,1283.4 L649.3,1283.4 L650.1,1283.4 L651.0,1283.5 L651.9,1283.5 L652.7,1283.6 L653.6,1283.7 L654.4,1283.8 L655.3,1284.0 L656.1,1284.3 L657.0,1284.4 L657.8,1284.6 L658.7,1284.6 L659.5,1284.6 L660.4,1284.4 L661.2,1284.2 L662.1,1283.9 L662.9,1283.7 L663.8,1283.5 L664.6,1283.4 L665.5,1283.3 L666.3,1283.3 L667.2,1283.3 L668.0,1283.3 L668.9,1283.3 L669.7,1283.3 L670.6,1283.3 L671.4,1283.4 L672.3,1283.5 L673.1,1283.6 L674.0,1283.7 L674.9,1283.8 L675.8,1283.9 L676.7,1284.1 L677.5,1284.2 L678.4,1284.3 L679.3,1284.3 L680.2,1284.3 L681.1,1284.2 L682.0,1284.1 L682.9,1284.1 L683.8,1284.0 L684.7,1284.0 L685.5,1284.1 L686.4,1284.3 L687.3,1284.4 L688.2,1284.6 L689.1,1284.8 L690.0,1285.0 L691.0,1285.2 L692.0,1285.3 L693.0,1285.5 L694.0,1285.6 L695.1,1285.7 L696.1,1285.7 L697.1,1285.6 L698.1,1285.4 L699.2,1285.1 L700.2,1284.8 L701.2,1284.6 L702.2,1284.6 L703.2,1284.7 L704.2,1284.9 L705.2,1285.1 L706.3,1285.4 L707.3,1285.7 L708.3,1286.0 L709.3,1286.2 L710.4,1286.4 L711.4,1286.6 L712.4,1286.8 L713.4,1287.0 L714.4,1287.1 L715.3,1287.2 L716.2,1287.3 L717.0,1287.4 L717.8,1287.4 L718.7,1287.4 L719.5,1287.4 L720.4,1287.3 L721.2,1287.1 L722.1,1286.8 L722.9,1286.6 L723.8,1286.3 L724.6,1286.2 L725.5,1286.1 L726.3,1286.1 L727.2,1286.1 L728.1,1286.1 L728.9,1286.1 L729.8,1286.1 L730.6,1286.0 L731.5,1285.9 L732.3,1285.8 L733.2,1285.7 L734.0,1285.6 L734.9,1285.5 L735.7,1285.4 L736.6,1285.3 L737.4,1285.2 L738.3,1285.1 L739.1,1285.0 L740.0,1285.0 L740.9,1285.1 L741.8,1285.2 L742.7,1285.4 L743.5,1285.5 L744.4,1285.7 L745.3,1285.7 L746.2,1285.6 L747.1,1285.4 L748.0,1285.2 L748.9,1284.9 L749.8,1284.7 L750.7,1284.5 L751.6,1284.4 L752.4,1284.3 L753.3,1284.2 L754.2,1284.2 L755.1,1284.1 L756.0,1284.2 L756.9,1284.3 L757.8,1284.5 L758.7,1284.8 L759.6,1285.1 L760.4,1285.3 L761.3,1285.4 L762.2,1285.4 L763.1,1285.2 L764.0,1285.0 L764.9,1284.8 L765.8,1284.6 L766.7,1284.5 L767.6,1284.4 L768.4,1284.4 L769.3,1284.4 L770.2,1284.3 L771.1,1284.3 L772.0,1284.3 L772.9,1284.3 L773.8,1284.3 L774.6,1284.3 L775.5,1284.3 L776.4,1284.3 L777.2,1284.2 L778.1,1284.1 L779.0,1284.0 L779.8,1283.8 L780.7,1283.7 L781.6,1283.6 L782.5,1283.6 L783.3,1283.7 L784.2,1283.9 L785.1,1284.1 L785.9,1284.3 L786.8,1284.6 L787.7,1284.7 L788.6,1284.8 L789.4,1284.8 L790.3,1284.8 L791.2,1284.8 L792.1,1284.8 L792.9,1284.8 L793.8,1284.8 L794.7,1284.8 L795.5,1284.8 L796.4,1284.9 L797.3,1284.9 L798.2,1284.9 L799.0,1285.0 L799.9,1285.1 L800.8,1285.2 L801.6,1285.3 L802.5,1285.4 L803.4,1285.3 L804.3,1285.2 L805.1,1284.9 L806.0,1284.5 L806.9,1284.2 L807.7,1284.0 L808.6,1283.9 L809.5,1284.0 L810.4,1284.2 L811.2,1284.6 L812.1,1284.9 L813.0,1285.2 L813.8,1285.4 L814.7,1285.3 L815.6,1285.2 L816.5,1284.9 L817.3,1284.7 L818.2,1284.5 L819.1,1284.4 L819.9,1284.4 L820.8,1284.5 L821.7,1284.7 L822.6,1284.9 L823.4,1285.0 L824.3,1285.1 L825.2,1285.1 L826.1,1285.0 L826.9,1284.9 L827.8,1284.9 L828.7,1284.8 L829.5,1284.7 L830.4,1284.7 L831.3,1284.7 L832.2,1284.7 L833.0,1284.7 L833.9,1284.8 L834.8,1284.8 L835.6,1284.8 L836.5,1284.9 L837.4,1285.0 L838.3,1285.0 L839.1,1285.1 L840.0,1285.1 L840.8,1285.1 L841.7,1285.0 L842.5,1284.9 L843.3,1284.8 L844.2,1284.7 L845.0,1284.7 L845.8,1284.8 L846.7,1284.9 L847.5,1285.1 L848.3,1285.3 L849.2,1285.4 L850.0,1285.5 L850.8,1285.5 L851.7,1285.5 L852.5,1285.4 L853.3,1285.3 L854.2,1285.3 L855.0,1285.2 L855.8,1285.1 L856.7,1284.9 L857.5,1284.8 L858.3,1284.7 L859.2,1284.6 L860.0,1284.6 L860.8,1284.6 L861.7,1284.8 L862.5,1285.0 L863.3,1285.2 L864.2,1285.4 L865.0,1285.4 L865.8,1285.3 L866.7,1285.1 L867.5,1284.8 L868.3,1284.5 L869.2,1284.3 L870.0,1284.2 L870.8,1284.3 L871.7,1284.4 L872.5,1284.6 L873.3,1284.9 L874.2,1285.0 L875.0,1285.1 L875.8,1285.1 L876.7,1284.9 L877.5,1284.7 L878.3,1284.6 L879.2,1284.4 L880.0,1284.4 L880.8,1284.4 L881.7,1284.6 L882.5,1284.8 L883.3,1285.0 L884.2,1285.1 L885.0,1285.3 L885.8,1285.3 L886.7,1285.3 L887.5,1285.4 L888.3,1285.3 L889.2,1285.3 L890.0,1285.2 L890.8,1285.1 L891.7,1284.9 L892.5,1284.7 L893.3,1284.5 L894.2,1284.4 L895.0,1284.3 L895.8,1284.2 L896.7,1284.2 L897.5,1284.3 L898.3,1284.3 L899.2,1284.4 L900.0,1284.5 L900.8,1284.6 L901.7,1284.7 L902.5,1284.9 L903.3,1285.0 L904.2,1285.1 L905.0,1285.1 L905.8,1284.9 L906.7,1284.7 L907.5,1284.4 L908.3,1284.1 L909.2,1283.9 L910.0,1283.8 L910.8,1283.7 L911.7,1283.8 L912.5,1283.8 L913.3,1283.9 L914.2,1284.1 L915.0,1284.2 L915.8,1284.3 L916.7,1284.5 L917.5,1284.7 L918.3,1284.9 L919.2,1285.0 L920.0,1285.0 L920.8,1284.8 L921.7,1284.5 L922.5,1284.1 L923.3,1283.8 L924.2,1283.5 L925.0,1283.3 L925.8,1283.3 L926.7,1283.5 L927.5,1283.7 L928.3,1284.0 L929.2,1284.2 L930.0,1284.3 L930.8,1284.4 L931.7,1284.4 L932.5,1284.4 L933.3,1284.4 L934.2,1284.3 L935.0,1284.2 L935.8,1284.0 L936.7,1283.7 L937.5,1283.4 L938.3,1283.1 L939.2,1282.9 L940.0,1282.8 L940.8,1282.9 L941.7,1283.1 L942.5,1283.3 L943.3,1283.6 L944.2,1283.8 L945.0,1283.9 L945.8,1283.9 L946.7,1283.7 L947.5,1283.5 L948.3,1283.3 L949.2,1283.1 L950.0,1283.0 L950.8,1282.9 L951.7,1282.9 L952.5,1282.9 L953.3,1282.9 L954.2,1283.0 L955.0,1283.0 L955.8,1283.0 L956.7,1283.0 L957.5,1282.9 L958.3,1282.9 L959.2,1283.0 L960.0,1283.0 L960.8,1283.1 L961.7,1283.3 L962.5,1283.6 L963.3,1283.7 L964.2,1283.9 L965.0,1283.8 L965.8,1283.6 L966.7,1283.1 L967.5,1282.5 L968.3,1282.0 L969.2,1281.6 L970.0,1281.5 L970.8,1281.8 L971.7,1282.3 L972.5,1282.9 L973.3,1283.6 L974.2,1284.1 L975.0,1284.4 L975.8,1284.4 L976.7,1284.2 L977.5,1283.8 L978.3,1283.5 L979.2,1283.2 L980.0,1283.0 L980.8,1283.1 L981.7,1283.2 L982.5,1283.5 L983.3,1283.7 L984.2,1283.9 L985.0,1284.1 L985.8,1284.2 L986.7,1284.2 L987.5,1284.2 L988.3,1284.2 L989.2,1284.2 L990.0,1284.2 L990.8,1284.1 L991.7,1284.1 L992.5,1284.0 L993.3,1283.9 L994.2,1283.8 L995.0,1283.7 L995.8,1283.7 L996.7,1283.7 L997.5,1283.6 L998.3,1283.6 L999.2,1283.6 L1000.0,1283.5 L1000.8,1283.4 L1001.7,1283.3 L1002.5,1283.2 L1003.3,1283.1 L1004.2,1283.0 L1005.0,1282.9 L1005.8,1282.8 L1006.7,1282.7 L1007.5,1282.7 L1008.3,1282.6 L1009.2,1282.6 L1010.0,1282.6 L1010.8,1282.6 L1011.7,1282.7 L1012.5,1282.8 L1013.3,1282.9 L1014.2,1283.0 L1015.0,1283.0 L1015.8,1283.0 L1016.7,1282.9 L1017.5,1282.8 L1018.3,1282.7 L1019.2,1282.6 L1020.0,1282.6 L1020.8,1282.6 L1021.7,1282.7 L1022.5,1282.8 L1023.3,1282.9 L1024.2,1283.0 L1025.0,1283.0 L1025.8,1283.0 L1026.7,1283.0 L1027.5,1283.0 L1028.3,1283.0 L1029.2,1283.0 L1030.0,1283.0 L1030.8,1283.1 L1031.7,1283.2 L1032.5,1283.4 L1033.3,1283.5 L1034.2,1283.6 L1035.0,1283.5 L1035.8,1283.4 L1036.7,1283.1 L1037.5,1282.8 L1038.3,1282.4 L1039.2,1282.2 L1040.0,1282.0 L1040.8,1282.0 L1041.7,1282.1 L1042.5,1282.3 L1043.3,1282.5 L1044.2,1282.6 L1045.0,1282.6 L1045.8,1282.3 L1046.7,1281.9 L1047.5,1281.3 L1048.3,1280.8 L1049.2,1280.4 L1050.0,1280.1 L1050.8,1280.1 L1051.7,1280.2 L1052.5,1280.4 L1053.3,1280.6 L1054.2,1280.8 L1055.0,1281.0 L1055.8,1281.1 L1056.7,1281.1 L1057.5,1281.2 L1058.3,1281.2 L1059.2,1281.3 L1060.0,1281.4 L1060.9,1281.5 L1061.7,1281.7 L1062.6,1281.9 L1063.5,1282.0 L1064.3,1282.2 L1065.2,1282.3 L1066.1,1282.3 L1066.9,1282.3 L1067.8,1282.3 L1068.7,1282.3 L1069.5,1282.3 L1070.4,1282.3 L1071.3,1282.4 L1072.1,1282.6 L1072.9,1282.8 L1073.8,1283.0 L1074.7,1283.1 L1075.6,1283.2 L1076.6,1283.2 L1077.6,1283.1 L1078.7,1283.0 L1079.8,1282.9 L1080.9,1282.7 L1081.9,1282.5 L1083.0,1282.3 L1084.0,1281.9 L1085.1,1281.6 L1086.2,1281.2 L1087.2,1280.9 L1088.3,1280.7 L1089.3,1280.6 L1090.2,1280.8 L1091.2,1281.0 L1092.2,1281.1 L1093.3,1281.0 L1094.6,1280.6 L1096.1,1279.9 L1097.9,1278.8 L1099.7,1277.6 L1101.6,1276.3 L1103.3,1274.9 L1104.9,1273.6 L1106.3,1272.5 L1107.6,1271.6 L1108.8,1270.6 L1109.9,1269.3 L1110.9,1267.6 L1111.8,1265.0 L1112.6,1261.8 L1113.3,1258.1 L1113.8,1253.9 L1114.3,1249.1 L1114.8,1243.6 L1115.3,1237.4 L1115.8,1230.2 L1116.2,1221.9 L1116.5,1213.0 L1116.9,1203.7 L1117.4,1194.4 L1117.9,1185.5 L1118.5,1176.9 L1119.1,1168.2 L1119.8,1159.6 L1120.6,1151.0 L1121.4,1142.3 L1122.2,1133.7 L1123.1,1124.7 L1124.2,1115.3 L1125.2,1105.9 L1126.3,1096.9 L1127.4,1088.8 L1128.3,1081.8 L1129.1,1076.1 L1129.9,1071.3 L1130.7,1067.3 L1131.4,1064.1 L1132.0,1061.3 L1132.6,1059.0 L1133.1,1057.2 L1133.6,1056.1 L1134.0,1055.5 L1134.4,1055.3 L1134.8,1055.5 L1135.2,1055.9 L1135.6,1056.4 L1136.0,1057.0 L1136.3,1057.9 L1136.7,1059.4 L1137.2,1061.5 L1137.8,1064.6 L1138.5,1068.7 L1139.3,1073.5 L1140.2,1079.1 L1141.1,1085.4 L1142.0,1092.0 L1142.9,1099.1 L1143.8,1106.7 L1144.6,1115.1 L1145.5,1124.0 L1146.4,1133.1 L1147.2,1142.2 L1148.1,1151.0 L1148.9,1160.1 L1149.6,1169.8 L1150.4,1179.5 L1151.2,1188.6 L1152.1,1196.6 L1153.3,1202.8 L1154.8,1207.0 L1156.4,1209.5 L1158.3,1210.8 L1160.2,1211.5 L1162.0,1212.1 L1163.7,1213.2 L1165.2,1214.5 L1166.7,1215.4 L1168.1,1216.3 L1169.5,1217.3 L1170.9,1218.5 L1172.3,1220.1 L1173.7,1222.3 L1175.1,1224.9 L1176.5,1227.7 L1178.0,1230.6 L1179.5,1233.3 L1181.0,1235.6 L1182.7,1237.6 L1184.5,1239.6 L1186.4,1241.3 L1188.2,1242.9 L1189.9,1244.2 L1191.3,1245.1 L1192.5,1245.6 L1193.4,1245.7 L1194.2,1245.6 L1195.0,1245.2 L1195.7,1244.9 L1196.5,1244.8 L1197.4,1244.7 L1198.2,1244.6 L1199.1,1244.5 L1200.0,1244.4 L1200.8,1244.4 L1201.7,1244.3 L1202.5,1244.3 L1203.1,1244.5 L1203.8,1244.7 L1204.5,1244.7 L1205.5,1244.6 L1206.9,1244.3 L1208.8,1243.6 L1211.2,1242.6 L1213.8,1241.4 L1216.4,1240.1 L1218.8,1239.0 L1220.7,1238.2 L1222.1,1237.7 L1223.2,1237.3 L1224.1,1237.1 L1224.9,1236.9 L1225.7,1236.7 L1226.6,1236.4 L1227.6,1235.9 L1228.5,1235.3 L1229.5,1234.7 L1230.5,1234.1 L1231.5,1233.7 L1232.5,1233.3 L1233.4,1233.3 L1234.4,1233.4 L1235.4,1233.6 L1236.4,1233.8 L1237.4,1233.9 L1238.3,1233.9 L1239.3,1233.6 L1240.3,1233.2 L1241.3,1232.7 L1242.3,1232.2 L1243.2,1231.7 L1244.2,1231.2 L1244.9,1230.9 L1245.1,1230.8 L1245.4,1230.6 L1246.0,1230.4 L1247.5,1229.8 L1250.1,1228.7 L1254.5,1227.0 L1260.4,1224.7 L1267.2,1222.1 L1274.0,1219.4 L1280.0,1216.9 L1284.6,1214.9 L1287.6,1213.3 L1289.5,1211.8 L1290.7,1210.6 L1291.6,1209.6 L1292.3,1208.7 L1293.3,1208.0 L1294.5,1207.6 L1295.5,1207.4 L1296.5,1207.4 L1297.4,1207.5 L1298.4,1207.6 L1299.3,1207.6 L1300.3,1207.5 L1301.2,1207.5 L1302.1,1207.5 L1303.1,1207.3 L1304.1,1207.0 L1305.4,1206.3 L1306.9,1205.2 L1308.6,1203.7 L1310.4,1202.0 L1312.2,1200.3 L1314.0,1198.7 L1315.7,1197.6 L1317.3,1196.9 L1318.8,1196.6 L1320.3,1196.4 L1321.7,1196.3 L1323.1,1196.2 L1324.4,1195.9 L1325.7,1195.3 L1326.9,1194.6 L1328.1,1193.8 L1329.2,1193.1 L1330.3,1192.6 L1331.3,1192.4 L1332.2,1192.3 L1333.0,1192.3 L1333.8,1192.4 L1334.6,1192.9 L1335.5,1194.0 L1336.5,1195.9 L1337.7,1198.8 L1339.1,1202.5 L1340.6,1206.8 L1342.1,1211.4 L1343.6,1215.9 L1345.1,1220.1 L1346.6,1224.1 L1348.1,1228.1 L1349.6,1232.2 L1351.1,1236.0 L1352.5,1239.5 L1353.8,1242.5 L1354.9,1245.1 L1355.9,1247.3 L1356.8,1249.1 L1357.6,1250.7 L1358.5,1251.9 L1359.4,1252.9 L1360.4,1253.5 L1361.3,1253.6 L1362.3,1253.3 L1363.3,1253.0 L1364.2,1252.7 L1365.2,1252.6 L1366.2,1252.7 L1367.1,1252.8 L1368.1,1253.0 L1369.1,1253.2 L1370.0,1253.4 L1371.0,1253.5 L1372.0,1253.7 L1372.9,1253.8 L1373.9,1253.9 L1374.9,1254.0 L1375.8,1254.2 L1376.8,1254.3 L1377.8,1254.5 L1378.7,1254.7 L1379.7,1254.9 L1380.7,1255.2 L1381.6,1255.3 L1382.6,1255.5 L1383.6,1255.6 L1384.5,1255.6 L1385.5,1255.6 L1386.5,1255.6 L1387.5,1255.6 L1388.4,1255.5 L1389.3,1255.4 L1390.2,1255.1 L1391.1,1254.9 L1392.0,1254.6 L1392.9,1254.4 L1393.8,1254.2 L1394.7,1254.1 L1395.6,1254.0 L1396.5,1253.9 L1397.4,1253.8 L1398.3,1253.8 L1399.2,1253.9 L1400.1,1254.1 L1400.9,1254.5 L1401.8,1254.9 L1402.7,1255.3 L1403.6,1255.6 L1404.5,1255.6 L1405.4,1255.4 L1406.3,1255.0 L1407.2,1254.4 L1408.1,1253.8 L1409.0,1253.2 L1409.9,1252.9 L1410.8,1252.7 L1411.7,1252.7 L1412.6,1252.7 L1413.5,1252.8 L1414.4,1252.8 L1415.3,1252.8 L1416.2,1252.8 L1417.1,1252.7 L1418.0,1252.6 L1418.9,1252.6 L1419.8,1252.5 L1420.7,1252.4 L1421.6,1252.4 L1422.5,1252.4 L1423.4,1252.5 L1424.3,1252.5 L1425.1,1252.5 L1426.0,1252.4 L1426.9,1252.2 L1427.8,1252.0 L1428.7,1251.8 L1429.6,1251.6 L1430.5,1251.3 L1431.4,1251.2 L1432.3,1251.2 L1433.2,1251.2 L1434.1,1251.3 L1435.0,1251.3 L1435.9,1251.3 L1436.8,1251.3 L1437.7,1251.2 L1438.6,1250.9 L1439.6,1250.7 L1440.5,1250.5 L1441.4,1250.3 L1442.3,1250.2 L1443.2,1250.2 L1444.2,1250.3 L1445.1,1250.5 L1446.0,1250.7 L1446.9,1250.8 L1447.9,1250.8 L1448.8,1250.6 L1449.7,1250.3 L1450.6,1250.0 L1451.5,1249.7 L1452.5,1249.4 L1453.4,1249.2 L1454.3,1249.1 L1455.2,1249.1 L1456.2,1249.1 L1457.1,1249.1 L1458.0,1249.2 L1458.9,1249.2 L1459.8,1249.3 L1460.8,1249.3 L1461.7,1249.4 L1462.6,1249.5 L1463.5,1249.5 L1464.4,1249.5 L1465.4,1249.5 L1466.3,1249.5 L1467.2,1249.4 L1468.1,1249.3 L1469.1,1249.2 L1470.0,1249.1 L1470.9,1249.0 L1471.8,1248.8 L1472.8,1248.6 L1473.7,1248.4 L1474.6,1248.2 L1475.5,1248.1 L1476.4,1248.0 L1477.3,1247.9 L1478.2,1247.8 L1479.0,1247.7 L1479.9,1247.6 L1480.8,1247.5 L1481.7,1247.5 L1482.5,1247.4 L1483.4,1247.4 L1484.3,1247.3 L1485.2,1247.3 L1486.0,1247.2 L1486.9,1247.1 L1487.8,1247.0 L1488.7,1246.9 L1489.6,1246.8 L1490.4,1246.7 L1491.3,1246.6 L1492.2,1246.5 L1493.1,1246.5 L1494.0,1246.4 L1494.8,1246.4 L1495.7,1246.3 L1496.6,1246.2 L1497.5,1246.2 L1498.3,1246.2 L1499.2,1246.1 L1500.1,1246.1 L1501.0,1246.0 L1501.9,1245.9 L1502.7,1245.8 L1503.6,1245.5 L1504.5,1245.3 L1505.4,1245.0 L1506.3,1244.8 L1507.1,1244.7 L1508.0,1244.6 L1508.9,1244.6 L1509.8,1244.6 L1510.7,1244.6 L1511.5,1244.7 L1512.4,1244.7 L1513.3,1244.8 L1514.2,1244.9 L1515.0,1245.0 L1515.9,1245.1 L1516.8,1245.2 L1517.7,1245.3 L1518.6,1245.4 L1519.4,1245.5 L1520.3,1245.5 L1521.2,1245.5 L1522.1,1245.5 L1523.0,1245.4 L1523.8,1245.1 L1524.7,1244.7 L1525.6,1244.3 L1526.5,1243.9 L1527.3,1243.5 L1528.2,1243.2 L1529.1,1243.1 L1530.0,1243.1 L1530.9,1243.2 L1531.7,1243.2 L1532.6,1243.3 L1533.5,1243.2 L1534.4,1243.0 L1535.3,1242.7 L1536.2,1242.4 L1537.1,1242.0 L1538.0,1241.8 L1538.9,1241.7 L1539.8,1241.8 L1540.7,1242.1 L1541.6,1242.4 L1542.5,1242.7 L1543.4,1243.0 L1544.3,1243.2 L1545.2,1243.3 L1546.1,1243.2 L1547.0,1243.2 L1547.9,1243.1 L1548.8,1243.0 L1549.7,1242.9 L1550.5,1242.9 L1551.4,1242.8 L1552.3,1242.8 L1553.2,1242.8 L1554.1,1242.7 L1555.0,1242.6 L1555.9,1242.4 L1556.8,1242.1 L1557.7,1241.8 L1558.6,1241.5 L1559.5,1241.3 L1560.4,1241.2 L1561.3,1241.1 L1562.2,1241.2 L1563.1,1241.3 L1564.0,1241.5 L1564.9,1241.6 L1565.8,1241.6 L1566.7,1241.5 L1567.6,1241.4 L1568.5,1241.2 L1569.4,1241.1 L1570.3,1241.0 L1571.2,1241.0 L1572.1,1241.1 L1573.0,1241.5 L1573.9,1241.8 L1574.7,1242.2 L1575.6,1242.5 L1576.5,1242.6 L1577.4,1242.6 L1578.3,1242.4 L1579.2,1242.1 L1580.1,1241.9 L1581.0,1241.7 L1581.9,1241.7 L1582.8,1241.8 L1583.7,1242.2 L1584.6,1242.6 L1585.5,1243.0 L1586.4,1243.3 L1587.3,1243.4 L1588.2,1243.2 L1589.1,1242.8 L1589.9,1242.4 L1590.8,1241.9 L1591.7,1241.5 L1592.6,1241.4 L1593.5,1241.5 L1594.4,1241.8 L1595.3,1242.1 L1596.2,1242.6 L1597.1,1242.9 L1598.0,1243.2 L1598.9,1243.3 L1599.7,1243.3 L1600.6,1243.3 L1601.5,1243.3 L1602.3,1243.4 L1603.2,1243.6 L1604.0,1244.0 L1604.9,1244.6 L1605.8,1245.2 L1606.6,1245.9 L1607.5,1246.5 L1608.4,1247.0 L1609.2,1247.4 L1610.1,1247.8 L1611.0,1248.1 L1611.8,1248.3 L1612.7,1248.6 L1613.5,1248.9 L1614.4,1249.1 L1615.3,1249.4 L1616.1,1249.6 L1617.0,1249.8 L1617.9,1250.0 L1618.7,1250.2 L1619.5,1250.3 L1620.2,1250.3 L1620.8,1250.3 L1621.6,1250.4 L1622.6,1250.7 L1623.9,1251.3 L1625.5,1252.1 L1627.4,1253.1 L1629.5,1254.2 L1631.7,1255.6 L1634.2,1257.3 L1636.8,1259.4 L1639.8,1262.1 L1643.2,1265.5 L1646.8,1269.3 L1650.4,1272.9 L1653.5,1276.2 L1656.1,1278.7 L1657.9,1280.4 L1659.3,1281.5 L1660.2,1282.3 L1661.0,1282.8 L1661.7,1283.1 L1662.6,1283.5 L1663.6,1283.8 L1664.5,1284.0 L1665.4,1284.0 L1666.2,1284.0 L1667.1,1284.0 L1668.0,1284.0 L1668.9,1284.0 L1669.8,1284.0 L1670.7,1283.9 L1671.5,1283.9 L1672.4,1283.9 L1673.3,1283.9 L1674.2,1284.0 L1675.1,1284.1 L1676.0,1284.2 L1676.9,1284.3 L1677.8,1284.3 L1678.7,1284.3 L1679.6,1284.1 L1680.5,1283.8 L1681.4,1283.5 L1682.3,1283.1 L1683.2,1282.8 L1684.1,1282.7 L1685.0,1282.7 L1685.9,1282.9 L1686.8,1283.1 L1687.6,1283.4 L1688.5,1283.6 L1689.4,1283.7 L1690.3,1283.8 L1691.2,1283.8 L1692.1,1283.8 L1693.0,1283.7 L1693.9,1283.6 L1694.8,1283.5 L1695.7,1283.3 L1696.6,1283.0 L1697.5,1282.7 L1698.4,1282.3 L1699.3,1282.0 L1700.2,1281.7 L1701.1,1281.4 L1702.0,1281.2 L1702.9,1280.9 L1703.8,1280.7 L1704.7,1280.5 L1705.6,1280.3 L1706.5,1280.1 L1707.4,1279.9 L1708.3,1279.8 L1709.2,1279.6 L1710.1,1279.5 L1711.0,1279.4 L1711.9,1279.4 L1712.8,1279.5 L1713.7,1279.6 L1714.6,1279.7 L1715.5,1279.8 L1716.4,1279.8 L1717.3,1279.7 L1718.2,1279.6 L1719.1,1279.4 L1720.0,1279.3 L1720.9,1279.1 L1721.8,1279.0 L1722.7,1279.0 L1723.5,1278.9 L1724.4,1278.9 L1725.3,1278.9 L1726.2,1278.9 L1727.1,1278.9 L1728.0,1278.8 L1728.9,1278.7 L1729.8,1278.5 L1730.7,1278.4 L1731.6,1278.3 L1732.5,1278.3 L1733.4,1278.5 L1734.3,1278.8 L1735.2,1279.1 L1736.1,1279.4 L1737.0,1279.7 L1737.9,1279.9 L1738.8,1279.9 L1739.7,1279.8 L1740.6,1279.7 L1741.5,1279.6 L1742.4,1279.4 L1743.3,1279.4 L1744.2,1279.4 L1745.1,1279.4 L1746.0,1279.4 L1746.9,1279.5 L1747.7,1279.5 L1748.6,1279.5 L1749.5,1279.4 L1750.4,1279.4 L1751.3,1279.3 L1752.2,1279.2 L1753.1,1279.2 L1754.0,1279.1 L1754.9,1279.0 L1755.8,1278.9 L1756.7,1278.8 L1757.6,1278.7 L1758.5,1278.7 L1759.4,1278.7 L1760.3,1278.8 L1761.2,1278.8 L1762.1,1279.0 L1763.0,1279.1 L1763.9,1279.3 L1764.8,1279.5 L1765.7,1279.7 L1766.6,1280.0 L1767.5,1280.4 L1768.3,1280.7 L1769.2,1280.9 L1770.1,1281.0 L1771.0,1280.9 L1771.9,1280.7 L1772.8,1280.3 L1773.7,1280.0 L1774.6,1279.8 L1775.5,1279.8 L1776.4,1280.1 L1777.3,1280.6 L1778.2,1281.2 L1779.1,1281.8 L1780.0,1282.3 L1780.9,1282.6 L1781.8,1282.8 L1782.7,1282.8 L1783.6,1282.7 L1784.4,1282.6 L1785.3,1282.5 L1786.2,1282.5 L1787.1,1282.6 L1788.0,1282.8 L1788.9,1283.1 L1789.8,1283.3 L1790.7,1283.4 L1791.6,1283.5 L1792.5,1283.4 L1793.4,1283.3 L1794.3,1283.1 L1795.2,1282.9 L1796.1,1282.7 L1797.0,1282.6 L1797.9,1282.5 L1798.8,1282.4 L1799.7,1282.3 L1800.6,1282.3 L1801.5,1282.3 L1802.4,1282.2 L1803.3,1282.2 L1804.2,1282.1 L1805.1,1282.1 L1806.0,1282.1 L1806.9,1282.0 L1807.8,1282.1 L1808.6,1282.1 L1809.5,1282.3 L1810.4,1282.5 L1811.3,1282.6 L1812.2,1282.7 L1813.1,1282.7 L1814.0,1282.5 L1814.9,1282.2 L1815.8,1281.8 L1816.7,1281.5 L1817.6,1281.2 L1818.5,1281.0 L1819.4,1280.9 L1820.3,1281.0 L1821.2,1281.1 L1822.1,1281.2 L1823.0,1281.3 L1823.9,1281.3 L1824.8,1281.3 L1825.6,1281.3 L1826.5,1281.2 L1827.3,1281.2 L1828.1,1281.2 L1829.0,1281.2 L1829.8,1281.3 L1830.7,1281.4 L1831.5,1281.5 L1832.4,1281.6 L1833.2,1281.7 L1834.1,1281.8 L1834.9,1281.8 L1835.8,1281.7 L1836.6,1281.5 L1837.5,1281.4 L1838.3,1281.3 L1839.2,1281.3 L1840.0,1281.4 L1840.8,1281.5 L1841.7,1281.6 L1842.5,1281.8 L1843.4,1281.9 L1844.2,1281.9 L1845.1,1281.9 L1845.9,1281.9 L1846.8,1281.8 L1847.6,1281.7 L1848.5,1281.6 L1849.3,1281.6 L1850.2,1281.6 L1851.0,1281.6 L1851.9,1281.6 L1852.7,1281.7 L1853.6,1281.7 L1854.4,1281.7 L1855.3,1281.7 L1856.1,1281.6 L1857.0,1281.5 L1857.8,1281.4 L1858.6,1281.3 L1859.5,1281.3 L1860.3,1281.5 L1861.2,1281.7 L1862.0,1281.9 L1862.9,1282.2 L1863.7,1282.5 L1864.6,1282.6 L1865.4,1282.7 L1866.3,1282.7 L1867.1,1282.7 L1868.0,1282.7 L1868.8,1282.7 L1869.7,1282.7 L1870.5,1282.8 L1871.4,1283.0 L1872.2,1283.2 L1873.1,1283.4 L1873.9,1283.5 L1874.7,1283.6 L1875.6,1283.6 L1876.4,1283.5 L1877.3,1283.3 L1878.1,1283.2 L1879.0,1283.1 L1879.8,1283.1 L1880.7,1283.2 L1881.5,1283.3 L1882.4,1283.5 L1883.2,1283.7 L1884.1,1283.9 L1884.9,1284.0 L1885.8,1284.0 L1886.8,1283.9 L1887.8,1283.8 L1888.7,1283.7 L1889.4,1283.6 L1890.0,1283.5" fill="none" stroke="#1f9066" stroke-width="2.5" stroke-linejoin="round" stroke-linecap="round"/>
<path d="M1107.6,1271.6 L1108.8,1270.6 M1634.2,1257.3 L1636.8,1259.4 M1659.3,1281.5 L1660.2,1282.3" fill="none" stroke="#1f9a6b" stroke-width="2.5" stroke-linecap="round"/>
<path d="M1134.8,1055.5 L1135.2,1055.9 M1169.5,1217.3 L1170.9,1218.5 M1182.7,1237.6 L1184.5,1239.6 M1184.5,1239.6 L1186.4,1241.3 M1186.4,1241.3 L1188.2,1242.9 M1358.5,1251.9 L1359.4,1252.9 M1636.8,1259.4 L1639.8,1262.1 M1639.8,1262.1 L1643.2,1265.5 M1643.2,1265.5 L1646.8,1269.3 M1646.8,1269.3 L1650.4,1272.9 M1650.4,1272.9 L1653.5,1276.2 M1653.5,1276.2 L1656.1,1278.7 M1656.1,1278.7 L1657.9,1280.4 M1657.9,1280.4 L1659.3,1281.5" fill="none" stroke="#1f9a6b" stroke-width="3.0" stroke-linecap="round"/>
<path d="M1108.8,1270.6 L1109.9,1269.3 M1133.6,1056.1 L1134.0,1055.5 M1135.2,1055.9 L1135.6,1056.4 M1154.8,1207.0 L1156.4,1209.5 M1170.9,1218.5 L1172.3,1220.1 M1172.3,1220.1 L1173.7,1222.3 M1179.5,1233.3 L1181.0,1235.6 M1181.0,1235.6 L1182.7,1237.6 M1334.6,1192.9 L1335.5,1194.0 M1357.6,1250.7 L1358.5,1251.9" fill="none" stroke="#1f9a6b" stroke-width="3.5" stroke-linecap="round"/>
<path d="M1109.9,1269.3 L1110.9,1267.6 M1135.6,1056.4 L1136.0,1057.0 M1173.7,1222.3 L1175.1,1224.9 M1175.1,1224.9 L1176.5,1227.7 M1176.5,1227.7 L1178.0,1230.6 M1178.0,1230.6 L1179.5,1233.3 M1335.5,1194.0 L1336.5,1195.9 M1355.9,1247.3 L1356.8,1249.1 M1356.8,1249.1 L1357.6,1250.7" fill="none" stroke="#1f9a6b" stroke-width="4.0" stroke-linecap="round"/>
<path d="M1110.9,1267.6 L1111.8,1265.0 M1132.6,1059.0 L1133.1,1057.2 M1133.1,1057.2 L1133.6,1056.1 M1136.0,1057.0 L1136.3,1057.9 M1153.3,1202.8 L1154.8,1207.0 M1336.5,1195.9 L1337.7,1198.8 M1337.7,1198.8 L1339.1,1202.5 M1339.1,1202.5 L1340.6,1206.8 M1340.6,1206.8 L1342.1,1211.4 M1342.1,1211.4 L1343.6,1215.9 M1343.6,1215.9 L1345.1,1220.1 M1345.1,1220.1 L1346.6,1224.1 M1346.6,1224.1 L1348.1,1228.1 M1348.1,1228.1 L1349.6,1232.2 M1349.6,1232.2 L1351.1,1236.0 M1351.1,1236.0 L1352.5,1239.5 M1352.5,1239.5 L1353.8,1242.5 M1353.8,1242.5 L1354.9,1245.1 M1354.9,1245.1 L1355.9,1247.3" fill="none" stroke="#1f9a6b" stroke-width="4.5" stroke-linecap="round"/>
<path d="M1111.8,1265.0 L1112.6,1261.8 M1112.6,1261.8 L1113.3,1258.1 M1113.3,1258.1 L1113.8,1253.9 M1113.8,1253.9 L1114.3,1249.1 M1114.3,1249.1 L1114.8,1243.6 M1114.8,1243.6 L1115.3,1237.4 M1115.3,1237.4 L1115.8,1230.2 M1115.8,1230.2 L1116.2,1221.9 M1116.2,1221.9 L1116.5,1213.0 M1116.5,1213.0 L1116.9,1203.7 M1116.9,1203.7 L1117.4,1194.4 M1117.4,1194.4 L1117.9,1185.5 M1117.9,1185.5 L1118.5,1176.9 M1118.5,1176.9 L1119.1,1168.2 M1119.1,1168.2 L1119.8,1159.6 M1119.8,1159.6 L1120.6,1151.0 M1120.6,1151.0 L1121.4,1142.3 M1121.4,1142.3 L1122.2,1133.7 M1122.2,1133.7 L1123.1,1124.7 M1123.1,1124.7 L1124.2,1115.3 M1124.2,1115.3 L1125.2,1105.9 M1125.2,1105.9 L1126.3,1096.9 M1126.3,1096.9 L1127.4,1088.8 M1127.4,1088.8 L1128.3,1081.8 M1128.3,1081.8 L1129.1,1076.1 M1129.1,1076.1 L1129.9,1071.3 M1129.9,1071.3 L1130.7,1067.3 M1130.7,1067.3 L1131.4,1064.1 M1131.4,1064.1 L1132.0,1061.3 M1132.0,1061.3 L1132.6,1059.0 M1136.3,1057.9 L1136.7,1059.4 M1136.7,1059.4 L1137.2,1061.5 M1137.2,1061.5 L1137.8,1064.6 M1137.8,1064.6 L1138.5,1068.7 M1138.5,1068.7 L1139.3,1073.5 M1139.3,1073.5 L1140.2,1079.1 M1140.2,1079.1 L1141.1,1085.4 M1141.1,1085.4 L1142.0,1092.0 M1142.0,1092.0 L1142.9,1099.1 M1142.9,1099.1 L1143.8,1106.7 M1143.8,1106.7 L1144.6,1115.1 M1144.6,1115.1 L1145.5,1124.0 M1145.5,1124.0 L1146.4,1133.1 M1146.4,1133.1 L1147.2,1142.2 M1147.2,1142.2 L1148.1,1151.0 M1148.1,1151.0 L1148.9,1160.1 M1148.9,1160.1 L1149.6,1169.8 M1149.6,1169.8 L1150.4,1179.5 M1150.4,1179.5 L1151.2,1188.6 M1151.2,1188.6 L1152.1,1196.6 M1152.1,1196.6 L1153.3,1202.8" fill="none" stroke="#1f9a6b" stroke-width="5.0" stroke-linecap="round"/>
<path d="M357.3,1715.0 L357.8,1715.0 L358.6,1714.9 L359.5,1714.8 L360.5,1714.7 L361.4,1714.6 L362.3,1714.6 L363.2,1714.7 L364.0,1714.7 L364.9,1714.8 L365.7,1714.9 L366.5,1715.0 L367.4,1715.0 L368.2,1715.0 L369.1,1714.8 L369.9,1714.7 L370.7,1714.5 L371.6,1714.5 L372.4,1714.5 L373.3,1714.8 L374.1,1715.2 L374.9,1715.7 L375.8,1716.1 L376.6,1716.5 L377.5,1716.8 L378.3,1716.8 L379.1,1716.7 L380.0,1716.5 L380.8,1716.3 L381.6,1716.1 L382.5,1716.0 L383.3,1715.9 L384.2,1715.8 L385.0,1715.8 L385.8,1715.8 L386.7,1715.7 L387.5,1715.7 L388.4,1715.6 L389.2,1715.5 L390.0,1715.3 L390.9,1715.2 L391.7,1715.1 L392.6,1715.1 L393.4,1715.2 L394.2,1715.3 L395.1,1715.5 L395.9,1715.6 L396.7,1715.8 L397.6,1715.8 L398.5,1715.7 L399.3,1715.5 L400.2,1715.3 L401.1,1715.1 L402.0,1714.9 L402.8,1714.9 L403.7,1715.1 L404.6,1715.5 L405.5,1715.9 L406.3,1716.4 L407.2,1716.7 L408.1,1717.0 L408.9,1717.0 L409.8,1717.0 L410.7,1716.9 L411.6,1716.8 L412.4,1716.6 L413.3,1716.5 L414.2,1716.4 L415.1,1716.2 L415.9,1716.0 L416.8,1715.8 L417.7,1715.7 L418.5,1715.7 L419.4,1715.8 L420.3,1716.0 L421.2,1716.2 L422.0,1716.5 L422.9,1716.7 L423.8,1716.8 L424.7,1716.9 L425.5,1716.9 L426.4,1716.9 L427.3,1716.9 L428.1,1716.9 L429.0,1716.8 L429.9,1716.8 L430.8,1716.7 L431.6,1716.6 L432.5,1716.5 L433.4,1716.4 L434.3,1716.4 L435.1,1716.3 L436.0,1716.3 L436.9,1716.3 L437.7,1716.3 L438.6,1716.3 L439.5,1716.2 L440.4,1716.2 L441.2,1716.2 L442.1,1716.1 L443.0,1716.1 L443.9,1716.2 L444.7,1716.2 L445.6,1716.4 L446.5,1716.7 L447.3,1717.1 L448.2,1717.4 L449.1,1717.7 L450.0,1717.8 L450.8,1717.7 L451.7,1717.5 L452.6,1717.2 L453.5,1716.9 L454.3,1716.6 L455.2,1716.4 L456.1,1716.3 L456.9,1716.2 L457.8,1716.2 L458.7,1716.2 L459.6,1716.2 L460.4,1716.2 L461.3,1716.3 L462.2,1716.3 L463.1,1716.4 L463.9,1716.5 L464.8,1716.5 L465.7,1716.6 L466.5,1716.7 L467.4,1716.8 L468.3,1716.8 L469.2,1716.9 L470.0,1716.9 L470.9,1716.8 L471.8,1716.7 L472.7,1716.4 L473.5,1716.1 L474.4,1715.8 L475.3,1715.5 L476.1,1715.4 L477.0,1715.3 L477.9,1715.3 L478.8,1715.3 L479.6,1715.3 L480.5,1715.3 L481.4,1715.3 L482.3,1715.1 L483.1,1714.9 L484.0,1714.7 L484.9,1714.4 L485.7,1714.3 L486.6,1714.2 L487.5,1714.3 L488.4,1714.5 L489.2,1714.7 L490.1,1714.9 L491.0,1715.1 L491.9,1715.1 L492.7,1715.0 L493.6,1714.7 L494.5,1714.3 L495.3,1714.0 L496.2,1713.7 L497.1,1713.5 L498.0,1713.4 L498.8,1713.4 L499.7,1713.4 L500.6,1713.5 L501.5,1713.6 L502.3,1713.6 L503.2,1713.7 L504.1,1713.7 L504.9,1713.7 L505.8,1713.7 L506.7,1713.7 L507.6,1713.7 L508.4,1713.7 L509.3,1713.6 L510.1,1713.6 L511.0,1713.5 L511.9,1713.5 L512.8,1713.5 L513.7,1713.5 L514.7,1713.6 L515.6,1713.7 L516.6,1713.8 L517.6,1713.8 L518.6,1713.7 L519.5,1713.5 L520.5,1713.2 L521.4,1712.9 L522.4,1712.5 L523.4,1712.2 L524.3,1712.0 L525.3,1711.9 L526.2,1711.8 L527.2,1711.8 L528.2,1711.8 L529.1,1711.8 L530.1,1711.7 L531.0,1711.5 L532.0,1711.3 L533.0,1711.0 L533.9,1710.7 L534.9,1710.5 L535.8,1710.3 L536.8,1710.2 L537.8,1710.1 L538.7,1710.1 L539.7,1710.1 L540.6,1710.1 L541.6,1710.1 L542.6,1710.1 L543.5,1710.1 L544.5,1710.2 L545.4,1710.2 L546.4,1710.3 L547.4,1710.5 L548.3,1710.7 L549.3,1711.0 L550.2,1711.4 L551.2,1711.8 L552.2,1712.0 L553.1,1712.2 L554.1,1712.2 L555.0,1712.0 L556.0,1711.8 L557.0,1711.5 L557.9,1711.4 L558.9,1711.4 L559.8,1711.5 L560.8,1711.9 L561.8,1712.3 L562.7,1712.7 L563.7,1713.0 L564.6,1713.3 L565.6,1713.4 L566.6,1713.5 L567.5,1713.5 L568.5,1713.5 L569.4,1713.5 L570.4,1713.5 L571.4,1713.5 L572.3,1713.5 L573.3,1713.5 L574.2,1713.5 L575.2,1713.6 L576.2,1713.6 L577.1,1713.7 L578.1,1713.7 L579.0,1713.8 L580.0,1713.9 L581.0,1714.0 L581.9,1714.1 L582.9,1714.1 L583.8,1714.1 L584.8,1714.1 L585.8,1714.1 L586.7,1714.2 L587.7,1714.4 L588.6,1714.8 L589.6,1715.3 L590.6,1715.8 L591.5,1716.4 L592.5,1716.8 L593.4,1717.1 L594.4,1717.2 L595.4,1717.1 L596.4,1716.9 L597.3,1716.6 L598.3,1716.5 L599.2,1716.4 L600.1,1716.5 L601.0,1716.7 L601.9,1716.9 L602.7,1717.1 L603.6,1717.3 L604.4,1717.3 L605.3,1717.1 L606.2,1716.8 L607.1,1716.4 L607.9,1716.1 L608.8,1715.8 L609.7,1715.8 L610.5,1716.0 L611.4,1716.5 L612.3,1717.1 L613.2,1717.6 L614.0,1718.1 L614.9,1718.3 L615.8,1718.2 L616.7,1718.0 L617.5,1717.6 L618.4,1717.1 L619.3,1716.8 L620.1,1716.6 L621.0,1716.6 L621.9,1716.8 L622.8,1717.0 L623.6,1717.2 L624.5,1717.3 L625.4,1717.4 L626.3,1717.4 L627.1,1717.3 L628.0,1717.1 L628.9,1717.0 L629.7,1716.9 L630.6,1716.8 L631.5,1716.8 L632.4,1716.9 L633.2,1717.0 L634.1,1717.1 L635.0,1717.1 L635.9,1717.2 L636.7,1717.2 L637.6,1717.2 L638.5,1717.1 L639.3,1717.1 L640.2,1717.0 L641.1,1717.0 L642.0,1717.1 L642.8,1717.1 L643.7,1717.2 L644.6,1717.2 L645.5,1717.2 L646.3,1717.2 L647.2,1717.2 L648.1,1717.1 L648.9,1717.0 L649.8,1716.9 L650.7,1716.8 L651.6,1716.9 L652.4,1716.9 L653.3,1717.1 L654.2,1717.3 L655.1,1717.5 L655.9,1717.6 L656.8,1717.8 L657.7,1717.9 L658.5,1718.1 L659.4,1718.3 L660.3,1718.4 L661.2,1718.5 L662.0,1718.5 L662.9,1718.4 L663.8,1718.3 L664.7,1718.1 L665.5,1717.9 L666.4,1717.8 L667.3,1717.8 L668.1,1718.0 L669.0,1718.2 L669.9,1718.6 L670.8,1718.9 L671.6,1719.1 L672.5,1719.2 L673.4,1719.2 L674.3,1719.0 L675.1,1718.7 L676.0,1718.5 L676.9,1718.2 L677.7,1718.0 L678.6,1717.9 L679.5,1717.9 L680.4,1717.8 L681.2,1717.8 L682.1,1717.9 L683.0,1718.0 L683.9,1718.1 L684.7,1718.4 L685.6,1718.7 L686.5,1718.9 L687.3,1719.2 L688.2,1719.3 L689.1,1719.2 L690.0,1719.1 L690.8,1718.9 L691.7,1718.6 L692.6,1718.4 L693.5,1718.3 L694.3,1718.3 L695.2,1718.3 L696.1,1718.3 L696.9,1718.4 L697.8,1718.5 L698.7,1718.5 L699.6,1718.5 L700.4,1718.6 L701.3,1718.6 L702.2,1718.6 L703.1,1718.7 L703.9,1718.8 L704.8,1719.0 L705.7,1719.3 L706.5,1719.6 L707.4,1719.8 L708.3,1720.1 L709.2,1720.2 L710.0,1720.2 L710.9,1720.2 L711.8,1720.1 L712.7,1720.0 L713.5,1719.9 L714.4,1719.9 L715.2,1720.0 L716.1,1720.2 L716.9,1720.4 L717.8,1720.6 L718.6,1720.8 L719.4,1720.8 L720.3,1720.8 L721.1,1720.5 L721.9,1720.3 L722.8,1720.0 L723.6,1719.8 L724.4,1719.6 L725.3,1719.5 L726.1,1719.4 L727.0,1719.3 L727.8,1719.3 L728.6,1719.3 L729.5,1719.3 L730.3,1719.2 L731.1,1719.2 L732.0,1719.2 L732.8,1719.2 L733.7,1719.3 L734.5,1719.4 L735.3,1719.6 L736.2,1719.9 L737.0,1720.2 L737.8,1720.5 L738.7,1720.7 L739.5,1720.8 L740.4,1720.8 L741.2,1720.5 L742.0,1720.2 L742.9,1719.9 L743.7,1719.6 L744.5,1719.5 L745.4,1719.4 L746.2,1719.5 L747.1,1719.6 L747.9,1719.8 L748.7,1719.9 L749.6,1719.9 L750.4,1719.9 L751.2,1719.8 L752.1,1719.8 L752.9,1719.7 L753.8,1719.6 L754.6,1719.6 L755.4,1719.6 L756.3,1719.6 L757.1,1719.6 L757.9,1719.7 L758.8,1719.7 L759.6,1719.9 L760.5,1720.1 L761.3,1720.3 L762.1,1720.6 L763.0,1720.9 L763.8,1721.2 L764.6,1721.4 L765.5,1721.5 L766.3,1721.5 L767.2,1721.5 L768.0,1721.5 L768.8,1721.5 L769.7,1721.5 L770.5,1721.5 L771.3,1721.5 L772.2,1721.5 L773.0,1721.5 L773.9,1721.4 L774.7,1721.4 L775.5,1721.5 L776.4,1721.5 L777.2,1721.6 L778.0,1721.7 L778.9,1721.7 L779.7,1721.7 L780.5,1721.6 L781.4,1721.5 L782.2,1721.4 L783.1,1721.2 L783.9,1721.0 L784.7,1720.8 L785.6,1720.7 L786.4,1720.4 L787.2,1720.2 L788.1,1720.0 L788.9,1719.9 L789.8,1720.0 L790.6,1720.2 L791.4,1720.7 L792.3,1721.2 L793.1,1721.7 L793.9,1722.1 L794.8,1722.3 L795.6,1722.2 L796.5,1722.0 L797.3,1721.6 L798.1,1721.2 L799.0,1720.9 L799.8,1720.8 L800.6,1720.8 L801.5,1720.9 L802.3,1721.1 L803.2,1721.3 L804.0,1721.5 L804.8,1721.7 L805.7,1721.7 L806.5,1721.8 L807.3,1721.8 L808.2,1721.8 L809.0,1721.8 L809.9,1721.8 L810.7,1721.7 L811.5,1721.7 L812.4,1721.7 L813.2,1721.7 L814.0,1721.6 L814.9,1721.5 L815.7,1721.4 L816.6,1721.2 L817.4,1720.9 L818.2,1720.7 L819.1,1720.6 L819.9,1720.6 L820.7,1720.7 L821.6,1721.0 L822.4,1721.3 L823.3,1721.6 L824.1,1722.0 L824.9,1722.2 L825.8,1722.4 L826.6,1722.6 L827.4,1722.8 L828.3,1722.9 L829.1,1723.0 L830.0,1723.0 L830.8,1722.9 L831.6,1722.7 L832.5,1722.5 L833.3,1722.2 L834.1,1722.0 L835.0,1721.8 L835.8,1721.7 L836.7,1721.7 L837.5,1721.6 L838.3,1721.6 L839.2,1721.6 L840.0,1721.6 L840.8,1721.7 L841.7,1721.7 L842.5,1721.9 L843.3,1722.0 L844.2,1722.1 L845.0,1722.2 L845.8,1722.2 L846.7,1722.3 L847.5,1722.3 L848.3,1722.3 L849.2,1722.2 L850.0,1722.1 L850.8,1721.9 L851.7,1721.5 L852.5,1721.2 L853.3,1720.8 L854.2,1720.5 L855.0,1720.3 L855.8,1720.3 L856.7,1720.4 L857.5,1720.6 L858.3,1720.8 L859.2,1721.0 L860.0,1721.2 L860.8,1721.3 L861.7,1721.4 L862.5,1721.5 L863.3,1721.6 L864.2,1721.6 L865.0,1721.6 L865.8,1721.4 L866.7,1721.1 L867.5,1720.8 L868.3,1720.5 L869.2,1720.2 L870.0,1720.1 L870.8,1720.2 L871.7,1720.3 L872.5,1720.6 L873.3,1720.9 L874.2,1721.1 L875.0,1721.2 L875.8,1721.2 L876.7,1721.2 L877.5,1721.2 L878.3,1721.1 L879.2,1721.0 L880.0,1721.0 L880.8,1721.0 L881.7,1721.0 L882.5,1721.1 L883.3,1721.1 L884.2,1721.1 L885.0,1721.1 L885.8,1721.1 L886.7,1721.0 L887.5,1720.9 L888.3,1720.8 L889.2,1720.7 L890.0,1720.6 L890.8,1720.6 L891.7,1720.6 L892.5,1720.6 L893.3,1720.6 L894.2,1720.5 L895.0,1720.5 L895.8,1720.4 L896.7,1720.3 L897.5,1720.2 L898.3,1720.0 L899.2,1720.0 L900.0,1719.9 L900.8,1720.0 L901.7,1720.2 L902.5,1720.4 L903.3,1720.6 L904.2,1720.7 L905.0,1720.7 L905.8,1720.6 L906.7,1720.4 L907.5,1720.1 L908.3,1719.8 L909.2,1719.5 L910.0,1719.3 L910.8,1719.0 L911.7,1718.8 L912.5,1718.6 L913.3,1718.5 L914.2,1718.3 L915.0,1718.3 L915.8,1718.3 L916.7,1718.5 L917.5,1718.6 L918.3,1718.8 L919.2,1719.0 L920.0,1719.2 L920.8,1719.3 L921.7,1719.4 L922.5,1719.5 L923.3,1719.5 L924.2,1719.5 L925.0,1719.5 L925.8,1719.3 L926.7,1719.0 L927.5,1718.7 L928.3,1718.4 L929.2,1718.1 L930.0,1718.0 L930.8,1718.1 L931.7,1718.3 L932.5,1718.5 L933.3,1718.8 L934.2,1719.0 L935.0,1719.0 L935.8,1718.7 L936.7,1718.3 L937.5,1717.8 L938.3,1717.3 L939.2,1716.9 L940.0,1716.7 L940.8,1716.9 L941.7,1717.2 L942.5,1717.7 L943.3,1718.1 L944.2,1718.5 L945.0,1718.8 L945.8,1718.8 L946.7,1718.7 L947.5,1718.5 L948.3,1718.3 L949.2,1718.1 L950.0,1718.0 L950.8,1717.9 L951.7,1717.9 L952.5,1717.9 L953.3,1717.9 L954.2,1717.9 L955.0,1717.9 L955.8,1718.0 L956.7,1718.0 L957.5,1718.1 L958.3,1718.2 L959.2,1718.2 L960.0,1718.2 L960.8,1718.1 L961.7,1717.8 L962.5,1717.6 L963.3,1717.3 L964.2,1717.1 L965.0,1717.0 L965.8,1717.1 L966.7,1717.3 L967.5,1717.6 L968.3,1717.9 L969.2,1718.1 L970.0,1718.2 L970.8,1718.0 L971.7,1717.7 L972.5,1717.3 L973.3,1716.9 L974.2,1716.6 L975.0,1716.5 L975.8,1716.5 L976.7,1716.8 L977.5,1717.1 L978.3,1717.4 L979.2,1717.6 L980.0,1717.7 L980.8,1717.6 L981.7,1717.5 L982.5,1717.2 L983.3,1717.0 L984.2,1716.8 L985.0,1716.6 L985.8,1716.6 L986.7,1716.7 L987.5,1716.8 L988.3,1717.0 L989.2,1717.1 L990.0,1717.2 L990.8,1717.2 L991.7,1717.3 L992.5,1717.3 L993.3,1717.3 L994.2,1717.3 L995.0,1717.2 L995.8,1717.0 L996.7,1716.8 L997.5,1716.5 L998.3,1716.1 L999.2,1715.9 L1000.0,1715.7 L1000.8,1715.7 L1001.7,1715.7 L1002.5,1715.8 L1003.3,1715.9 L1004.2,1716.0 L1005.0,1715.9 L1005.8,1715.8 L1006.7,1715.7 L1007.5,1715.4 L1008.3,1715.2 L1009.2,1715.1 L1010.0,1715.0 L1010.8,1714.9 L1011.7,1715.0 L1012.5,1715.0 L1013.3,1715.1 L1014.2,1715.2 L1015.0,1715.3 L1015.8,1715.4 L1016.7,1715.4 L1017.5,1715.5 L1018.3,1715.6 L1019.2,1715.7 L1020.0,1715.7 L1020.8,1715.7 L1021.7,1715.7 L1022.5,1715.7 L1023.3,1715.7 L1024.2,1715.7 L1025.0,1715.7 L1025.8,1715.7 L1026.7,1715.7 L1027.5,1715.8 L1028.3,1715.8 L1029.2,1715.8 L1030.0,1715.8 L1030.8,1715.7 L1031.7,1715.5 L1032.5,1715.3 L1033.3,1715.1 L1034.2,1715.0 L1035.0,1714.9 L1035.8,1714.8 L1036.7,1714.9 L1037.5,1714.9 L1038.3,1715.0 L1039.2,1715.0 L1040.0,1715.0 L1040.8,1715.0 L1041.7,1715.0 L1042.5,1715.0 L1043.3,1715.0 L1044.2,1714.9 L1045.0,1714.9 L1045.8,1714.7 L1046.7,1714.6 L1047.5,1714.4 L1048.3,1714.2 L1049.2,1714.0 L1050.0,1713.9 L1050.8,1713.9 L1051.7,1713.9 L1052.5,1713.9 L1053.3,1714.0 L1054.2,1714.0 L1055.0,1714.1 L1055.8,1714.1 L1056.6,1714.2 L1057.5,1714.2 L1058.3,1714.3 L1059.1,1714.3 L1060.0,1714.4 L1060.9,1714.5 L1061.8,1714.7 L1062.7,1714.9 L1063.6,1715.1 L1064.6,1715.2 L1065.5,1715.3 L1066.4,1715.3 L1067.3,1715.2 L1068.2,1715.1 L1069.1,1715.0 L1070.0,1714.8 L1070.9,1714.7 L1071.8,1714.6 L1072.8,1714.4 L1073.7,1714.2 L1074.6,1714.0 L1075.5,1713.9 L1076.4,1713.8 L1077.3,1713.8 L1078.2,1713.9 L1079.1,1714.0 L1080.0,1714.2 L1081.0,1714.3 L1081.9,1714.3 L1082.8,1714.3 L1083.7,1714.2 L1084.6,1714.0 L1085.5,1713.9 L1086.4,1713.8 L1087.3,1713.8 L1088.2,1713.9 L1089.0,1714.3 L1089.9,1714.6 L1090.7,1714.9 L1091.7,1714.9 L1092.8,1714.4 L1094.1,1713.6 L1095.6,1712.5 L1097.1,1711.1 L1098.7,1709.4 L1100.2,1707.4 L1101.5,1704.9 L1102.7,1702.0 L1103.8,1698.8 L1104.8,1695.2 L1105.7,1691.3 L1106.6,1687.0 L1107.5,1682.4 L1108.3,1677.4 L1109.0,1672.1 L1109.7,1666.4 L1110.4,1660.4 L1111.1,1654.2 L1111.8,1647.8 L1112.6,1641.1 L1113.5,1634.0 L1114.3,1626.7 L1115.2,1619.3 L1116.1,1611.9 L1117.0,1604.6 L1117.9,1597.5 L1118.7,1590.5 L1119.6,1583.5 L1120.5,1576.4 L1121.3,1569.1 L1122.2,1561.4 L1123.1,1553.3 L1123.9,1544.8 L1124.8,1536.0 L1125.7,1527.2 L1126.5,1518.3 L1127.4,1509.6 L1128.3,1500.8 L1129.2,1491.7 L1130.1,1482.6 L1130.9,1473.8 L1131.8,1465.4 L1132.6,1457.8 L1133.4,1450.8 L1134.1,1444.4 L1134.9,1438.3 L1135.6,1432.8 L1136.2,1427.8 L1136.9,1423.2 L1137.5,1418.9 L1138.1,1414.9 L1138.7,1411.3 L1139.2,1408.5 L1139.8,1406.6 L1140.4,1405.9 L1141.1,1406.3 L1141.8,1407.5 L1142.6,1409.7 L1143.4,1413.0 L1144.1,1417.4 L1144.7,1423.2 L1145.2,1430.9 L1145.7,1440.5 L1146.2,1451.3 L1146.6,1462.6 L1146.9,1473.6 L1147.3,1483.7 L1147.6,1492.9 L1147.9,1501.9 L1148.1,1510.7 L1148.4,1519.2 L1148.7,1527.5 L1149.0,1535.5 L1149.4,1543.2 L1149.7,1550.5 L1150.1,1557.6 L1150.5,1564.6 L1151.0,1571.6 L1151.6,1578.7 L1152.3,1586.1 L1153.1,1593.7 L1153.9,1601.3 L1154.8,1608.6 L1155.8,1615.6 L1156.8,1621.9 L1157.8,1627.6 L1158.8,1632.8 L1159.9,1637.6 L1161.1,1642.0 L1162.3,1646.0 L1163.7,1649.6 L1165.3,1652.8 L1167.0,1655.7 L1168.9,1658.1 L1170.8,1660.2 L1172.5,1661.9 L1174.0,1663.4 L1175.2,1664.5 L1176.3,1665.0 L1177.2,1665.3 L1178.0,1665.4 L1178.9,1665.5 L1179.8,1665.6 L1180.7,1665.9 L1181.7,1666.1 L1182.7,1666.2 L1183.6,1666.4 L1184.6,1666.5 L1185.5,1666.8 L1186.5,1667.0 L1187.5,1667.4 L1188.5,1667.7 L1189.4,1668.1 L1190.4,1668.4 L1191.3,1668.6 L1192.2,1668.7 L1193.1,1668.8 L1193.9,1668.8 L1194.8,1668.8 L1195.6,1668.8 L1196.5,1668.8 L1197.4,1668.7 L1198.2,1668.7 L1199.1,1668.6 L1200.0,1668.5 L1200.8,1668.4 L1201.7,1668.3 L1202.3,1668.3 L1202.7,1668.4 L1203.0,1668.6 L1203.6,1668.6 L1204.8,1668.3 L1206.9,1667.7 L1210.0,1666.6 L1214.0,1665.2 L1218.6,1663.6 L1223.4,1661.8 L1228.2,1659.9 L1232.8,1658.2 L1237.3,1656.5 L1241.9,1654.6 L1246.5,1652.7 L1251.0,1650.9 L1255.1,1649.2 L1258.7,1647.8 L1261.8,1646.6 L1264.5,1645.6 L1266.8,1644.7 L1268.9,1643.9 L1270.8,1643.3 L1272.5,1642.7 L1274.0,1642.3 L1275.1,1642.0 L1276.0,1641.8 L1276.8,1641.6 L1277.6,1641.6 L1278.5,1641.5 L1279.5,1641.4 L1280.5,1641.3 L1281.5,1641.2 L1282.5,1641.2 L1283.5,1641.4 L1284.6,1641.8 L1285.7,1642.4 L1286.9,1643.0 L1288.0,1643.8 L1289.2,1644.9 L1290.4,1646.2 L1291.6,1647.8 L1292.8,1649.8 L1293.9,1652.2 L1295.1,1654.9 L1296.2,1657.7 L1297.4,1660.6 L1298.5,1663.4 L1299.6,1666.3 L1300.7,1669.4 L1301.8,1672.5 L1303.0,1675.5 L1304.2,1678.3 L1305.4,1680.7 L1306.8,1682.7 L1308.2,1684.5 L1309.7,1686.0 L1311.2,1687.3 L1312.6,1688.4 L1314.0,1689.3 L1315.2,1690.0 L1316.4,1690.3 L1317.6,1690.5 L1318.7,1690.6 L1319.8,1690.6 L1320.9,1690.7 L1322.0,1690.9 L1323.1,1691.0 L1324.2,1691.2 L1325.4,1691.2 L1326.5,1691.2 L1327.8,1691.0 L1329.2,1690.6 L1330.7,1690.0 L1332.2,1689.2 L1333.8,1688.5 L1335.2,1687.9 L1336.5,1687.6 L1337.6,1687.6 L1338.6,1687.8 L1339.5,1688.2 L1340.4,1688.6 L1341.3,1688.9 L1342.2,1689.2 L1343.2,1689.3 L1344.1,1689.3 L1345.1,1689.3 L1346.0,1689.3 L1347.0,1689.4 L1348.0,1689.4 L1348.9,1689.6 L1349.9,1689.7 L1350.8,1689.9 L1351.8,1690.1 L1352.7,1690.2 L1353.7,1690.4 L1354.6,1690.5 L1355.6,1690.7 L1356.5,1690.9 L1357.4,1691.0 L1358.4,1691.1 L1359.4,1691.0 L1360.4,1690.8 L1361.5,1690.4 L1362.6,1690.0 L1363.7,1689.6 L1364.8,1689.1 L1365.8,1688.7 L1366.9,1688.4 L1368.0,1688.1 L1369.1,1687.8 L1370.2,1687.6 L1371.3,1687.3 L1372.3,1687.1 L1373.3,1686.9 L1374.2,1686.7 L1375.1,1686.6 L1375.9,1686.4 L1376.8,1686.3 L1377.7,1686.3 L1378.6,1686.2 L1379.5,1686.2 L1380.4,1686.3 L1381.3,1686.3 L1382.2,1686.3 L1383.0,1686.3 L1383.9,1686.1 L1384.8,1685.9 L1385.7,1685.7 L1386.6,1685.5 L1387.5,1685.4 L1388.4,1685.4 L1389.3,1685.6 L1390.2,1686.0 L1391.1,1686.5 L1392.0,1686.9 L1392.9,1687.3 L1393.8,1687.5 L1394.7,1687.5 L1395.6,1687.4 L1396.5,1687.3 L1397.4,1687.1 L1398.3,1686.9 L1399.2,1686.7 L1400.1,1686.7 L1401.0,1686.6 L1401.9,1686.5 L1402.8,1686.5 L1403.7,1686.4 L1404.5,1686.3 L1405.4,1686.2 L1406.3,1686.0 L1407.2,1685.8 L1408.1,1685.7 L1409.0,1685.5 L1409.9,1685.4 L1410.8,1685.3 L1411.7,1685.3 L1412.6,1685.2 L1413.5,1685.2 L1414.4,1685.2 L1415.3,1685.2 L1416.2,1685.3 L1417.1,1685.4 L1418.0,1685.5 L1418.9,1685.6 L1419.8,1685.6 L1420.7,1685.5 L1421.6,1685.3 L1422.5,1685.0 L1423.4,1684.6 L1424.3,1684.2 L1425.2,1683.9 L1426.0,1683.7 L1426.9,1683.8 L1427.8,1683.9 L1428.7,1684.2 L1429.6,1684.4 L1430.5,1684.6 L1431.4,1684.7 L1432.3,1684.7 L1433.1,1684.7 L1433.8,1684.6 L1434.7,1684.5 L1435.7,1684.2 L1436.8,1683.9 L1438.2,1683.4 L1439.9,1682.6 L1441.7,1681.8 L1443.4,1681.0 L1445.1,1680.4 L1446.5,1680.0 L1447.6,1680.0 L1448.6,1680.2 L1449.5,1680.6 L1450.2,1681.0 L1451.0,1681.4 L1451.9,1681.7 L1452.8,1681.8 L1453.7,1681.8 L1454.5,1681.8 L1455.4,1681.8 L1456.3,1681.8 L1457.2,1682.0 L1458.1,1682.2 L1459.0,1682.6 L1459.9,1683.0 L1460.8,1683.4 L1461.7,1683.7 L1462.6,1683.9 L1463.5,1683.9 L1464.5,1683.7 L1465.4,1683.4 L1466.4,1683.1 L1467.3,1682.9 L1468.2,1682.8 L1469.2,1682.8 L1470.1,1682.9 L1471.1,1683.1 L1472.0,1683.2 L1473.0,1683.3 L1473.9,1683.2 L1474.8,1683.0 L1475.8,1682.5 L1476.7,1682.0 L1477.7,1681.5 L1478.6,1681.0 L1479.5,1680.6 L1480.5,1680.4 L1481.4,1680.3 L1482.4,1680.2 L1483.3,1680.2 L1484.3,1680.1 L1485.2,1680.0 L1486.1,1679.8 L1487.0,1679.7 L1487.8,1679.5 L1488.7,1679.3 L1489.6,1679.2 L1490.4,1679.2 L1491.3,1679.3 L1492.2,1679.6 L1493.1,1680.0 L1493.9,1680.3 L1494.8,1680.5 L1495.7,1680.6 L1496.5,1680.4 L1497.4,1680.0 L1498.3,1679.5 L1499.2,1679.0 L1500.0,1678.5 L1500.9,1678.2 L1501.8,1678.2 L1502.7,1678.2 L1503.5,1678.3 L1504.4,1678.4 L1505.3,1678.5 L1506.2,1678.5 L1507.0,1678.3 L1507.9,1678.2 L1508.8,1677.9 L1509.6,1677.7 L1510.5,1677.4 L1511.4,1677.2 L1512.3,1677.0 L1513.1,1676.8 L1514.0,1676.6 L1514.9,1676.5 L1515.8,1676.4 L1516.6,1676.3 L1517.5,1676.3 L1518.4,1676.4 L1519.2,1676.5 L1520.1,1676.6 L1521.0,1676.7 L1521.9,1676.7 L1522.7,1676.6 L1523.4,1676.6 L1524.2,1676.5 L1525.0,1676.3 L1526.0,1676.1 L1527.1,1675.8 L1528.5,1675.4 L1530.1,1674.7 L1531.9,1674.1 L1533.6,1673.4 L1535.3,1672.9 L1536.8,1672.6 L1538.1,1672.5 L1539.2,1672.6 L1540.2,1672.9 L1541.2,1673.1 L1542.2,1673.5 L1543.2,1673.8 L1544.3,1674.1 L1545.4,1674.4 L1546.5,1674.8 L1547.6,1675.2 L1548.7,1675.5 L1549.7,1675.8 L1550.7,1676.0 L1551.6,1676.2 L1552.5,1676.4 L1553.3,1676.5 L1554.2,1676.6 L1555.1,1676.6 L1556.0,1676.4 L1556.9,1676.2 L1557.8,1675.8 L1558.6,1675.6 L1559.5,1675.4 L1560.4,1675.5 L1561.3,1675.8 L1562.2,1676.5 L1563.1,1677.2 L1564.0,1678.0 L1564.9,1678.6 L1565.8,1679.0 L1566.7,1679.1 L1567.6,1679.0 L1568.5,1678.8 L1569.4,1678.5 L1570.3,1678.3 L1571.2,1678.1 L1572.1,1678.0 L1573.0,1677.9 L1573.8,1677.8 L1574.7,1677.7 L1575.6,1677.7 L1576.5,1677.7 L1577.1,1677.7 L1577.3,1677.5 L1577.5,1677.4 L1578.1,1677.5 L1579.4,1678.0 L1581.9,1679.0 L1585.9,1680.7 L1591.3,1683.0 L1597.4,1685.6 L1603.6,1688.4 L1609.4,1691.1 L1614.2,1693.5 L1617.8,1695.6 L1620.8,1697.5 L1623.3,1699.4 L1625.5,1701.2 L1627.8,1703.0 L1630.3,1704.8 L1633.1,1706.8 L1636.1,1709.0 L1639.1,1711.2 L1641.9,1713.2 L1644.4,1714.9 L1646.5,1716.1 L1648.0,1716.7 L1649.1,1716.8 L1649.9,1716.6 L1650.5,1716.3 L1651.1,1716.0 L1651.9,1716.1 L1652.8,1716.4 L1653.7,1717.0 L1654.6,1717.6 L1655.4,1718.2 L1656.3,1718.8 L1657.2,1719.1 L1658.1,1719.2 L1659.0,1719.3 L1659.9,1719.2 L1660.8,1719.0 L1661.7,1718.9 L1662.6,1718.7 L1663.5,1718.5 L1664.4,1718.3 L1665.3,1718.1 L1666.2,1717.8 L1667.1,1717.6 L1668.0,1717.4 L1668.9,1717.2 L1669.8,1717.1 L1670.7,1717.0 L1671.5,1716.9 L1672.4,1716.8 L1673.3,1716.6 L1674.2,1716.5 L1675.1,1716.2 L1676.0,1716.0 L1676.9,1715.8 L1677.8,1715.6 L1678.7,1715.5 L1679.6,1715.5 L1680.5,1715.6 L1681.4,1715.8 L1682.3,1716.0 L1683.2,1716.1 L1684.1,1716.2 L1685.0,1716.3 L1685.9,1716.3 L1686.8,1716.3 L1687.6,1716.2 L1688.5,1716.1 L1689.4,1716.0 L1690.3,1715.8 L1691.2,1715.6 L1692.1,1715.3 L1693.0,1714.9 L1693.9,1714.7 L1694.8,1714.5 L1695.7,1714.4 L1696.6,1714.4 L1697.5,1714.4 L1698.4,1714.5 L1699.3,1714.5 L1700.2,1714.5 L1701.1,1714.4 L1702.0,1714.2 L1702.9,1714.0 L1703.8,1713.8 L1704.7,1713.7 L1705.6,1713.6 L1706.5,1713.6 L1707.4,1713.7 L1708.3,1713.8 L1709.2,1713.9 L1710.1,1713.9 L1711.0,1713.9 L1711.8,1713.8 L1712.7,1713.6 L1713.6,1713.3 L1714.5,1713.1 L1715.4,1712.9 L1716.3,1712.7 L1717.2,1712.7 L1718.1,1712.8 L1719.0,1712.9 L1719.9,1713.1 L1720.8,1713.2 L1721.7,1713.4 L1722.6,1713.6 L1723.5,1713.8 L1724.4,1714.1 L1725.3,1714.3 L1726.2,1714.5 L1727.1,1714.7 L1728.0,1714.7 L1728.9,1714.7 L1729.8,1714.6 L1730.7,1714.5 L1731.6,1714.4 L1732.5,1714.4 L1733.4,1714.5 L1734.3,1714.6 L1735.2,1714.8 L1736.1,1715.0 L1737.0,1715.0 L1737.9,1715.1 L1738.8,1714.9 L1739.7,1714.7 L1740.6,1714.5 L1741.5,1714.2 L1742.4,1714.0 L1743.2,1713.9 L1744.1,1713.8 L1745.0,1713.8 L1745.9,1713.9 L1746.8,1714.0 L1747.7,1714.1 L1748.6,1714.1 L1749.5,1714.0 L1750.4,1713.9 L1751.3,1713.8 L1752.2,1713.7 L1753.1,1713.7 L1754.0,1713.6 L1754.9,1713.5 L1755.8,1713.5 L1756.7,1713.4 L1757.6,1713.4 L1758.5,1713.4 L1759.4,1713.5 L1760.3,1713.7 L1761.2,1713.9 L1762.1,1714.2 L1763.0,1714.5 L1763.9,1714.7 L1764.8,1714.8 L1765.7,1714.8 L1766.6,1714.6 L1767.5,1714.4 L1768.3,1714.2 L1769.2,1714.1 L1770.1,1714.1 L1771.0,1714.3 L1771.9,1714.7 L1772.8,1715.2 L1773.7,1715.6 L1774.6,1716.0 L1775.5,1716.3 L1776.4,1716.4 L1777.3,1716.3 L1778.2,1716.2 L1779.1,1716.1 L1780.0,1716.1 L1780.9,1716.1 L1781.8,1716.3 L1782.7,1716.5 L1783.6,1716.9 L1784.4,1717.2 L1785.3,1717.5 L1786.2,1717.7 L1787.1,1717.7 L1788.0,1717.8 L1788.9,1717.8 L1789.8,1717.8 L1790.7,1717.7 L1791.6,1717.7 L1792.5,1717.7 L1793.3,1717.7 L1794.2,1717.7 L1795.1,1717.7 L1795.9,1717.6 L1796.8,1717.5 L1797.6,1717.3 L1798.5,1717.1 L1799.4,1716.8 L1800.2,1716.6 L1801.1,1716.3 L1802.0,1716.2 L1802.8,1716.1 L1803.7,1716.0 L1804.5,1716.0 L1805.4,1716.0 L1806.3,1716.1 L1807.1,1716.1 L1808.0,1716.2 L1808.9,1716.4 L1809.7,1716.5 L1810.6,1716.7 L1811.5,1716.9 L1812.3,1717.1 L1813.2,1717.4 L1814.0,1717.7 L1814.9,1718.1 L1815.8,1718.5 L1816.6,1718.7 L1817.5,1718.8 L1818.4,1718.7 L1819.2,1718.5 L1820.1,1718.1 L1820.9,1717.7 L1821.8,1717.4 L1822.7,1717.2 L1823.5,1717.2 L1824.4,1717.3 L1825.3,1717.4 L1826.1,1717.5 L1827.0,1717.6 L1827.9,1717.6 L1828.7,1717.5 L1829.6,1717.3 L1830.4,1717.0 L1831.3,1716.8 L1832.2,1716.6 L1833.0,1716.7 L1833.9,1716.9 L1834.8,1717.4 L1835.6,1718.0 L1836.5,1718.5 L1837.3,1719.0 L1838.2,1719.3 L1839.1,1719.5 L1839.9,1719.5 L1840.8,1719.5 L1841.7,1719.4 L1842.5,1719.2 L1843.4,1719.1 L1844.3,1718.8 L1845.1,1718.5 L1846.0,1718.1 L1846.8,1717.7 L1847.7,1717.5 L1848.6,1717.3 L1849.4,1717.3 L1850.3,1717.5 L1851.2,1717.8 L1852.0,1718.0 L1852.9,1718.2 L1853.7,1718.3 L1854.6,1718.2 L1855.5,1717.9 L1856.3,1717.6 L1857.2,1717.3 L1858.1,1717.1 L1858.9,1717.0 L1859.8,1717.1 L1860.7,1717.3 L1861.5,1717.7 L1862.4,1718.0 L1863.2,1718.3 L1864.1,1718.4 L1865.0,1718.5 L1865.8,1718.5 L1866.7,1718.4 L1867.6,1718.3 L1868.4,1718.2 L1869.3,1718.2 L1870.1,1718.1 L1871.0,1718.1 L1871.9,1718.0 L1872.7,1718.0 L1873.6,1717.9 L1874.5,1717.9 L1875.3,1717.9 L1876.2,1717.9 L1877.1,1717.9 L1877.9,1717.9 L1878.8,1717.9 L1879.6,1717.9 L1880.5,1718.0 L1881.4,1718.1 L1882.2,1718.2 L1883.1,1718.3 L1884.0,1718.3 L1884.8,1718.3 L1885.7,1718.3 L1886.7,1718.2 L1887.7,1718.0 L1888.7,1717.9 L1889.4,1717.8 L1890.0,1717.7" fill="none" stroke="#43349a" stroke-width="2.4" stroke-linejoin="round" stroke-linecap="round"/>
<path d="M1095.6,1712.5 L1097.1,1711.1 M1097.1,1711.1 L1098.7,1709.4 M1170.8,1660.2 L1172.5,1661.9 M1172.5,1661.9 L1174.0,1663.4 M1174.0,1663.4 L1175.2,1664.5 M1288.0,1643.8 L1289.2,1644.9 M1308.2,1684.5 L1309.7,1686.0 M1309.7,1686.0 L1311.2,1687.3" fill="none" stroke="#4a2ea0" stroke-width="3.0" stroke-linecap="round"/>
<path d="M1098.7,1709.4 L1100.2,1707.4 M1139.8,1406.6 L1140.4,1405.9 M1167.0,1655.7 L1168.9,1658.1 M1168.9,1658.1 L1170.8,1660.2 M1289.2,1644.9 L1290.4,1646.2 M1290.4,1646.2 L1291.6,1647.8 M1306.8,1682.7 L1308.2,1684.5" fill="none" stroke="#4a2ea0" stroke-width="3.5" stroke-linecap="round"/>
<path d="M1100.2,1707.4 L1101.5,1704.9 M1141.1,1406.3 L1141.8,1407.5 M1165.3,1652.8 L1167.0,1655.7 M1291.6,1647.8 L1292.8,1649.8 M1305.4,1680.7 L1306.8,1682.7" fill="none" stroke="#4a2ea0" stroke-width="4.0" stroke-linecap="round"/>
<path d="M1101.5,1704.9 L1102.7,1702.0 M1162.3,1646.0 L1163.7,1649.6 M1163.7,1649.6 L1165.3,1652.8 M1292.8,1649.8 L1293.9,1652.2 M1293.9,1652.2 L1295.1,1654.9 M1295.1,1654.9 L1296.2,1657.7 M1296.2,1657.7 L1297.4,1660.6 M1297.4,1660.6 L1298.5,1663.4 M1298.5,1663.4 L1299.6,1666.3 M1303.0,1675.5 L1304.2,1678.3 M1304.2,1678.3 L1305.4,1680.7" fill="none" stroke="#4a2ea0" stroke-width="4.5" stroke-linecap="round"/>
<path d="M1102.7,1702.0 L1103.8,1698.8 M1103.8,1698.8 L1104.8,1695.2 M1104.8,1695.2 L1105.7,1691.3 M1139.2,1408.5 L1139.8,1406.6 M1141.8,1407.5 L1142.6,1409.7 M1159.9,1637.6 L1161.1,1642.0 M1161.1,1642.0 L1162.3,1646.0 M1299.6,1666.3 L1300.7,1669.4 M1300.7,1669.4 L1301.8,1672.5 M1301.8,1672.5 L1303.0,1675.5" fill="none" stroke="#4a2ea0" stroke-width="5.0" stroke-linecap="round"/>
<path d="M1105.7,1691.3 L1106.6,1687.0 M1106.6,1687.0 L1107.5,1682.4 M1107.5,1682.4 L1108.3,1677.4 M1108.3,1677.4 L1109.0,1672.1 M1109.0,1672.1 L1109.7,1666.4 M1109.7,1666.4 L1110.4,1660.4 M1110.4,1660.4 L1111.1,1654.2 M1111.1,1654.2 L1111.8,1647.8 M1111.8,1647.8 L1112.6,1641.1 M1112.6,1641.1 L1113.5,1634.0 M1113.5,1634.0 L1114.3,1626.7 M1114.3,1626.7 L1115.2,1619.3 M1115.2,1619.3 L1116.1,1611.9 M1116.1,1611.9 L1117.0,1604.6 M1117.0,1604.6 L1117.9,1597.5 M1117.9,1597.5 L1118.7,1590.5 M1118.7,1590.5 L1119.6,1583.5 M1119.6,1583.5 L1120.5,1576.4 M1120.5,1576.4 L1121.3,1569.1 M1121.3,1569.1 L1122.2,1561.4 M1122.2,1561.4 L1123.1,1553.3 M1123.1,1553.3 L1123.9,1544.8 M1123.9,1544.8 L1124.8,1536.0 M1124.8,1536.0 L1125.7,1527.2 M1125.7,1527.2 L1126.5,1518.3 M1126.5,1518.3 L1127.4,1509.6 M1127.4,1509.6 L1128.3,1500.8 M1128.3,1500.8 L1129.2,1491.7 M1129.2,1491.7 L1130.1,1482.6 M1130.1,1482.6 L1130.9,1473.8 M1130.9,1473.8 L1131.8,1465.4 M1131.8,1465.4 L1132.6,1457.8 M1132.6,1457.8 L1133.4,1450.8 M1133.4,1450.8 L1134.1,1444.4 M1134.1,1444.4 L1134.9,1438.3 M1134.9,1438.3 L1135.6,1432.8 M1135.6,1432.8 L1136.2,1427.8 M1136.2,1427.8 L1136.9,1423.2 M1136.9,1423.2 L1137.5,1418.9 M1137.5,1418.9 L1138.1,1414.9 M1138.1,1414.9 L1138.7,1411.3 M1138.7,1411.3 L1139.2,1408.5 M1142.6,1409.7 L1143.4,1413.0 M1143.4,1413.0 L1144.1,1417.4 M1144.1,1417.4 L1144.7,1423.2 M1144.7,1423.2 L1145.2,1430.9 M1145.2,1430.9 L1145.7,1440.5 M1145.7,1440.5 L1146.2,1451.3 M1146.2,1451.3 L1146.6,1462.6 M1146.6,1462.6 L1146.9,1473.6 M1146.9,1473.6 L1147.3,1483.7 M1147.3,1483.7 L1147.6,1492.9 M1147.6,1492.9 L1147.9,1501.9 M1147.9,1501.9 L1148.1,1510.7 M1148.1,1510.7 L1148.4,1519.2 M1148.4,1519.2 L1148.7,1527.5 M1148.7,1527.5 L1149.0,1535.5 M1149.0,1535.5 L1149.4,1543.2 M1149.4,1543.2 L1149.7,1550.5 M1149.7,1550.5 L1150.1,1557.6 M1150.1,1557.6 L1150.5,1564.6 M1150.5,1564.6 L1151.0,1571.6 M1151.0,1571.6 L1151.6,1578.7 M1151.6,1578.7 L1152.3,1586.1 M1152.3,1586.1 L1153.1,1593.7 M1153.1,1593.7 L1153.9,1601.3 M1153.9,1601.3 L1154.8,1608.6 M1154.8,1608.6 L1155.8,1615.6 M1155.8,1615.6 L1156.8,1621.9 M1156.8,1621.9 L1157.8,1627.6 M1157.8,1627.6 L1158.8,1632.8 M1158.8,1632.8 L1159.9,1637.6" fill="none" stroke="#4a2ea0" stroke-width="5.5" stroke-linecap="round"/>
<path d="M360.2,2157.4 L360.7,2157.4 L361.5,2157.5 L362.4,2157.6 L363.3,2157.6 L364.3,2157.7 L365.2,2157.8 L366.0,2157.9 L366.9,2158.0 L367.7,2158.1 L368.5,2158.2 L369.4,2158.3 L370.2,2158.4 L371.0,2158.4 L371.9,2158.4 L372.7,2158.4 L373.5,2158.4 L374.4,2158.3 L375.2,2158.2 L376.0,2158.0 L376.9,2157.6 L377.7,2157.3 L378.5,2156.9 L379.4,2156.7 L380.2,2156.6 L381.0,2156.7 L381.9,2156.9 L382.7,2157.3 L383.5,2157.7 L384.4,2158.0 L385.2,2158.2 L386.0,2158.3 L386.9,2158.3 L387.7,2158.3 L388.5,2158.3 L389.4,2158.2 L390.2,2158.1 L391.0,2158.0 L391.9,2157.9 L392.7,2157.7 L393.5,2157.6 L394.4,2157.4 L395.2,2157.3 L396.0,2157.3 L396.9,2157.4 L397.7,2157.4 L398.5,2157.5 L399.4,2157.5 L400.2,2157.5 L401.0,2157.4 L401.9,2157.2 L402.7,2157.0 L403.5,2156.8 L404.4,2156.6 L405.2,2156.5 L406.0,2156.5 L406.9,2156.5 L407.7,2156.5 L408.5,2156.5 L409.4,2156.6 L410.2,2156.7 L411.0,2156.8 L411.9,2157.0 L412.7,2157.3 L413.5,2157.5 L414.4,2157.7 L415.2,2157.9 L416.0,2158.0 L416.9,2158.0 L417.7,2158.0 L418.5,2158.0 L419.4,2158.0 L420.2,2157.9 L421.0,2157.9 L421.9,2157.9 L422.7,2157.9 L423.5,2157.8 L424.4,2157.8 L425.2,2157.6 L426.0,2157.4 L426.9,2157.0 L427.7,2156.6 L428.5,2156.2 L429.4,2155.9 L430.2,2155.8 L431.0,2155.8 L431.9,2155.9 L432.7,2156.1 L433.5,2156.3 L434.4,2156.6 L435.2,2156.9 L436.0,2157.2 L436.9,2157.7 L437.7,2158.1 L438.5,2158.6 L439.4,2158.9 L440.2,2159.0 L441.0,2158.8 L441.9,2158.4 L442.7,2157.9 L443.5,2157.4 L444.4,2157.0 L445.2,2156.7 L446.0,2156.7 L446.9,2156.8 L447.7,2157.0 L448.5,2157.2 L449.4,2157.4 L450.2,2157.5 L451.0,2157.5 L451.8,2157.4 L452.6,2157.4 L453.4,2157.3 L454.3,2157.3 L455.2,2157.4 L456.2,2157.7 L457.3,2158.1 L458.4,2158.7 L459.6,2159.1 L460.8,2159.4 L462.0,2159.5 L463.3,2159.2 L464.7,2158.7 L466.1,2158.0 L467.5,2157.2 L468.8,2156.5 L470.0,2156.0 L471.0,2155.6 L472.0,2155.3 L472.8,2155.0 L473.7,2154.8 L474.5,2154.7 L475.4,2154.6 L476.2,2154.7 L477.1,2154.9 L478.0,2155.1 L478.9,2155.4 L479.8,2155.7 L480.7,2155.8 L481.6,2155.8 L482.5,2155.8 L483.4,2155.8 L484.3,2155.7 L485.2,2155.6 L486.0,2155.5 L486.9,2155.3 L487.8,2155.1 L488.7,2154.8 L489.6,2154.6 L490.5,2154.3 L491.4,2154.1 L492.3,2153.9 L493.2,2153.8 L494.1,2153.6 L495.0,2153.5 L495.9,2153.4 L496.8,2153.3 L497.6,2153.2 L498.5,2153.2 L499.4,2153.2 L500.3,2153.2 L501.2,2153.2 L502.1,2153.2 L503.0,2153.0 L503.9,2152.9 L504.8,2152.7 L505.7,2152.5 L506.6,2152.3 L507.4,2152.2 L508.3,2152.2 L509.2,2152.3 L510.0,2152.5 L510.9,2152.6 L511.8,2152.7 L512.8,2152.7 L513.9,2152.6 L515.1,2152.5 L516.3,2152.3 L517.5,2152.1 L518.8,2152.0 L520.0,2151.9 L521.2,2151.8 L522.5,2151.7 L523.7,2151.6 L524.9,2151.6 L526.1,2151.6 L527.2,2151.6 L528.2,2151.7 L529.2,2151.8 L530.2,2152.0 L531.1,2152.2 L532.0,2152.3 L533.0,2152.4 L533.9,2152.3 L534.9,2152.2 L535.8,2152.0 L536.8,2151.9 L537.8,2151.7 L538.7,2151.7 L539.7,2151.8 L540.6,2151.9 L541.6,2152.1 L542.6,2152.3 L543.5,2152.5 L544.5,2152.6 L545.4,2152.8 L546.4,2152.9 L547.4,2153.1 L548.3,2153.2 L549.3,2153.3 L550.2,2153.3 L551.2,2153.3 L552.2,2153.2 L553.1,2153.0 L554.1,2152.8 L555.1,2152.7 L556.0,2152.7 L556.9,2152.8 L557.8,2153.1 L558.7,2153.3 L559.6,2153.6 L560.5,2153.8 L561.4,2153.8 L562.3,2153.6 L563.2,2153.2 L564.1,2152.7 L565.0,2152.3 L565.9,2151.9 L566.8,2151.7 L567.7,2151.8 L568.6,2152.0 L569.5,2152.4 L570.4,2152.8 L571.3,2153.1 L572.2,2153.3 L573.1,2153.4 L574.0,2153.3 L574.9,2153.2 L575.8,2153.1 L576.7,2153.0 L577.6,2153.0 L578.5,2153.0 L579.4,2153.0 L580.3,2153.0 L581.2,2153.0 L582.1,2153.1 L583.0,2153.1 L583.9,2153.1 L584.8,2153.1 L585.7,2153.1 L586.6,2153.1 L587.5,2153.2 L588.4,2153.4 L589.3,2153.8 L590.2,2154.3 L591.1,2154.9 L592.0,2155.4 L592.9,2155.9 L593.8,2156.1 L594.7,2156.1 L595.6,2156.0 L596.5,2155.7 L597.4,2155.4 L598.3,2155.2 L599.2,2155.0 L600.1,2154.9 L600.9,2154.9 L601.8,2154.9 L602.7,2154.9 L603.5,2155.0 L604.4,2155.0 L605.3,2155.1 L606.1,2155.2 L607.0,2155.4 L607.9,2155.5 L608.7,2155.6 L609.6,2155.7 L610.4,2155.5 L611.3,2155.3 L612.2,2155.0 L613.0,2154.8 L613.9,2154.6 L614.8,2154.6 L615.6,2154.9 L616.5,2155.3 L617.4,2155.9 L618.2,2156.5 L619.1,2156.9 L620.0,2157.1 L620.8,2157.0 L621.7,2156.6 L622.6,2156.1 L623.4,2155.6 L624.3,2155.2 L625.2,2154.9 L626.0,2154.9 L626.9,2155.0 L627.7,2155.3 L628.6,2155.5 L629.5,2155.8 L630.3,2156.0 L631.2,2156.2 L632.1,2156.5 L632.9,2156.8 L633.8,2157.1 L634.7,2157.3 L635.5,2157.4 L636.4,2157.4 L637.3,2157.3 L638.1,2157.1 L639.0,2157.0 L639.9,2156.8 L640.7,2156.8 L641.6,2156.9 L642.5,2157.0 L643.3,2157.2 L644.2,2157.4 L645.0,2157.6 L645.9,2157.7 L646.8,2157.8 L647.6,2157.8 L648.5,2157.9 L649.3,2157.9 L650.2,2157.9 L651.1,2157.9 L652.0,2157.9 L653.0,2157.9 L653.9,2157.9 L654.9,2157.9 L655.9,2157.8 L656.9,2157.8 L657.8,2157.8 L658.8,2157.7 L659.7,2157.6 L660.7,2157.6 L661.6,2157.6 L662.6,2157.6 L663.6,2157.8 L664.5,2158.1 L665.5,2158.5 L666.4,2158.8 L667.4,2159.1 L668.4,2159.3 L669.3,2159.2 L670.3,2159.0 L671.2,2158.8 L672.2,2158.5 L673.1,2158.3 L674.1,2158.3 L675.1,2158.5 L676.0,2158.8 L677.0,2159.1 L677.9,2159.5 L678.9,2159.8 L679.9,2160.0 L680.8,2160.0 L681.8,2160.0 L682.8,2159.8 L683.7,2159.6 L684.7,2159.5 L685.6,2159.4 L686.5,2159.4 L687.4,2159.4 L688.2,2159.4 L689.1,2159.5 L689.9,2159.6 L690.8,2159.7 L691.7,2159.8 L692.5,2159.9 L693.4,2160.1 L694.2,2160.3 L695.1,2160.5 L696.0,2160.6 L696.8,2160.6 L697.7,2160.7 L698.6,2160.7 L699.4,2160.7 L700.3,2160.7 L701.2,2160.6 L702.0,2160.5 L702.9,2160.3 L703.8,2160.1 L704.6,2159.9 L705.5,2159.7 L706.4,2159.7 L707.2,2159.7 L708.1,2159.8 L709.0,2160.0 L709.8,2160.2 L710.7,2160.5 L711.5,2160.7 L712.4,2161.0 L713.3,2161.3 L714.1,2161.7 L715.0,2162.0 L715.9,2162.3 L716.7,2162.6 L717.6,2162.8 L718.5,2162.9 L719.3,2163.0 L720.2,2163.1 L721.1,2163.1 L721.9,2163.2 L722.8,2163.2 L723.7,2163.3 L724.5,2163.3 L725.4,2163.3 L726.3,2163.3 L727.1,2163.3 L728.0,2163.2 L728.9,2163.0 L729.7,2162.8 L730.6,2162.7 L731.4,2162.6 L732.3,2162.6 L733.2,2162.7 L734.0,2162.9 L734.9,2163.2 L735.7,2163.5 L736.6,2163.7 L737.5,2163.7 L738.4,2163.6 L739.4,2163.3 L740.3,2162.9 L741.3,2162.5 L742.3,2162.2 L743.2,2162.0 L744.2,2161.9 L745.2,2161.9 L746.1,2161.9 L747.1,2161.9 L748.0,2162.0 L749.0,2162.2 L750.0,2162.4 L750.9,2162.6 L751.9,2163.0 L752.8,2163.3 L753.8,2163.5 L754.8,2163.6 L755.7,2163.5 L756.7,2163.3 L757.6,2163.1 L758.6,2162.8 L759.5,2162.5 L760.5,2162.2 L761.5,2162.0 L762.4,2161.7 L763.4,2161.4 L764.3,2161.2 L765.3,2160.9 L766.2,2160.7 L767.2,2160.6 L768.2,2160.5 L769.2,2160.4 L770.1,2160.3 L771.1,2160.3 L772.0,2160.2 L772.9,2160.2 L773.8,2160.2 L774.6,2160.2 L775.5,2160.2 L776.4,2160.2 L777.2,2160.2 L778.1,2160.1 L779.0,2160.1 L779.8,2160.1 L780.7,2160.1 L781.6,2160.1 L782.5,2160.0 L783.3,2160.0 L784.2,2159.9 L785.1,2159.8 L785.9,2159.8 L786.8,2159.8 L787.7,2159.8 L788.6,2159.9 L789.4,2160.2 L790.3,2160.5 L791.2,2160.7 L792.1,2160.9 L792.9,2161.0 L793.8,2161.0 L794.7,2160.9 L795.5,2160.7 L796.4,2160.5 L797.3,2160.4 L798.2,2160.2 L799.0,2160.0 L799.9,2159.9 L800.8,2159.7 L801.6,2159.5 L802.5,2159.4 L803.4,2159.5 L804.3,2159.6 L805.1,2159.9 L806.0,2160.3 L806.9,2160.7 L807.7,2161.0 L808.6,2161.1 L809.5,2161.0 L810.4,2160.8 L811.2,2160.5 L812.1,2160.1 L813.0,2159.9 L813.8,2159.8 L814.7,2159.8 L815.6,2159.9 L816.5,2160.1 L817.3,2160.4 L818.2,2160.6 L819.1,2160.7 L819.9,2160.8 L820.8,2160.8 L821.7,2160.8 L822.6,2160.8 L823.4,2160.8 L824.3,2160.7 L825.2,2160.6 L826.1,2160.4 L826.9,2160.2 L827.8,2160.0 L828.7,2159.9 L829.5,2159.8 L830.4,2159.7 L831.3,2159.7 L832.2,2159.7 L833.0,2159.7 L833.9,2159.8 L834.8,2159.8 L835.6,2159.9 L836.5,2159.9 L837.4,2160.0 L838.3,2160.1 L839.1,2160.1 L840.0,2160.2 L840.8,2160.3 L841.7,2160.4 L842.5,2160.5 L843.3,2160.6 L844.2,2160.6 L845.0,2160.6 L845.8,2160.4 L846.7,2160.2 L847.5,2159.9 L848.3,2159.7 L849.2,2159.4 L850.0,2159.3 L850.8,2159.4 L851.7,2159.5 L852.5,2159.8 L853.3,2160.0 L854.2,2160.1 L855.0,2160.2 L855.8,2160.1 L856.7,2159.8 L857.5,2159.6 L858.3,2159.3 L859.2,2159.1 L860.0,2158.9 L860.8,2158.9 L861.7,2158.9 L862.5,2159.0 L863.3,2159.1 L864.2,2159.2 L865.0,2159.3 L865.8,2159.3 L866.7,2159.3 L867.5,2159.4 L868.3,2159.4 L869.2,2159.4 L870.0,2159.5 L870.8,2159.6 L871.7,2159.7 L872.5,2159.8 L873.3,2159.9 L874.2,2160.0 L875.0,2160.0 L875.8,2159.9 L876.7,2159.7 L877.5,2159.5 L878.3,2159.3 L879.2,2159.2 L880.0,2159.1 L880.8,2159.2 L881.7,2159.4 L882.5,2159.6 L883.3,2159.9 L884.2,2160.0 L885.0,2160.1 L885.8,2159.9 L886.7,2159.7 L887.5,2159.4 L888.3,2159.1 L889.2,2158.8 L890.0,2158.7 L890.8,2158.8 L891.7,2158.9 L892.5,2159.1 L893.3,2159.3 L894.2,2159.6 L895.0,2159.8 L895.8,2159.9 L896.7,2160.1 L897.5,2160.3 L898.3,2160.5 L899.2,2160.6 L900.0,2160.5 L900.8,2160.4 L901.7,2160.2 L902.5,2159.9 L903.3,2159.5 L904.2,2159.2 L905.0,2158.9 L905.8,2158.7 L906.7,2158.4 L907.5,2158.1 L908.3,2157.9 L909.2,2157.7 L910.0,2157.7 L910.8,2157.9 L911.7,2158.2 L912.5,2158.5 L913.3,2158.9 L914.2,2159.3 L915.0,2159.5 L915.8,2159.6 L916.7,2159.6 L917.5,2159.5 L918.3,2159.4 L919.2,2159.3 L920.0,2159.2 L920.8,2159.2 L921.7,2159.1 L922.5,2159.1 L923.3,2159.0 L924.2,2158.9 L925.0,2158.9 L925.8,2158.9 L926.7,2158.9 L927.5,2158.9 L928.3,2158.9 L929.2,2158.9 L930.0,2158.9 L930.8,2158.9 L931.7,2158.8 L932.5,2158.8 L933.3,2158.7 L934.2,2158.6 L935.0,2158.6 L935.8,2158.6 L936.7,2158.6 L937.5,2158.6 L938.3,2158.6 L939.2,2158.6 L940.0,2158.6 L940.8,2158.6 L941.7,2158.6 L942.5,2158.6 L943.3,2158.6 L944.2,2158.6 L945.0,2158.5 L945.8,2158.5 L946.7,2158.4 L947.5,2158.3 L948.3,2158.2 L949.2,2158.1 L950.0,2158.0 L950.8,2157.8 L951.7,2157.6 L952.5,2157.4 L953.3,2157.2 L954.2,2157.1 L955.0,2157.0 L955.8,2157.0 L956.7,2157.1 L957.5,2157.2 L958.3,2157.4 L959.2,2157.5 L960.0,2157.5 L960.8,2157.5 L961.7,2157.4 L962.5,2157.2 L963.3,2157.1 L964.2,2157.0 L965.0,2156.9 L965.8,2157.0 L966.7,2157.1 L967.5,2157.2 L968.3,2157.4 L969.2,2157.5 L970.0,2157.5 L970.8,2157.5 L971.7,2157.4 L972.5,2157.4 L973.3,2157.3 L974.2,2157.2 L975.0,2157.0 L975.8,2156.9 L976.7,2156.7 L977.5,2156.5 L978.3,2156.3 L979.2,2156.2 L980.0,2156.1 L980.8,2156.1 L981.7,2156.1 L982.5,2156.2 L983.3,2156.3 L984.2,2156.4 L985.0,2156.4 L985.8,2156.4 L986.7,2156.3 L987.5,2156.2 L988.3,2156.1 L989.2,2156.0 L990.0,2156.0 L990.8,2156.0 L991.7,2156.1 L992.5,2156.1 L993.3,2156.2 L994.2,2156.3 L995.0,2156.3 L995.8,2156.3 L996.7,2156.4 L997.5,2156.4 L998.3,2156.5 L999.2,2156.4 L1000.0,2156.4 L1000.8,2156.2 L1001.7,2156.0 L1002.5,2155.8 L1003.3,2155.5 L1004.2,2155.3 L1005.0,2155.2 L1005.8,2155.0 L1006.7,2155.0 L1007.5,2154.9 L1008.3,2154.9 L1009.2,2154.9 L1010.0,2154.9 L1010.8,2155.0 L1011.7,2155.0 L1012.5,2155.1 L1013.3,2155.2 L1014.2,2155.3 L1015.0,2155.2 L1015.8,2155.1 L1016.7,2154.9 L1017.5,2154.7 L1018.3,2154.5 L1019.2,2154.3 L1020.0,2154.2 L1020.8,2154.2 L1021.7,2154.4 L1022.5,2154.5 L1023.3,2154.7 L1024.2,2154.9 L1025.0,2155.0 L1025.8,2155.1 L1026.7,2155.2 L1027.5,2155.2 L1028.3,2155.3 L1029.2,2155.3 L1030.0,2155.3 L1030.8,2155.3 L1031.7,2155.2 L1032.5,2155.2 L1033.3,2155.1 L1034.2,2155.0 L1035.0,2155.0 L1035.8,2155.0 L1036.7,2155.0 L1037.5,2155.0 L1038.3,2155.0 L1039.2,2155.0 L1040.0,2155.0 L1040.8,2155.0 L1041.7,2155.0 L1042.5,2155.1 L1043.3,2155.1 L1044.2,2155.1 L1045.0,2155.1 L1045.8,2155.1 L1046.7,2155.1 L1047.5,2155.1 L1048.3,2155.1 L1049.2,2155.0 L1050.0,2154.9 L1050.8,2154.8 L1051.7,2154.6 L1052.5,2154.4 L1053.3,2154.2 L1054.2,2154.1 L1055.0,2153.9 L1055.8,2153.9 L1056.6,2153.9 L1057.5,2153.9 L1058.3,2153.9 L1059.1,2154.0 L1060.0,2154.0 L1060.9,2154.0 L1061.8,2154.0 L1062.8,2153.9 L1063.7,2153.9 L1064.6,2153.9 L1065.6,2154.0 L1066.5,2154.1 L1067.4,2154.4 L1068.4,2154.6 L1069.3,2154.9 L1070.2,2155.1 L1071.2,2155.1 L1072.1,2155.0 L1073.0,2154.8 L1074.0,2154.4 L1074.9,2154.1 L1075.8,2153.8 L1076.7,2153.7 L1077.7,2153.6 L1078.6,2153.7 L1079.5,2153.8 L1080.5,2153.9 L1081.4,2154.0 L1082.3,2154.0 L1083.2,2153.9 L1084.1,2153.8 L1085.0,2153.7 L1085.9,2153.5 L1086.9,2153.3 L1087.9,2153.1 L1089.0,2152.9 L1090.1,2152.6 L1091.3,2152.3 L1092.5,2152.0 L1093.7,2151.7 L1094.9,2151.5 L1096.1,2151.5 L1097.3,2151.6 L1098.5,2151.8 L1099.7,2151.8 L1100.8,2151.8 L1101.9,2151.4 L1102.9,2150.9 L1103.8,2150.5 L1104.6,2149.8 L1105.4,2148.8 L1106.2,2147.4 L1107.1,2145.2 L1108.0,2142.5 L1108.9,2139.3 L1109.8,2135.7 L1110.6,2131.4 L1111.5,2126.5 L1112.4,2120.8 L1113.3,2114.2 L1114.1,2106.8 L1115.0,2098.6 L1115.9,2090.0 L1116.7,2081.0 L1117.6,2071.9 L1118.5,2062.4 L1119.4,2052.4 L1120.2,2042.1 L1121.1,2031.6 L1122.0,2021.1 L1122.9,2010.8 L1123.8,2000.6 L1124.6,1990.4 L1125.5,1980.2 L1126.4,1970.1 L1127.2,1959.9 L1128.1,1949.7 L1129.0,1939.4 L1129.9,1929.0 L1130.7,1918.6 L1131.6,1908.3 L1132.5,1898.3 L1133.3,1888.6 L1134.1,1879.0 L1134.8,1869.3 L1135.5,1859.9 L1136.3,1851.0 L1137.0,1843.0 L1137.7,1836.2 L1138.4,1830.5 L1139.2,1825.6 L1139.9,1821.7 L1140.6,1818.6 L1141.4,1816.4 L1142.1,1815.2 L1142.8,1815.0 L1143.6,1815.7 L1144.4,1817.3 L1145.1,1819.8 L1145.8,1823.3 L1146.4,1827.5 L1146.9,1832.8 L1147.4,1839.1 L1147.9,1846.2 L1148.3,1854.1 L1148.7,1862.5 L1149.1,1871.1 L1149.5,1880.4 L1149.9,1890.5 L1150.3,1901.1 L1150.8,1911.8 L1151.2,1922.3 L1151.7,1932.2 L1152.2,1941.5 L1152.8,1950.6 L1153.3,1959.5 L1153.9,1968.1 L1154.6,1976.5 L1155.2,1984.6 L1155.8,1992.5 L1156.5,2000.3 L1157.1,2007.8 L1157.8,2015.0 L1158.6,2021.8 L1159.5,2028.3 L1160.5,2034.4 L1161.4,2040.3 L1162.5,2045.9 L1163.7,2051.0 L1165.0,2055.6 L1166.5,2059.7 L1168.3,2063.1 L1170.4,2065.7 L1172.6,2067.9 L1174.8,2069.8 L1176.9,2071.7 L1178.7,2073.7 L1180.2,2076.0 L1181.5,2078.4 L1182.6,2080.7 L1183.7,2082.9 L1184.7,2084.6 L1185.7,2085.9 L1186.7,2086.5 L1187.6,2086.6 L1188.4,2086.4 L1189.3,2085.9 L1190.1,2085.5 L1191.0,2085.2 L1191.6,2084.9 L1192.1,2084.5 L1192.6,2084.1 L1193.3,2083.8 L1194.4,2083.7 L1196.2,2084.1 L1198.9,2085.1 L1202.5,2086.6 L1206.5,2088.3 L1210.5,2090.1 L1214.2,2091.7 L1217.2,2092.9 L1219.4,2093.6 L1221.1,2094.0 L1222.5,2094.3 L1223.7,2094.4 L1224.8,2094.5 L1225.9,2094.6 L1227.0,2094.8 L1228.0,2094.9 L1228.9,2095.0 L1229.8,2095.0 L1230.7,2095.0 L1231.6,2095.0 L1232.5,2095.0 L1233.5,2094.9 L1234.4,2094.7 L1235.4,2094.6 L1236.3,2094.5 L1237.2,2094.4 L1238.2,2094.3 L1239.1,2094.2 L1240.1,2094.2 L1241.0,2094.1 L1242.0,2094.1 L1242.9,2094.1 L1243.9,2094.0 L1244.8,2093.8 L1245.8,2093.6 L1246.7,2093.5 L1247.7,2093.8 L1248.6,2094.6 L1249.5,2095.9 L1250.4,2097.6 L1251.2,2099.6 L1252.1,2101.9 L1252.9,2104.3 L1253.8,2106.8 L1254.7,2109.5 L1255.5,2112.6 L1256.3,2115.8 L1257.2,2118.9 L1258.1,2121.8 L1259.1,2124.3 L1260.2,2126.3 L1261.3,2128.1 L1262.5,2129.6 L1263.7,2130.9 L1264.9,2132.1 L1266.0,2133.0 L1267.1,2133.7 L1268.1,2134.2 L1269.1,2134.4 L1270.1,2134.6 L1271.1,2134.6 L1272.2,2134.8 L1273.2,2134.8 L1274.2,2134.8 L1275.3,2134.8 L1276.3,2134.7 L1277.3,2134.7 L1278.3,2134.8 L1279.2,2135.0 L1280.1,2135.4 L1281.0,2135.8 L1281.8,2136.2 L1282.7,2136.5 L1283.5,2136.6 L1284.4,2136.6 L1285.3,2136.4 L1286.2,2136.2 L1287.0,2135.9 L1287.9,2135.7 L1288.8,2135.7 L1289.7,2135.7 L1290.5,2135.9 L1291.4,2136.2 L1292.3,2136.4 L1293.1,2136.6 L1294.0,2136.7 L1294.9,2136.7 L1295.8,2136.5 L1296.6,2136.4 L1297.5,2136.2 L1298.4,2136.1 L1299.3,2136.0 L1300.1,2136.0 L1301.0,2136.1 L1301.8,2136.2 L1302.7,2136.4 L1303.6,2136.4 L1304.5,2136.5 L1305.4,2136.5 L1306.4,2136.5 L1307.4,2136.5 L1308.3,2136.5 L1309.3,2136.4 L1310.3,2136.2 L1311.3,2135.9 L1312.2,2135.5 L1313.2,2135.0 L1314.2,2134.5 L1315.1,2134.1 L1316.1,2133.8 L1317.1,2133.6 L1318.0,2133.4 L1319.0,2133.4 L1319.9,2133.3 L1320.9,2133.2 L1321.9,2133.0 L1322.9,2132.7 L1324.0,2132.4 L1325.1,2132.1 L1326.1,2131.7 L1327.2,2131.4 L1328.3,2131.2 L1329.4,2131.0 L1330.4,2130.9 L1331.5,2130.8 L1332.6,2130.7 L1333.6,2130.7 L1334.7,2130.6 L1335.8,2130.4 L1336.9,2130.2 L1338.0,2129.9 L1339.1,2129.7 L1340.1,2129.5 L1341.1,2129.5 L1342.0,2129.6 L1342.9,2129.8 L1343.8,2130.2 L1344.6,2130.5 L1345.4,2130.7 L1346.3,2130.8 L1347.2,2130.7 L1348.0,2130.4 L1348.9,2130.1 L1349.8,2129.8 L1350.6,2129.5 L1351.5,2129.3 L1352.4,2129.3 L1353.2,2129.3 L1354.1,2129.4 L1355.0,2129.5 L1355.8,2129.6 L1356.7,2129.8 L1357.6,2130.0 L1358.4,2130.3 L1359.3,2130.7 L1360.2,2131.0 L1361.0,2131.3 L1361.9,2131.4 L1362.8,2131.4 L1363.6,2131.3 L1364.5,2131.2 L1365.4,2131.0 L1366.2,2130.9 L1367.1,2130.8 L1368.0,2130.9 L1368.8,2131.0 L1369.7,2131.1 L1370.6,2131.3 L1371.4,2131.5 L1372.3,2131.6 L1373.2,2131.7 L1374.0,2131.8 L1374.8,2132.0 L1375.7,2132.1 L1376.5,2132.1 L1377.4,2132.1 L1378.2,2132.0 L1379.1,2131.8 L1379.9,2131.6 L1380.7,2131.4 L1381.6,2131.2 L1382.4,2131.0 L1383.3,2130.9 L1384.1,2130.8 L1385.0,2130.8 L1385.8,2130.8 L1386.6,2130.7 L1387.5,2130.7 L1388.3,2130.6 L1389.2,2130.6 L1390.0,2130.6 L1390.9,2130.5 L1391.7,2130.5 L1392.6,2130.5 L1393.4,2130.4 L1394.2,2130.4 L1395.1,2130.3 L1395.9,2130.3 L1396.8,2130.2 L1397.6,2130.1 L1398.5,2130.0 L1399.3,2129.9 L1400.2,2129.7 L1401.0,2129.6 L1401.8,2129.4 L1402.7,2129.3 L1403.5,2129.2 L1404.4,2129.0 L1405.2,2128.8 L1406.1,2128.7 L1406.9,2128.6 L1407.8,2128.5 L1408.6,2128.4 L1409.4,2128.4 L1410.3,2128.4 L1411.1,2128.4 L1412.0,2128.4 L1412.8,2128.4 L1413.7,2128.4 L1414.5,2128.5 L1415.3,2128.5 L1416.2,2128.6 L1417.0,2128.6 L1417.9,2128.5 L1418.7,2128.3 L1419.6,2128.0 L1420.4,2127.7 L1421.3,2127.3 L1422.1,2127.0 L1422.9,2126.8 L1423.8,2126.8 L1424.6,2126.8 L1425.5,2126.9 L1426.3,2127.0 L1427.2,2127.1 L1428.0,2127.1 L1428.9,2127.2 L1429.7,2127.4 L1430.5,2127.5 L1431.4,2127.7 L1432.2,2127.7 L1433.1,2127.6 L1433.9,2127.3 L1434.8,2126.8 L1435.6,2126.2 L1436.4,2125.6 L1437.3,2125.2 L1438.1,2124.9 L1439.0,2125.0 L1439.8,2125.3 L1440.6,2125.6 L1441.4,2126.0 L1442.3,2126.2 L1443.2,2126.1 L1444.2,2125.5 L1445.1,2124.5 L1446.2,2123.3 L1447.2,2122.2 L1448.4,2121.5 L1449.7,2121.3 L1451.1,2122.0 L1452.6,2123.4 L1454.2,2125.2 L1455.8,2126.9 L1457.6,2128.1 L1459.4,2128.4 L1461.4,2127.5 L1463.5,2125.7 L1465.7,2123.3 L1467.9,2121.0 L1470.1,2119.1 L1472.3,2118.1 L1474.5,2118.2 L1476.9,2119.1 L1479.2,2120.4 L1481.5,2121.9 L1483.5,2123.1 L1485.2,2123.9 L1486.5,2124.1 L1487.5,2124.0 L1488.4,2123.8 L1489.1,2123.4 L1489.8,2123.1 L1490.6,2122.9 L1491.5,2122.8 L1492.4,2122.8 L1493.2,2122.7 L1494.1,2122.7 L1495.0,2122.6 L1495.9,2122.5 L1496.8,2122.4 L1497.7,2122.2 L1498.6,2121.9 L1499.5,2121.7 L1500.4,2121.5 L1501.3,2121.2 L1502.2,2121.0 L1503.1,2120.8 L1504.0,2120.7 L1504.9,2120.5 L1505.8,2120.3 L1506.7,2120.2 L1507.6,2120.2 L1508.5,2120.2 L1509.3,2120.2 L1510.2,2120.3 L1511.1,2120.3 L1512.0,2120.2 L1512.9,2120.0 L1513.8,2119.8 L1514.6,2119.6 L1515.5,2119.3 L1516.4,2119.0 L1517.4,2118.7 L1518.4,2118.4 L1519.5,2118.1 L1520.6,2117.9 L1521.7,2117.6 L1522.8,2117.3 L1523.9,2117.0 L1524.9,2116.7 L1526.0,2116.3 L1527.1,2115.9 L1528.2,2115.6 L1529.3,2115.3 L1530.3,2115.2 L1531.4,2115.1 L1532.5,2115.1 L1533.6,2115.2 L1534.7,2115.3 L1535.8,2115.4 L1536.8,2115.5 L1537.8,2115.6 L1538.8,2115.8 L1539.7,2116.0 L1540.7,2116.2 L1541.6,2116.3 L1542.6,2116.4 L1543.6,2116.3 L1544.5,2116.2 L1545.5,2116.0 L1546.5,2115.9 L1547.4,2115.8 L1548.4,2115.8 L1549.4,2116.1 L1550.3,2116.4 L1551.3,2116.8 L1552.3,2117.2 L1553.2,2117.6 L1554.2,2117.8 L1555.2,2117.9 L1556.1,2117.8 L1557.1,2117.8 L1558.1,2117.6 L1559.0,2117.6 L1560.0,2117.5 L1560.8,2117.5 L1561.4,2117.4 L1562.1,2117.3 L1562.9,2117.3 L1564.0,2117.6 L1565.8,2118.1 L1568.3,2118.9 L1571.5,2120.0 L1575.1,2121.2 L1578.7,2122.7 L1582.2,2124.3 L1585.2,2126.1 L1587.7,2128.1 L1589.9,2130.3 L1591.9,2132.7 L1593.8,2135.3 L1595.8,2137.9 L1598.1,2140.6 L1600.7,2143.6 L1603.6,2146.9 L1606.6,2150.4 L1609.5,2153.6 L1612.1,2156.4 L1614.2,2158.4 L1615.7,2159.5 L1616.8,2159.8 L1617.6,2159.7 L1618.2,2159.3 L1618.8,2158.9 L1619.6,2158.7 L1620.5,2158.7 L1621.4,2158.6 L1622.3,2158.5 L1623.1,2158.5 L1624.0,2158.4 L1624.9,2158.4 L1625.8,2158.5 L1626.7,2158.7 L1627.6,2158.8 L1628.5,2159.0 L1629.4,2159.2 L1630.3,2159.4 L1631.2,2159.6 L1632.1,2159.8 L1633.0,2160.1 L1633.9,2160.3 L1634.8,2160.4 L1635.7,2160.5 L1636.6,2160.4 L1637.5,2160.2 L1638.4,2160.0 L1639.3,2159.8 L1640.2,2159.6 L1641.1,2159.6 L1642.0,2159.8 L1642.9,2160.2 L1643.8,2160.6 L1644.7,2161.0 L1645.6,2161.4 L1646.4,2161.5 L1647.3,2161.4 L1648.2,2161.1 L1649.1,2160.7 L1650.0,2160.3 L1650.9,2160.0 L1651.8,2160.0 L1652.7,2160.4 L1653.6,2161.0 L1654.5,2161.8 L1655.4,2162.6 L1656.3,2163.2 L1657.2,2163.6 L1658.1,2163.7 L1659.0,2163.6 L1659.9,2163.4 L1660.8,2163.1 L1661.7,2162.8 L1662.6,2162.6 L1663.5,2162.5 L1664.4,2162.4 L1665.3,2162.4 L1666.2,2162.4 L1667.1,2162.3 L1668.0,2162.3 L1668.9,2162.2 L1669.8,2162.1 L1670.7,2162.1 L1671.5,2162.0 L1672.4,2161.9 L1673.3,2161.8 L1674.2,2161.7 L1675.1,2161.6 L1676.0,2161.4 L1676.9,2161.3 L1677.8,2161.1 L1678.7,2161.0 L1679.6,2160.8 L1680.5,2160.7 L1681.4,2160.6 L1682.3,2160.5 L1683.2,2160.4 L1684.1,2160.2 L1685.0,2159.9 L1685.9,2159.6 L1686.8,2159.3 L1687.6,2158.9 L1688.5,2158.6 L1689.4,2158.4 L1690.3,2158.3 L1691.2,2158.3 L1692.1,2158.4 L1693.0,2158.4 L1693.9,2158.4 L1694.8,2158.4 L1695.7,2158.3 L1696.5,2158.1 L1697.4,2158.0 L1698.2,2157.8 L1699.0,2157.6 L1699.9,2157.5 L1700.7,2157.5 L1701.6,2157.5 L1702.4,2157.6 L1703.3,2157.7 L1704.1,2157.7 L1704.9,2157.8 L1705.8,2157.8 L1706.6,2157.9 L1707.5,2157.9 L1708.3,2158.0 L1709.2,2158.0 L1710.0,2157.9 L1710.9,2157.8 L1711.7,2157.6 L1712.5,2157.4 L1713.4,2157.1 L1714.2,2156.9 L1715.1,2156.8 L1715.9,2156.7 L1716.8,2156.6 L1717.6,2156.5 L1718.5,2156.5 L1719.3,2156.5 L1720.2,2156.5 L1721.0,2156.6 L1721.8,2156.7 L1722.7,2156.8 L1723.5,2157.0 L1724.4,2157.2 L1725.2,2157.3 L1726.1,2157.4 L1726.9,2157.4 L1727.8,2157.5 L1728.6,2157.5 L1729.5,2157.5 L1730.3,2157.5 L1731.1,2157.4 L1732.0,2157.2 L1732.8,2157.0 L1733.7,2156.8 L1734.5,2156.6 L1735.4,2156.4 L1736.2,2156.4 L1737.1,2156.4 L1737.9,2156.4 L1738.8,2156.4 L1739.6,2156.5 L1740.4,2156.5 L1741.3,2156.6 L1742.1,2156.7 L1743.0,2156.8 L1743.8,2156.9 L1744.7,2157.0 L1745.5,2156.9 L1746.4,2156.7 L1747.2,2156.4 L1748.0,2156.0 L1748.9,2155.6 L1749.7,2155.3 L1750.6,2155.1 L1751.4,2155.0 L1752.3,2154.9 L1753.1,2154.9 L1754.0,2154.9 L1754.8,2155.0 L1755.7,2155.0 L1756.5,2155.1 L1757.3,2155.2 L1758.2,2155.3 L1759.0,2155.3 L1759.9,2155.4 L1760.7,2155.4 L1761.4,2155.3 L1762.0,2155.1 L1762.6,2154.8 L1763.3,2154.7 L1764.3,2154.8 L1765.8,2155.2 L1768.0,2156.2 L1770.8,2157.6 L1773.8,2159.2 L1776.9,2160.9 L1779.7,2162.3 L1781.9,2163.2 L1783.4,2163.6 L1784.4,2163.6 L1785.2,2163.4 L1785.7,2163.0 L1786.3,2162.6 L1787.1,2162.3 L1787.9,2162.1 L1788.8,2161.9 L1789.6,2161.6 L1790.5,2161.4 L1791.4,2161.1 L1792.2,2160.9 L1793.1,2160.6 L1793.9,2160.4 L1794.8,2160.1 L1795.7,2159.9 L1796.5,2159.7 L1797.4,2159.5 L1798.2,2159.4 L1799.1,2159.4 L1800.0,2159.4 L1800.8,2159.5 L1801.7,2159.4 L1802.5,2159.4 L1803.4,2159.3 L1804.3,2159.1 L1805.1,2158.9 L1806.0,2158.7 L1806.8,2158.6 L1807.7,2158.4 L1808.6,2158.3 L1809.4,2158.1 L1810.3,2158.0 L1811.1,2157.8 L1812.0,2157.8 L1812.9,2157.7 L1813.7,2157.8 L1814.6,2157.9 L1815.4,2158.0 L1816.3,2158.2 L1817.2,2158.3 L1818.0,2158.4 L1818.9,2158.5 L1819.7,2158.5 L1820.6,2158.4 L1821.5,2158.4 L1822.3,2158.3 L1823.2,2158.2 L1824.0,2158.0 L1824.9,2157.8 L1825.8,2157.5 L1826.6,2157.2 L1827.5,2157.0 L1828.3,2156.9 L1829.1,2156.8 L1829.9,2156.8 L1830.6,2156.8 L1831.4,2156.9 L1832.4,2157.1 L1833.5,2157.4 L1834.9,2157.9 L1836.6,2158.7 L1838.3,2159.6 L1840.1,2160.4 L1841.8,2161.2 L1843.2,2161.6 L1844.4,2161.7 L1845.4,2161.6 L1846.2,2161.4 L1847.0,2161.1 L1847.9,2160.8 L1848.7,2160.7 L1849.7,2160.8 L1850.6,2160.9 L1851.5,2161.0 L1852.4,2161.2 L1853.3,2161.4 L1854.3,2161.5 L1855.2,2161.6 L1856.1,2161.7 L1857.0,2161.8 L1857.9,2161.9 L1858.9,2161.9 L1859.8,2161.8 L1860.7,2161.7 L1861.6,2161.5 L1862.5,2161.2 L1863.5,2161.0 L1864.4,2160.7 L1865.3,2160.5 L1866.2,2160.2 L1867.2,2160.0 L1868.1,2159.8 L1869.0,2159.6 L1869.9,2159.4 L1870.8,2159.4 L1871.8,2159.4 L1872.7,2159.4 L1873.6,2159.5 L1874.5,2159.7 L1875.4,2159.8 L1876.4,2159.9 L1877.4,2160.1 L1878.4,2160.2 L1879.5,2160.3 L1880.5,2160.4 L1881.3,2160.5 L1881.9,2160.6" fill="none" stroke="#7c201b" stroke-width="2.4" stroke-linejoin="round" stroke-linecap="round"/>
<path d="M1585.2,2126.1 L1587.7,2128.1" fill="none" stroke="#861b17" stroke-width="2.5" stroke-linecap="round"/>
<path d="M1142.8,1815.0 L1143.6,1815.7 M1170.4,2065.7 L1172.6,2067.9 M1172.6,2067.9 L1174.8,2069.8 M1174.8,2069.8 L1176.9,2071.7 M1247.7,2093.8 L1248.6,2094.6 M1263.7,2130.9 L1264.9,2132.1 M1264.9,2132.1 L1266.0,2133.0 M1587.7,2128.1 L1589.9,2130.3 M1612.1,2156.4 L1614.2,2158.4" fill="none" stroke="#861b17" stroke-width="3.0" stroke-linecap="round"/>
<path d="M1104.6,2149.8 L1105.4,2148.8 M1168.3,2063.1 L1170.4,2065.7 M1176.9,2071.7 L1178.7,2073.7 M1184.7,2084.6 L1185.7,2085.9 M1261.3,2128.1 L1262.5,2129.6 M1262.5,2129.6 L1263.7,2130.9 M1589.9,2130.3 L1591.9,2132.7 M1591.9,2132.7 L1593.8,2135.3 M1593.8,2135.3 L1595.8,2137.9 M1595.8,2137.9 L1598.1,2140.6 M1598.1,2140.6 L1600.7,2143.6 M1600.7,2143.6 L1603.6,2146.9 M1603.6,2146.9 L1606.6,2150.4 M1606.6,2150.4 L1609.5,2153.6 M1609.5,2153.6 L1612.1,2156.4" fill="none" stroke="#861b17" stroke-width="3.5" stroke-linecap="round"/>
<path d="M1141.4,1816.4 L1142.1,1815.2 M1178.7,2073.7 L1180.2,2076.0 M1248.6,2094.6 L1249.5,2095.9 M1260.2,2126.3 L1261.3,2128.1" fill="none" stroke="#861b17" stroke-width="4.0" stroke-linecap="round"/>
<path d="M1105.4,2148.8 L1106.2,2147.4 M1143.6,1815.7 L1144.4,1817.3 M1166.5,2059.7 L1168.3,2063.1 M1180.2,2076.0 L1181.5,2078.4 M1181.5,2078.4 L1182.6,2080.7 M1182.6,2080.7 L1183.7,2082.9 M1183.7,2082.9 L1184.7,2084.6 M1249.5,2095.9 L1250.4,2097.6 M1259.1,2124.3 L1260.2,2126.3" fill="none" stroke="#861b17" stroke-width="4.5" stroke-linecap="round"/>
<path d="M1106.2,2147.4 L1107.1,2145.2 M1107.1,2145.2 L1108.0,2142.5 M1140.6,1818.6 L1141.4,1816.4 M1165.0,2055.6 L1166.5,2059.7 M1250.4,2097.6 L1251.2,2099.6 M1251.2,2099.6 L1252.1,2101.9 M1252.1,2101.9 L1252.9,2104.3 M1252.9,2104.3 L1253.8,2106.8 M1258.1,2121.8 L1259.1,2124.3" fill="none" stroke="#861b17" stroke-width="5.0" stroke-linecap="round"/>
<path d="M1108.0,2142.5 L1108.9,2139.3 M1108.9,2139.3 L1109.8,2135.7 M1109.8,2135.7 L1110.6,2131.4 M1139.9,1821.7 L1140.6,1818.6 M1144.4,1817.3 L1145.1,1819.8 M1145.1,1819.8 L1145.8,1823.3 M1162.5,2045.9 L1163.7,2051.0 M1163.7,2051.0 L1165.0,2055.6 M1253.8,2106.8 L1254.7,2109.5 M1254.7,2109.5 L1255.5,2112.6 M1255.5,2112.6 L1256.3,2115.8 M1256.3,2115.8 L1257.2,2118.9 M1257.2,2118.9 L1258.1,2121.8" fill="none" stroke="#861b17" stroke-width="5.5" stroke-linecap="round"/>
<path d="M1110.6,2131.4 L1111.5,2126.5 M1111.5,2126.5 L1112.4,2120.8 M1112.4,2120.8 L1113.3,2114.2 M1113.3,2114.2 L1114.1,2106.8 M1114.1,2106.8 L1115.0,2098.6 M1115.0,2098.6 L1115.9,2090.0 M1115.9,2090.0 L1116.7,2081.0 M1116.7,2081.0 L1117.6,2071.9 M1117.6,2071.9 L1118.5,2062.4 M1118.5,2062.4 L1119.4,2052.4 M1119.4,2052.4 L1120.2,2042.1 M1120.2,2042.1 L1121.1,2031.6 M1121.1,2031.6 L1122.0,2021.1 M1122.0,2021.1 L1122.9,2010.8 M1122.9,2010.8 L1123.8,2000.6 M1123.8,2000.6 L1124.6,1990.4 M1124.6,1990.4 L1125.5,1980.2 M1125.5,1980.2 L1126.4,1970.1 M1126.4,1970.1 L1127.2,1959.9 M1127.2,1959.9 L1128.1,1949.7 M1128.1,1949.7 L1129.0,1939.4 M1129.0,1939.4 L1129.9,1929.0 M1129.9,1929.0 L1130.7,1918.6 M1130.7,1918.6 L1131.6,1908.3 M1131.6,1908.3 L1132.5,1898.3 M1132.5,1898.3 L1133.3,1888.6 M1133.3,1888.6 L1134.1,1879.0 M1134.1,1879.0 L1134.8,1869.3 M1134.8,1869.3 L1135.5,1859.9 M1135.5,1859.9 L1136.3,1851.0 M1136.3,1851.0 L1137.0,1843.0 M1137.0,1843.0 L1137.7,1836.2 M1137.7,1836.2 L1138.4,1830.5 M1138.4,1830.5 L1139.2,1825.6 M1139.2,1825.6 L1139.9,1821.7 M1145.8,1823.3 L1146.4,1827.5 M1146.4,1827.5 L1146.9,1832.8 M1146.9,1832.8 L1147.4,1839.1 M1147.4,1839.1 L1147.9,1846.2 M1147.9,1846.2 L1148.3,1854.1 M1148.3,1854.1 L1148.7,1862.5 M1148.7,1862.5 L1149.1,1871.1 M1149.1,1871.1 L1149.5,1880.4 M1149.5,1880.4 L1149.9,1890.5 M1149.9,1890.5 L1150.3,1901.1 M1150.3,1901.1 L1150.8,1911.8 M1150.8,1911.8 L1151.2,1922.3 M1151.2,1922.3 L1151.7,1932.2 M1151.7,1932.2 L1152.2,1941.5 M1152.2,1941.5 L1152.8,1950.6 M1152.8,1950.6 L1153.3,1959.5 M1153.3,1959.5 L1153.9,1968.1 M1153.9,1968.1 L1154.6,1976.5 M1154.6,1976.5 L1155.2,1984.6 M1155.2,1984.6 L1155.8,1992.5 M1155.8,1992.5 L1156.5,2000.3 M1156.5,2000.3 L1157.1,2007.8 M1157.1,2007.8 L1157.8,2015.0 M1157.8,2015.0 L1158.6,2021.8 M1158.6,2021.8 L1159.5,2028.3 M1159.5,2028.3 L1160.5,2034.4 M1160.5,2034.4 L1161.4,2040.3 M1161.4,2040.3 L1162.5,2045.9" fill="none" stroke="#861b17" stroke-width="6.0" stroke-linecap="round"/>
</g>
</svg></body></html>
